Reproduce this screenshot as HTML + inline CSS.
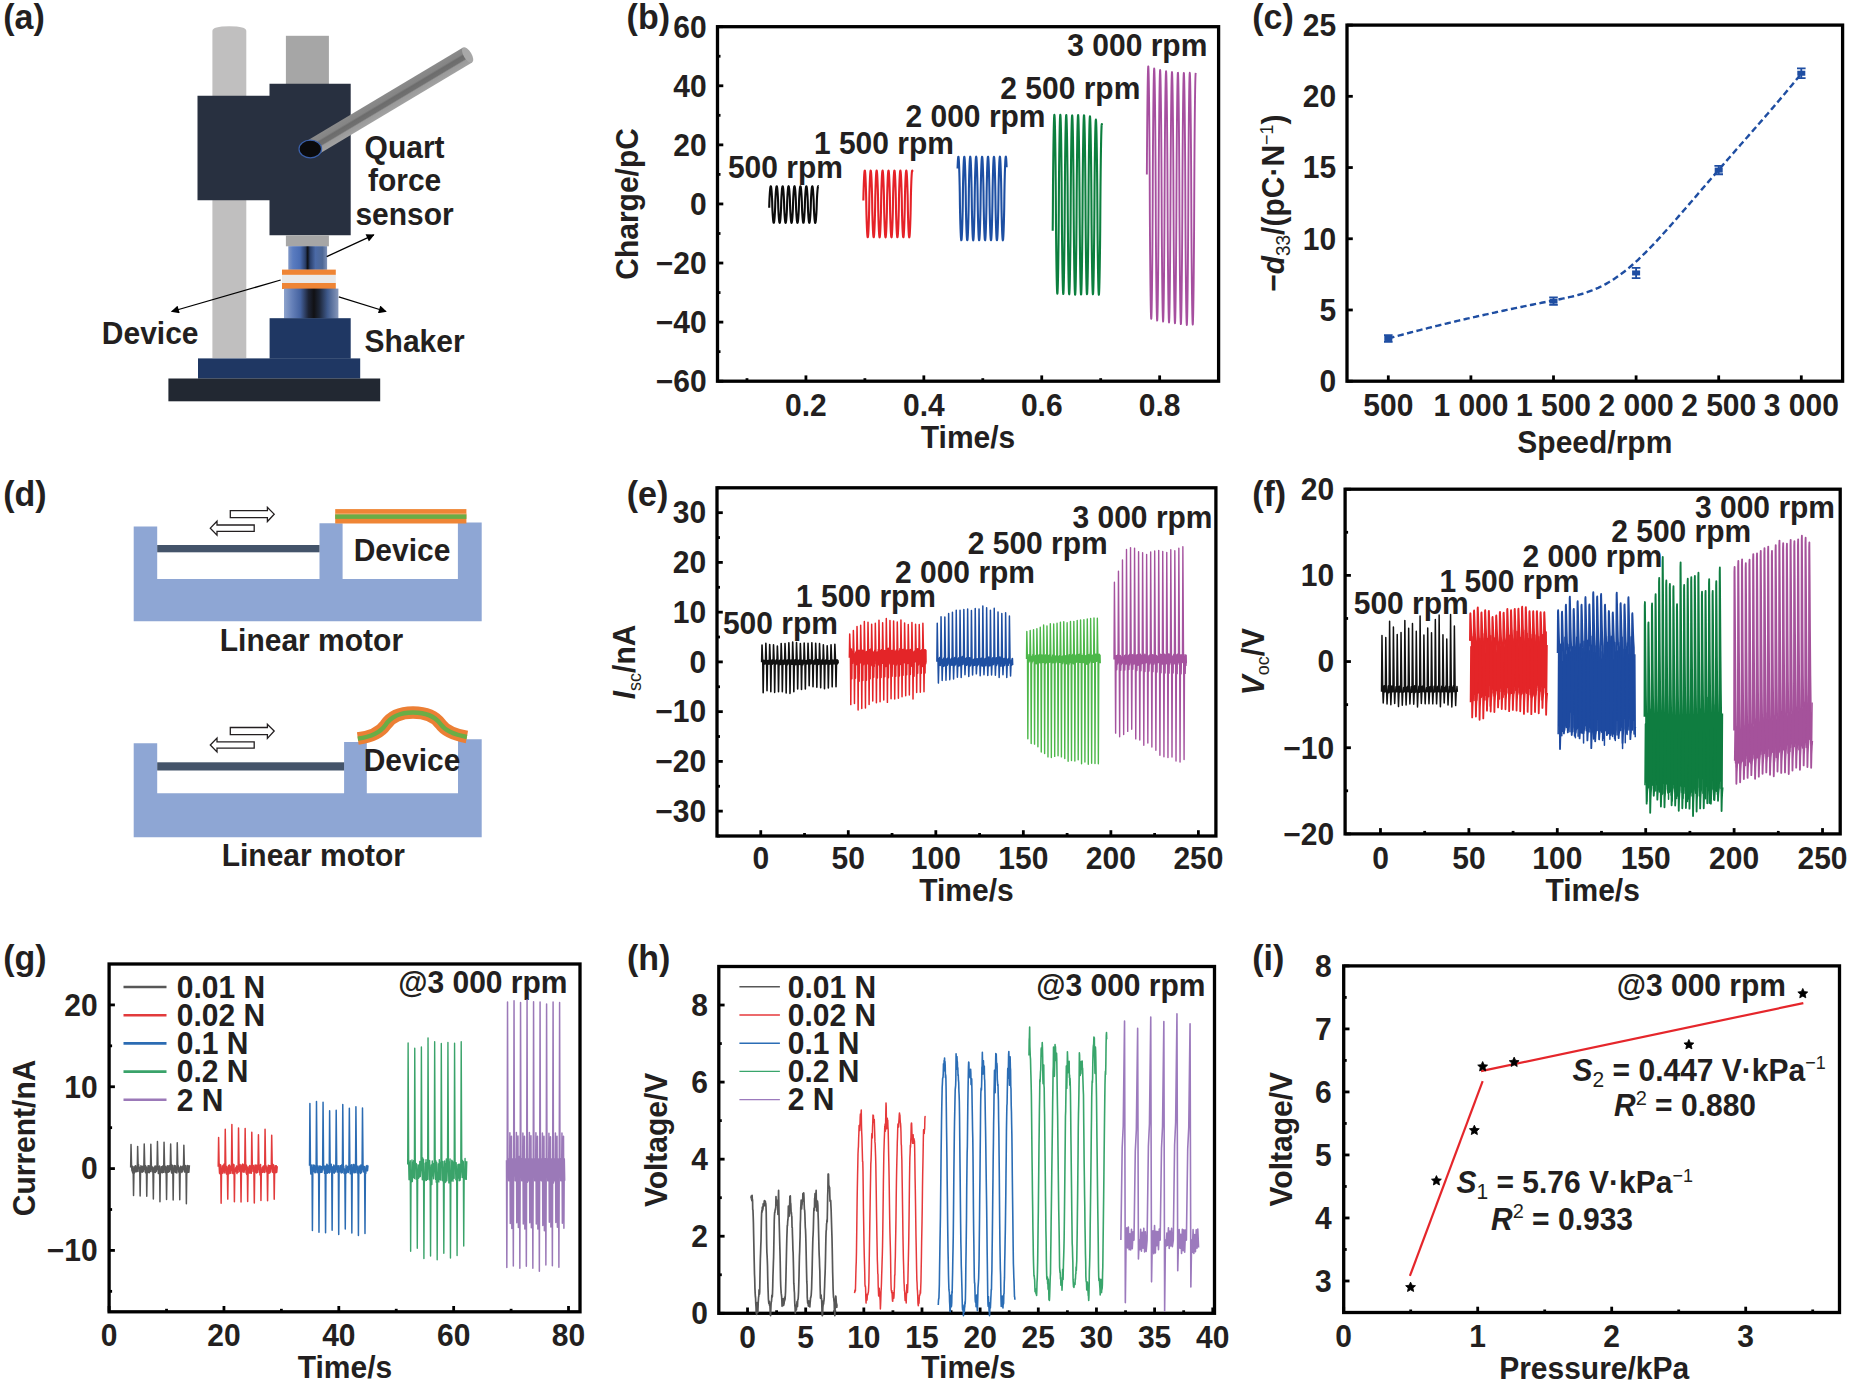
<!DOCTYPE html>
<html><head><meta charset="utf-8"><title>Figure</title>
<style>
html,body{margin:0;padding:0;background:#fff;}
body{width:1850px;height:1390px;overflow:hidden;}
svg{display:block;}
svg text{font-family:"Liberation Sans",Arial,Helvetica,sans-serif;font-weight:bold;fill:#231f20;}
</style></head><body>
<svg width="1850" height="1390" viewBox="0 0 1850 1390">
<rect x="0" y="0" width="1850" height="1390" fill="#fff"/>
<text transform="translate(3.2,28.9) scale(1,1.04)" font-size="34" text-anchor="start">(a)</text>
<text transform="translate(626.6,29) scale(1,1.04)" font-size="34" text-anchor="start">(b)</text>
<text transform="translate(1252.3,29) scale(1,1.04)" font-size="34" text-anchor="start">(c)</text>
<text transform="translate(3.2,505.5) scale(1,1.04)" font-size="34" text-anchor="start">(d)</text>
<text transform="translate(626.8,505.5) scale(1,1.04)" font-size="34" text-anchor="start">(e)</text>
<text transform="translate(1252.2,505.5) scale(1,1.04)" font-size="34" text-anchor="start">(f)</text>
<text transform="translate(3.2,970.2) scale(1,1.04)" font-size="34" text-anchor="start">(g)</text>
<text transform="translate(626.9,970.2) scale(1,1.04)" font-size="34" text-anchor="start">(h)</text>
<text transform="translate(1252.3,970.2) scale(1,1.04)" font-size="34" text-anchor="start">(i)</text>
<line x1="805.93" y1="381.2" x2="805.93" y2="375.4" stroke="#000" stroke-width="2.8"/>
<line x1="923.84" y1="381.2" x2="923.84" y2="375.4" stroke="#000" stroke-width="2.8"/>
<line x1="1041.74" y1="381.2" x2="1041.74" y2="375.4" stroke="#000" stroke-width="2.8"/>
<line x1="1159.65" y1="381.2" x2="1159.65" y2="375.4" stroke="#000" stroke-width="2.8"/>
<line x1="746.98" y1="381.2" x2="746.98" y2="378.2" stroke="#000" stroke-width="2.8"/>
<line x1="864.88" y1="381.2" x2="864.88" y2="378.2" stroke="#000" stroke-width="2.8"/>
<line x1="982.79" y1="381.2" x2="982.79" y2="378.2" stroke="#000" stroke-width="2.8"/>
<line x1="1100.69" y1="381.2" x2="1100.69" y2="378.2" stroke="#000" stroke-width="2.8"/>
<line x1="717.5" y1="381.2" x2="723.3" y2="381.2" stroke="#000" stroke-width="2.8"/>
<line x1="717.5" y1="322.12" x2="723.3" y2="322.12" stroke="#000" stroke-width="2.8"/>
<line x1="717.5" y1="263.03" x2="723.3" y2="263.03" stroke="#000" stroke-width="2.8"/>
<line x1="717.5" y1="203.95" x2="723.3" y2="203.95" stroke="#000" stroke-width="2.8"/>
<line x1="717.5" y1="144.87" x2="723.3" y2="144.87" stroke="#000" stroke-width="2.8"/>
<line x1="717.5" y1="85.78" x2="723.3" y2="85.78" stroke="#000" stroke-width="2.8"/>
<line x1="717.5" y1="26.7" x2="723.3" y2="26.7" stroke="#000" stroke-width="2.8"/>
<line x1="717.5" y1="351.66" x2="720.5" y2="351.66" stroke="#000" stroke-width="2.8"/>
<line x1="717.5" y1="292.57" x2="720.5" y2="292.57" stroke="#000" stroke-width="2.8"/>
<line x1="717.5" y1="233.49" x2="720.5" y2="233.49" stroke="#000" stroke-width="2.8"/>
<line x1="717.5" y1="174.41" x2="720.5" y2="174.41" stroke="#000" stroke-width="2.8"/>
<line x1="717.5" y1="115.32" x2="720.5" y2="115.32" stroke="#000" stroke-width="2.8"/>
<line x1="717.5" y1="56.24" x2="720.5" y2="56.24" stroke="#000" stroke-width="2.8"/>
<rect x="717.5" y="26.7" width="501.1" height="354.5" fill="none" stroke="#000" stroke-width="3.3"/>
<text transform="translate(805.93,415.5) scale(1,1.04)" font-size="30" text-anchor="middle">0.2</text>
<text transform="translate(923.84,415.5) scale(1,1.04)" font-size="30" text-anchor="middle">0.4</text>
<text transform="translate(1041.74,415.5) scale(1,1.04)" font-size="30" text-anchor="middle">0.6</text>
<text transform="translate(1159.65,415.5) scale(1,1.04)" font-size="30" text-anchor="middle">0.8</text>
<text transform="translate(706.6,392) scale(1,1.04)" font-size="30" text-anchor="end">−60</text>
<text transform="translate(706.6,332.92) scale(1,1.04)" font-size="30" text-anchor="end">−40</text>
<text transform="translate(706.6,273.83) scale(1,1.04)" font-size="30" text-anchor="end">−20</text>
<text transform="translate(706.6,214.75) scale(1,1.04)" font-size="30" text-anchor="end">0</text>
<text transform="translate(706.6,155.67) scale(1,1.04)" font-size="30" text-anchor="end">20</text>
<text transform="translate(706.6,96.58) scale(1,1.04)" font-size="30" text-anchor="end">40</text>
<text transform="translate(706.6,37.5) scale(1,1.04)" font-size="30" text-anchor="end">60</text>
<text transform="translate(968.05,447.8) scale(1,1.04)" font-size="30" text-anchor="middle">Time/s</text>
<text transform="translate(638.3,203.95) rotate(-90) scale(1,1.04)" font-size="30" text-anchor="middle">Charge/pC</text>
<polyline points="769.2,207.79 769.35,202.38 769.5,198.78 769.65,195.94 769.8,193.54 769.95,191.5 770.1,189.79 770.24,188.41 770.39,187.36 770.54,186.65 770.69,186.28 770.84,186.25 770.99,186.57 771.14,187.22 771.29,188.21 771.44,189.53 771.59,191.18 771.73,193.17 771.88,195.51 772.03,198.26 772.18,201.67 772.33,207.12 772.48,210.6 772.63,213.39 772.78,215.75 772.93,217.76 773.08,219.44 773.22,220.79 773.37,221.8 773.52,222.48 773.67,222.82 773.82,222.81 773.97,222.47 774.12,221.78 774.27,220.76 774.42,219.4 774.57,217.72 774.71,215.7 774.86,213.33 775.01,210.53 775.16,207.01 775.31,201.57 775.46,198.18 775.61,195.44 775.76,193.12 775.91,191.14 776.06,189.5 776.2,188.18 776.35,187.2 776.5,186.56 776.65,186.25 776.8,186.29 776.95,186.67 777.1,187.39 777.25,188.44 777.4,189.83 777.55,191.54 777.69,193.59 777.84,196 777.99,198.85 778.14,202.49 778.29,207.89 778.44,211.18 778.59,213.88 778.74,216.17 778.89,218.12 779.04,219.73 779.18,221.01 779.33,221.96 779.48,222.57 779.63,222.84 779.78,222.77 779.93,222.36 780.08,221.61 780.23,220.52 780.38,219.1 780.52,217.35 780.67,215.27 780.82,212.82 780.97,209.92 781.12,206.14 781.27,200.83 781.42,197.61 781.57,194.96 781.72,192.71 781.87,190.79 782.01,189.21 782.16,187.96 782.31,187.05 782.46,186.47 782.61,186.23 782.76,186.34 782.91,186.78 783.06,187.56 783.21,188.68 783.36,190.13 783.5,191.91 783.65,194.03 783.8,196.52 783.95,199.48 784.1,203.45 784.25,208.6 784.4,211.75 784.55,214.35 784.7,216.58 784.85,218.46 784.99,220 785.14,221.22 785.29,222.1 785.44,222.65 785.59,222.85 785.74,222.72 785.89,222.24 786.04,221.42 786.19,220.27 786.34,218.79 786.48,216.98 786.63,214.82 786.78,212.3 786.93,209.28 787.08,205.03 787.23,200.14 787.38,197.06 787.53,194.5 787.68,192.31 787.83,190.46 787.97,188.95 788.12,187.76 788.27,186.91 788.42,186.4 788.57,186.23 788.72,186.4 788.87,186.91 789.02,187.76 789.17,188.94 789.32,190.45 789.46,192.3 789.61,194.49 789.76,197.05 789.91,200.13 790.06,205 790.21,209.27 790.36,212.29 790.51,214.81 790.66,216.97 790.81,218.78 790.95,220.27 791.1,221.42 791.25,222.24 791.4,222.72 791.55,222.86 791.7,222.65 791.85,222.11 792,221.23 792.15,220.01 792.3,218.46 792.44,216.59 792.59,214.36 792.74,211.76 792.89,208.62 793.04,203.47 793.19,199.49 793.34,196.53 793.49,194.04 793.64,191.92 793.79,190.14 793.93,188.69 794.08,187.57 794.23,186.78 794.38,186.34 794.53,186.23 794.68,186.47 794.83,187.05 794.98,187.96 795.13,189.21 795.28,190.79 795.42,192.7 795.57,194.95 795.72,197.6 795.87,200.82 796.02,206.12 796.17,209.91 796.32,212.81 796.47,215.26 796.62,217.35 796.76,219.1 796.91,220.52 797.06,221.6 797.21,222.36 797.36,222.77 797.51,222.84 797.66,222.57 797.81,221.96 797.96,221.01 798.11,219.73 798.25,218.12 798.4,216.18 798.55,213.89 798.7,211.2 798.85,207.9 799,202.51 799.15,198.87 799.3,196.02 799.45,193.6 799.6,191.55 799.74,189.83 799.89,188.45 800.04,187.39 800.19,186.67 800.34,186.29 800.49,186.25 800.64,186.55 800.79,187.2 800.94,188.18 801.09,189.49 801.23,191.13 801.38,193.11 801.53,195.43 801.68,198.17 801.83,201.55 801.98,207 802.13,210.52 802.28,213.32 802.43,215.69 802.58,217.71 802.72,219.4 802.87,220.75 803.02,221.78 803.17,222.46 803.32,222.81 803.47,222.82 803.62,222.48 803.77,221.8 803.92,220.79 804.07,219.45 804.21,217.77 804.36,215.76 804.51,213.4 804.66,210.62 804.81,207.13 804.96,201.69 805.11,198.27 805.26,195.52 805.41,193.18 805.56,191.19 805.7,189.54 805.85,188.21 806,187.22 806.15,186.57 806.3,186.26 806.45,186.28 806.6,186.65 806.75,187.36 806.9,188.41 807.05,189.78 807.19,191.49 807.34,193.53 807.49,195.93 807.64,198.76 807.79,202.36 807.94,207.78 808.09,211.1 808.24,213.81 808.39,216.11 808.54,218.06 808.68,219.69 808.83,220.98 808.98,221.94 809.13,222.56 809.28,222.84 809.43,222.78 809.58,222.38 809.73,221.63 809.88,220.56 810.03,219.15 810.17,217.41 810.32,215.33 810.47,212.9 810.62,210.01 810.77,206.28 810.92,200.94 811.07,197.7 811.22,195.03 811.37,192.77 811.51,190.84 811.66,189.26 811.81,188 811.96,187.07 812.11,186.48 812.26,186.23 812.41,186.33 812.56,186.76 812.71,187.54 812.86,188.65 813,190.09 813.15,191.86 813.3,193.97 813.45,196.44 813.6,199.38 813.75,203.29 813.9,208.5 814.05,211.66 814.2,214.28 814.35,216.52 814.49,218.41 814.64,219.96 814.79,221.19 814.94,222.08 815.09,222.64 815.24,222.85 815.39,222.73 815.54,222.26 815.69,221.45 815.84,220.31 815.98,218.84 816.13,217.03 816.28,214.89 816.43,212.38 816.58,209.38 816.73,205.23 816.88,200.24 817.03,197.14 817.18,194.56 817.33,192.37 817.47,190.51 817.62,188.98 817.77,187.79 817.92,186.93 818.07,186.41 818.22,186.23 818.37,186.39" fill="none" stroke="#0b0b0b" stroke-width="2.1" stroke-linejoin="round"/>
<polyline points="863.35,200.42 863.5,193.73 863.65,188.51 863.8,184.1 863.95,180.35 864.09,177.2 864.24,174.66 864.39,172.73 864.54,171.4 864.69,170.69 864.84,170.61 864.99,171.15 865.14,172.31 865.29,174.08 865.44,176.46 865.58,179.44 865.73,183.03 865.88,187.26 866.03,192.23 866.18,198.36 866.33,208.26 866.48,214.72 866.63,219.85 866.78,224.19 866.93,227.88 867.07,230.97 867.22,233.45 867.37,235.33 867.52,236.6 867.67,237.24 867.82,237.27 867.97,236.67 868.12,235.45 868.27,233.61 868.42,231.18 868.56,228.14 868.71,224.49 868.86,220.2 869.01,215.14 869.16,208.83 869.31,198.9 869.46,192.64 869.61,187.6 869.76,183.32 869.91,179.69 870.05,176.66 870.2,174.24 870.35,172.42 870.5,171.21 870.65,170.63 870.8,170.67 870.95,171.33 871.1,172.6 871.25,174.5 871.4,176.99 871.54,180.09 871.69,183.8 871.84,188.16 871.99,193.3 872.14,199.81 872.29,209.7 872.44,215.79 872.59,220.75 872.74,224.96 872.88,228.53 873.03,231.5 873.18,233.86 873.33,235.62 873.48,236.77 873.63,237.3 873.78,237.2 873.93,236.48 874.08,235.14 874.23,233.19 874.37,230.63 874.52,227.48 874.67,223.71 874.82,219.28 874.97,214.04 875.12,207.29 875.27,197.53 875.42,191.59 875.57,186.72 875.72,182.57 875.86,179.06 876.01,176.15 876.16,173.84 876.31,172.14 876.46,171.05 876.61,170.59 876.76,170.75 876.91,171.53 877.06,172.92 877.21,174.93 877.35,177.55 877.5,180.76 877.65,184.59 877.8,189.09 877.95,194.42 878.1,201.47 878.25,211.02 878.4,216.82 878.55,221.62 878.7,225.7 878.84,229.15 878.99,232 879.14,234.25 879.29,235.89 879.44,236.92 879.59,237.33 879.74,237.11 879.89,236.27 880.04,234.81 880.19,232.74 880.33,230.07 880.48,226.79 880.63,222.9 880.78,218.34 880.93,212.9 881.08,205.44 881.23,196.25 881.38,190.58 881.53,185.86 881.68,181.84 881.82,178.44 881.97,175.65 882.12,173.46 882.27,171.88 882.42,170.91 882.57,170.57 882.72,170.85 882.87,171.75 883.02,173.27 883.17,175.39 883.31,178.12 883.46,181.46 883.61,185.41 883.76,190.05 883.91,195.6 884.06,203.83 884.21,212.26 884.36,217.82 884.51,222.46 884.66,226.42 884.8,229.75 884.95,232.49 885.1,234.62 885.25,236.14 885.4,237.05 885.55,237.33 885.7,236.99 885.85,236.03 886,234.45 886.15,232.27 886.29,229.48 886.44,226.09 886.59,222.07 886.74,217.36 886.89,211.69 887.04,202.53 887.19,195.04 887.34,189.6 887.49,185.03 887.63,181.13 887.78,177.85 887.93,175.18 888.08,173.1 888.23,171.64 888.38,170.8 888.53,170.57 888.68,170.97 888.83,172 888.98,173.63 889.12,175.88 889.27,178.72 889.42,182.18 889.57,186.25 889.72,191.04 889.87,196.83 890.02,206.36 890.17,213.44 890.32,218.78 890.47,223.28 890.61,227.11 890.76,230.33 890.91,232.95 891.06,234.96 891.21,236.37 891.36,237.15 891.51,237.31 891.66,236.85 891.81,235.77 891.96,234.08 892.1,231.77 892.25,228.87 892.4,225.36 892.55,221.21 892.7,216.35 892.85,210.42 893,200.66 893.15,193.9 893.3,188.65 893.45,184.22 893.59,180.45 893.74,177.29 893.89,174.73 894.04,172.77 894.19,171.43 894.34,170.71 894.49,170.6 894.64,171.12 894.79,172.27 894.94,174.02 895.08,176.38 895.23,179.35 895.38,182.92 895.53,187.12 895.68,192.07 895.83,198.15 895.98,208.03 896.13,214.56 896.28,219.71 896.43,224.07 896.57,227.79 896.72,230.89 896.87,233.39 897.02,235.28 897.17,236.57 897.32,237.23 897.47,237.27 897.62,236.69 897.77,235.49 897.92,233.68 898.06,231.25 898.21,228.23 898.36,224.6 898.51,220.33 898.66,215.3 898.81,209.05 898.96,199.12 899.11,192.8 899.26,187.73 899.41,183.44 899.55,179.79 899.7,176.74 899.85,174.3 900,172.46 900.15,171.24 900.3,170.64 900.45,170.66 900.6,171.3 900.75,172.56 900.9,174.43 901.04,176.91 901.19,179.99 901.34,183.68 901.49,188.02 901.64,193.14 901.79,199.59 901.94,209.5 902.09,215.64 902.24,220.61 902.38,224.84 902.53,228.44 902.68,231.42 902.83,233.8 902.98,235.58 903.13,236.75 903.28,237.29 903.43,237.21 903.58,236.51 903.73,235.19 903.87,233.25 904.02,230.71 904.17,227.58 904.32,223.83 904.47,219.42 904.62,214.21 904.77,207.53 904.92,197.72 905.07,191.74 905.22,186.85 905.36,182.68 905.51,179.15 905.66,176.22 905.81,173.9 905.96,172.18 906.11,171.07 906.26,170.59 906.41,170.73 906.56,171.49 906.71,172.88 906.85,174.87 907,177.46 907.15,180.66 907.3,184.47 907.45,188.95 907.6,194.25 907.75,201.21 907.9,210.83 908.05,216.67 908.2,221.49 908.34,225.59 908.49,229.06 908.64,231.93 908.79,234.2 908.94,235.86 909.09,236.9 909.24,237.32 909.39,237.12 909.54,236.3 909.69,234.86 909.83,232.81 909.98,230.15 910.13,226.9 910.28,223.02 910.43,218.48 910.58,213.07 910.73,205.75 910.88,196.43 911.03,190.72 911.18,185.98 911.32,181.95 911.47,178.53 911.62,175.72 911.77,173.51 911.92,171.92 912.07,170.93 912.22,170.57 912.37,170.83 912.52,171.71" fill="none" stroke="#e52228" stroke-width="2.1" stroke-linejoin="round"/>
<polyline points="957.56,168.43 957.71,164.58 957.85,161.48 958,159.15 958.15,157.58 958.3,156.79 958.45,156.78 958.6,157.55 958.75,159.09 958.9,161.41 959.05,164.49 959.2,168.31 959.35,172.91 959.49,178.31 959.64,184.68 959.79,192.65 959.94,205.09 960.09,212.87 960.24,219.14 960.39,224.47 960.54,229 960.69,232.77 960.84,235.78 960.99,238.03 961.13,239.52 961.28,240.22 961.43,240.15 961.58,239.29 961.73,237.66 961.88,235.26 962.03,232.1 962.18,228.19 962.33,223.51 962.48,218.01 962.63,211.52 962.77,203.23 962.92,190.9 963.07,183.36 963.22,177.2 963.37,171.96 963.52,167.52 963.67,163.83 963.82,160.9 963.97,158.74 964.12,157.34 964.27,156.72 964.41,156.88 964.56,157.82 964.71,159.54 964.86,162.02 965.01,165.26 965.16,169.26 965.31,174.02 965.46,179.61 965.61,186.25 965.76,194.91 965.91,207 966.05,214.34 966.2,220.39 966.35,225.54 966.5,229.89 966.65,233.49 966.8,236.34 966.95,238.43 967.1,239.74 967.25,240.27 967.4,240.03 967.55,239 967.69,237.2 967.84,234.63 967.99,231.31 968.14,227.23 968.29,222.38 968.44,216.68 968.59,209.91 968.74,200.74 968.89,189.07 969.04,181.91 969.18,175.98 969.33,170.92 969.48,166.64 969.63,163.13 969.78,160.36 969.93,158.36 970.08,157.13 970.23,156.69 970.38,157.02 970.53,158.13 970.68,160.02 970.82,162.67 970.97,166.07 971.12,170.23 971.27,175.17 971.42,180.97 971.57,187.89 971.72,197.94 971.87,208.77 972.02,215.76 972.17,221.59 972.32,226.56 972.46,230.75 972.61,234.18 972.76,236.86 972.91,238.78 973.06,239.92 973.21,240.29 973.36,239.87 973.51,238.67 973.66,236.7 973.81,233.97 973.96,230.48 974.1,226.23 974.25,221.2 974.4,215.31 974.55,208.22 974.7,196.76 974.85,187.35 975,180.53 975.15,174.8 975.3,169.91 975.45,165.81 975.6,162.45 975.74,159.86 975.89,158.03 976.04,156.97 976.19,156.69 976.34,157.2 976.49,158.48 976.64,160.53 976.79,163.35 976.94,166.92 977.09,171.25 977.24,176.37 977.38,182.37 977.53,189.64 977.68,201.62 977.83,210.44 977.98,217.12 978.13,222.75 978.28,227.54 978.43,231.57 978.58,234.84 978.73,237.35 978.88,239.1 979.02,240.07 979.17,240.26 979.32,239.67 979.47,238.3 979.62,236.16 979.77,233.26 979.92,229.61 980.07,225.2 980.22,219.99 980.37,213.87 980.52,206.4 980.66,194.14 980.81,185.73 980.96,179.19 981.11,173.66 981.26,168.95 981.41,165.01 981.56,161.82 981.71,159.39 981.86,157.73 982.01,156.84 982.16,156.74 982.3,157.41 982.45,158.86 982.6,161.09 982.75,164.07 982.9,167.81 983.05,172.3 983.2,177.6 983.35,183.84 983.5,191.53 983.65,203.94 983.8,212.02 983.94,218.43 984.09,223.87 984.24,228.49 984.39,232.35 984.54,235.45 984.69,237.8 984.84,239.38 984.99,240.18 985.14,240.2 985.29,239.44 985.44,237.9 985.58,235.59 985.73,232.53 985.88,228.71 986.03,224.12 986.18,218.73 986.33,212.38 986.48,204.43 986.63,191.99 986.78,184.19 986.93,177.9 987.08,172.56 987.22,168.02 987.37,164.24 987.52,161.22 987.67,158.96 987.82,157.47 987.97,156.75 988.12,156.82 988.27,157.66 988.42,159.29 988.57,161.68 988.72,164.83 988.86,168.73 989.01,173.4 989.16,178.88 989.31,185.36 989.46,193.61 989.61,205.96 989.76,213.53 989.91,219.7 990.06,224.95 990.21,229.4 990.35,233.1 990.5,236.03 990.65,238.21 990.8,239.62 990.95,240.25 991.1,240.1 991.25,239.17 991.4,237.46 991.55,234.98 991.7,231.75 991.85,227.77 991.99,223.01 992.14,217.43 992.29,210.81 992.44,202.2 992.59,190.07 992.74,182.71 992.89,176.65 993.04,171.49 993.19,167.13 993.34,163.51 993.49,160.66 993.63,158.57 993.78,157.24 993.93,156.7 994.08,156.94 994.23,157.95 994.38,159.75 994.53,162.3 994.68,165.62 994.83,169.69 994.98,174.53 995.13,180.21 995.27,186.97 995.42,196.07 995.57,207.8 995.72,214.98 995.87,220.93 996.02,225.99 996.17,230.28 996.32,233.81 996.47,236.58 996.62,238.59 996.77,239.82 996.91,240.28 997.06,239.96 997.21,238.86 997.36,236.98 997.51,234.34 997.66,230.94 997.81,226.79 997.96,221.86 998.11,216.08 998.26,209.17 998.41,199.27 998.55,188.29 998.7,181.29 998.85,175.45 999,170.47 999.15,166.27 999.3,162.82 999.45,160.13 999.6,158.21 999.75,157.06 999.9,156.68 1000.05,157.09 1000.19,158.28 1000.34,160.24 1000.49,162.97 1000.64,166.45 1000.79,170.68 1000.94,175.7 1001.09,181.58 1001.24,188.66 1001.39,200.03 1001.54,209.52 1001.69,216.37 1001.83,222.11 1001.98,227 1002.13,231.12 1002.28,234.48 1002.43,237.08 1002.58,238.93 1002.73,239.99 1002.88,240.28 1003.03,239.78 1003.18,238.51 1003.33,236.47 1003.47,233.66 1003.62,230.1 1003.77,225.78 1003.92,220.67 1004.07,214.68 1004.22,207.43 1004.37,195.5 1004.52,186.62 1004.67,179.93 1004.82,174.29 1004.97,169.48 1005.11,165.45 1005.26,162.17 1005.41,159.65 1005.56,157.89 1005.71,156.91 1005.86,156.71 1006.01,157.29 1006.16,158.64 1006.31,160.77 1006.46,163.66 1006.61,167.31" fill="none" stroke="#1d4fa3" stroke-width="2.1" stroke-linejoin="round"/>
<polyline points="1052.71,230.69 1052.86,212.43 1053,186.43 1053.15,170.65 1053.3,157.67 1053.45,146.62 1053.6,137.25 1053.75,129.51 1053.9,123.37 1054.05,118.86 1054.2,115.99 1054.34,114.78 1054.49,115.23 1054.64,117.36 1054.79,121.13 1054.94,126.54 1055.09,133.57 1055.24,142.2 1055.39,152.49 1055.54,164.55 1055.68,178.88 1055.83,197.9 1055.98,223.37 1056.13,238.86 1056.28,251.67 1056.43,262.59 1056.58,271.83 1056.73,279.45 1056.88,285.46 1057.02,289.85 1057.17,292.59 1057.32,293.67 1057.47,293.07 1057.62,290.82 1057.77,286.91 1057.92,281.36 1058.07,274.2 1058.22,265.43 1058.36,255 1058.51,242.77 1058.66,228.19 1058.81,208.19 1058.96,183.57 1059.11,168.38 1059.26,155.74 1059.41,144.97 1059.56,135.87 1059.7,128.38 1059.85,122.5 1060,118.26 1060.15,115.67 1060.3,114.74 1060.45,115.48 1060.6,117.88 1060.75,121.94 1060.9,127.64 1061.04,134.95 1061.19,143.87 1061.34,154.46 1061.49,166.88 1061.64,181.73 1061.79,203.4 1061.94,226.44 1062.09,241.38 1062.24,253.86 1062.38,264.5 1062.53,273.48 1062.68,280.85 1062.83,286.59 1062.98,290.71 1063.13,293.17 1063.28,293.97 1063.43,293.09 1063.58,290.55 1063.72,286.36 1063.87,280.53 1064.02,273.09 1064.17,264.04 1064.32,253.31 1064.47,240.73 1064.62,225.62 1064.77,201.39 1064.92,180.95 1065.06,166.28 1065.21,153.98 1065.36,143.5 1065.51,134.68 1065.66,127.46 1065.81,121.87 1065.96,117.91 1066.11,115.6 1066.26,114.97 1066.4,116 1066.55,118.7 1066.7,123.04 1066.85,129.02 1067,136.62 1067.15,145.83 1067.3,156.72 1067.45,169.5 1067.6,184.91 1067.74,210.19 1067.89,229.54 1068.04,243.98 1068.19,256.14 1068.34,266.5 1068.49,275.21 1068.64,282.3 1068.79,287.78 1068.94,291.62 1069.09,293.81 1069.23,294.32 1069.38,293.17 1069.53,290.35 1069.68,285.88 1069.83,279.78 1069.98,272.07 1070.13,262.74 1070.28,251.72 1070.43,238.78 1070.57,223.07 1070.72,197.16 1070.87,178.63 1071.02,164.43 1071.17,152.46 1071.32,142.26 1071.47,133.71 1071.62,126.76 1071.77,121.44 1071.91,117.76 1072.06,115.73 1072.21,115.38 1072.36,116.69 1072.51,119.66 1072.66,124.27 1072.81,130.51 1072.96,138.37 1073.11,147.85 1073.25,159.03 1073.4,172.18 1073.55,188.25 1073.7,214.61 1073.85,232.53 1074,246.53 1074.15,258.38 1074.3,268.47 1074.45,276.91 1074.59,283.75 1074.74,288.96 1074.89,292.53 1075.04,294.44 1075.19,294.67 1075.34,293.23 1075.49,290.12 1075.64,285.37 1075.79,278.98 1075.93,270.97 1076.08,261.33 1076.23,249.97 1076.38,236.61 1076.53,220.14 1076.68,193.48 1076.83,176.06 1076.98,162.24 1077.13,150.53 1077.27,140.57 1077.42,132.24 1077.57,125.53 1077.72,120.44 1077.87,117.01 1078.02,115.24 1078.17,115.15 1078.32,116.74 1078.47,119.99 1078.61,124.89 1078.76,131.43 1078.91,139.58 1079.06,149.37 1079.21,160.88 1079.36,174.45 1079.51,191.33 1079.66,218.07 1079.81,235.02 1079.95,248.62 1080.1,260.16 1080.25,269.97 1080.4,278.14 1080.55,284.69 1080.7,289.62 1080.85,292.89 1081,294.49 1081.15,294.42 1081.29,292.68 1081.44,289.27 1081.59,284.21 1081.74,277.52 1081.89,269.21 1082.04,259.26 1082.19,247.57 1082.34,233.79 1082.49,216.45 1082.63,189.79 1082.78,173.28 1082.93,159.9 1083.08,148.54 1083.23,138.9 1083.38,130.9 1083.53,124.51 1083.68,119.76 1083.83,116.65 1083.97,115.21 1084.12,115.44 1084.27,117.35 1084.42,120.91 1084.57,126.11 1084.72,132.92 1084.87,141.35 1085.02,151.41 1085.17,163.22 1085.31,177.16 1085.46,194.96 1085.61,221.31 1085.76,237.39 1085.91,250.53 1086.06,261.71 1086.21,271.18 1086.36,279.04 1086.51,285.28 1086.65,289.89 1086.8,292.86 1086.95,294.17 1087.1,293.82 1087.25,291.81 1087.4,288.15 1087.55,282.86 1087.7,275.96 1087.85,267.45 1087.99,257.32 1088.14,245.43 1088.29,231.35 1088.44,213.03 1088.59,187.22 1088.74,171.57 1088.89,158.69 1089.04,147.74 1089.19,138.47 1089.33,130.81 1089.48,124.76 1089.63,120.32 1089.78,117.52 1089.93,116.38 1090.08,116.89 1090.23,119.05 1090.38,122.86 1090.53,128.29 1090.67,135.32 1090.82,143.95 1090.97,154.21 1091.12,166.24 1091.27,180.53 1091.42,199.57 1091.57,224.74 1091.72,240.06 1091.87,252.76 1092.02,263.57 1092.16,272.72 1092.31,280.27 1092.46,286.21 1092.61,290.54 1092.76,293.23 1092.91,294.27 1093.06,293.67 1093.21,291.42 1093.36,287.54 1093.5,282.06 1093.65,274.99 1093.8,266.34 1093.95,256.07 1094.1,244.03 1094.25,229.7 1094.4,209.88 1094.55,185.96 1094.7,171.16 1094.84,158.88 1094.99,148.43 1095.14,139.63 1095.29,132.43 1095.44,126.81 1095.59,122.79 1095.74,120.39 1095.89,119.61 1096.04,120.47 1096.18,122.96 1096.33,127.05 1096.48,132.72 1096.63,139.97 1096.78,148.77 1096.93,159.18 1097.08,171.37 1097.23,185.91 1097.38,207.76 1097.52,229.42 1097.67,243.9 1097.82,256 1097.97,266.31 1098.12,274.99 1098.27,282.1 1098.42,287.65 1098.57,291.61 1098.72,293.96 1098.86,294.71 1099.01,293.85 1099.16,291.38 1099.31,287.32 1099.46,281.7 1099.61,274.53 1099.76,265.82 1099.91,255.51 1100.06,243.42 1100.2,228.91 1100.35,205.5 1100.5,186.18 1100.65,172.24 1100.8,160.56 1100.95,150.64 1101.1,142.31 1101.25,135.53 1101.4,130.3 1101.54,126.65 1101.69,124.57 1101.84,124.09 1101.99,125.2" fill="none" stroke="#0c7f3e" stroke-width="2.1" stroke-linejoin="round"/>
<polyline points="1146.85,174.55 1147,150.46 1147.15,131.27 1147.3,115.01 1147.45,101.19 1147.6,89.67 1147.75,80.41 1147.9,73.45 1148.05,68.8 1148.2,66.48 1148.34,66.52 1148.49,68.91 1148.64,73.63 1148.79,80.67 1148.94,89.99 1149.09,101.58 1149.24,115.46 1149.39,131.79 1149.54,151.02 1149.69,175.08 1149.83,212.58 1149.98,236.04 1150.13,254.98 1150.28,271.08 1150.43,284.76 1150.58,296.14 1150.73,305.26 1150.88,312.1 1151.03,316.61 1151.18,318.79 1151.32,318.63 1151.47,316.11 1151.62,311.26 1151.77,304.1 1151.92,294.66 1152.07,282.95 1152.22,268.95 1152.37,252.48 1152.52,233.02 1152.67,208.25 1152.81,171.15 1152.96,148.44 1153.11,129.92 1153.26,114.18 1153.41,100.84 1153.56,89.78 1153.71,80.99 1153.86,74.49 1154.01,70.31 1154.16,68.46 1154.3,68.96 1154.45,71.8 1154.6,76.98 1154.75,84.45 1154.9,94.21 1155.05,106.23 1155.2,120.55 1155.35,137.37 1155.5,157.27 1155.65,183.11 1155.79,219.71 1155.94,241.94 1156.09,260.23 1156.24,275.81 1156.39,289.01 1156.54,299.94 1156.69,308.59 1156.84,314.94 1156.99,318.97 1157.14,320.66 1157.28,320.01 1157.43,317.01 1157.58,311.69 1157.73,304.07 1157.88,294.18 1158.03,282.02 1158.18,267.54 1158.33,250.55 1158.48,230.36 1158.63,203.37 1158.77,167.85 1158.92,146.23 1159.07,128.32 1159.22,113.07 1159.37,100.18 1159.52,89.56 1159.67,81.21 1159.82,75.15 1159.97,71.4 1160.12,69.99 1160.26,70.93 1160.41,74.21 1160.56,79.81 1160.71,87.7 1160.86,97.87 1161.01,110.29 1161.16,125.05 1161.31,142.35 1161.46,162.98 1161.61,191.82 1161.75,225.7 1161.9,246.89 1162.05,264.55 1162.2,279.6 1162.35,292.31 1162.5,302.76 1162.65,310.93 1162.8,316.82 1162.95,320.39 1163.1,321.62 1163.24,320.5 1163.39,317.05 1163.54,311.28 1163.69,303.22 1163.84,292.9 1163.99,280.31 1164.14,265.39 1164.29,247.87 1164.44,226.88 1164.59,193.89 1164.73,164.3 1164.88,143.61 1165.03,126.3 1165.18,111.55 1165.33,99.13 1165.48,88.97 1165.63,81.07 1165.78,75.47 1165.93,72.19 1166.08,71.25 1166.22,72.64 1166.37,76.38 1166.52,82.41 1166.67,90.73 1166.82,101.31 1166.97,114.16 1167.12,129.36 1167.27,147.2 1167.42,168.68 1167.57,203.77 1167.71,231.24 1167.86,251.56 1168.01,268.65 1168.16,283.21 1168.31,295.46 1168.46,305.45 1168.61,313.18 1168.76,318.6 1168.91,321.71 1169.06,322.48 1169.2,320.9 1169.35,317 1169.5,310.78 1169.65,302.27 1169.8,291.5 1169.95,278.46 1170.1,263.06 1170.25,244.96 1170.4,223.01 1170.55,186.81 1170.69,160.75 1170.84,140.84 1170.99,124.05 1171.14,109.76 1171.29,97.77 1171.44,88.04 1171.59,80.58 1171.74,75.42 1171.89,72.58 1172.04,72.08 1172.18,73.93 1172.33,78.11 1172.48,84.59 1172.63,93.37 1172.78,104.4 1172.93,117.71 1173.08,133.41 1173.23,151.85 1173.38,174.4 1173.53,211.34 1173.67,236.4 1173.82,255.99 1173.97,272.57 1174.12,286.68 1174.27,298.49 1174.42,308.04 1174.57,315.32 1174.72,320.29 1174.87,322.94 1175.02,323.25 1175.16,321.21 1175.31,316.85 1175.46,310.17 1175.61,301.21 1175.76,289.99 1175.91,276.49 1176.06,260.58 1176.21,241.85 1176.36,218.73 1176.51,181.45 1176.65,157.27 1176.8,138.04 1176.95,121.75 1177.1,107.89 1177.25,96.32 1177.4,87.01 1177.55,79.98 1177.7,75.26 1177.85,72.86 1178,72.81 1178.14,75.11 1178.29,79.74 1178.44,86.68 1178.59,95.9 1178.74,107.38 1178.89,121.16 1179.04,137.37 1179.19,156.48 1179.34,180.36 1179.49,217.78 1179.63,241.29 1179.78,260.23 1179.93,276.33 1180.08,290 1180.23,301.39 1180.38,310.52 1180.53,317.36 1180.68,321.89 1180.83,324.08 1180.98,323.93 1181.12,321.43 1181.27,316.59 1181.42,309.44 1181.57,300.01 1181.72,288.31 1181.87,274.31 1182.02,257.85 1182.17,238.4 1182.32,213.72 1182.47,176.48 1182.61,153.61 1182.76,134.99 1182.91,119.15 1183.06,105.7 1183.21,94.55 1183.36,85.66 1183.51,79.06 1183.66,74.78 1183.81,72.85 1183.96,73.26 1184.1,76.02 1184.25,81.12 1184.4,88.54 1184.55,98.23 1184.7,110.2 1184.85,124.48 1185,141.25 1185.15,161.11 1185.3,186.81 1185.45,223.61 1185.59,245.96 1185.74,264.33 1185.89,279.97 1186.04,293.21 1186.19,304.16 1186.34,312.83 1186.49,319.2 1186.64,323.25 1186.79,324.96 1186.94,324.31 1187.08,321.31 1187.23,315.97 1187.38,308.33 1187.53,298.4 1187.68,286.21 1187.83,271.69 1187.98,254.65 1188.13,234.42 1188.28,207.53 1188.43,171.67 1188.57,149.86 1188.72,131.81 1188.87,116.44 1189.02,103.44 1189.17,92.71 1189.32,84.26 1189.47,78.11 1189.62,74.29 1189.77,72.8 1189.92,73.68 1190.06,76.9 1190.21,82.45 1190.36,90.3 1190.51,100.44 1190.66,112.84 1190.81,127.57 1190.96,144.86 1191.11,165.47 1191.26,194.02 1191.41,228.32 1191.55,249.63 1191.7,267.36 1191.85,282.47 1192,295.23 1192.15,305.72 1192.3,313.92 1192.45,319.83 1192.6,323.42 1192.75,324.66 1192.9,323.55 1193.04,320.09 1193.19,314.3 1193.34,306.22 1193.49,295.87 1193.64,283.24 1193.79,268.27 1193.94,250.71 1194.09,229.68 1194.24,197.11 1194.39,166.82 1194.53,145.96 1194.68,128.51 1194.83,113.64 1194.98,101.1 1195.13,90.84 1195.28,82.86 1195.43,77.17 1195.58,73.81 1195.73,72.79" fill="none" stroke="#a64f9f" stroke-width="1.9" stroke-linejoin="round"/>
<text transform="translate(727.9,177.8) scale(1,1.04)" font-size="30" text-anchor="start">500 rpm</text>
<text transform="translate(813.9,154.3) scale(1,1.04)" font-size="30" text-anchor="start">1 500 rpm</text>
<text transform="translate(905.5,127.3) scale(1,1.04)" font-size="30" text-anchor="start">2 000 rpm</text>
<text transform="translate(1000.3,99.3) scale(1,1.04)" font-size="30" text-anchor="start">2 500 rpm</text>
<text transform="translate(1067.3,55.8) scale(1,1.04)" font-size="30" text-anchor="start">3 000 rpm</text>
<line x1="1388.3" y1="381.2" x2="1388.3" y2="375.4" stroke="#000" stroke-width="2.8"/>
<line x1="1470.9" y1="381.2" x2="1470.9" y2="375.4" stroke="#000" stroke-width="2.8"/>
<line x1="1553.5" y1="381.2" x2="1553.5" y2="375.4" stroke="#000" stroke-width="2.8"/>
<line x1="1636.1" y1="381.2" x2="1636.1" y2="375.4" stroke="#000" stroke-width="2.8"/>
<line x1="1718.7" y1="381.2" x2="1718.7" y2="375.4" stroke="#000" stroke-width="2.8"/>
<line x1="1801.3" y1="381.2" x2="1801.3" y2="375.4" stroke="#000" stroke-width="2.8"/>
<line x1="1347" y1="381.2" x2="1352.8" y2="381.2" stroke="#000" stroke-width="2.8"/>
<line x1="1347" y1="309.98" x2="1352.8" y2="309.98" stroke="#000" stroke-width="2.8"/>
<line x1="1347" y1="238.76" x2="1352.8" y2="238.76" stroke="#000" stroke-width="2.8"/>
<line x1="1347" y1="167.54" x2="1352.8" y2="167.54" stroke="#000" stroke-width="2.8"/>
<line x1="1347" y1="96.32" x2="1352.8" y2="96.32" stroke="#000" stroke-width="2.8"/>
<line x1="1347" y1="25.1" x2="1352.8" y2="25.1" stroke="#000" stroke-width="2.8"/>
<rect x="1347" y="25.1" width="495.6" height="356.1" fill="none" stroke="#000" stroke-width="3.3"/>
<text transform="translate(1388.3,415.5) scale(1,1.04)" font-size="30" text-anchor="middle">500</text>
<text transform="translate(1470.9,415.5) scale(1,1.04)" font-size="30" text-anchor="middle">1 000</text>
<text transform="translate(1553.5,415.5) scale(1,1.04)" font-size="30" text-anchor="middle">1 500</text>
<text transform="translate(1636.1,415.5) scale(1,1.04)" font-size="30" text-anchor="middle">2 000</text>
<text transform="translate(1718.7,415.5) scale(1,1.04)" font-size="30" text-anchor="middle">2 500</text>
<text transform="translate(1801.3,415.5) scale(1,1.04)" font-size="30" text-anchor="middle">3 000</text>
<text transform="translate(1336.1,392) scale(1,1.04)" font-size="30" text-anchor="end">0</text>
<text transform="translate(1336.1,320.78) scale(1,1.04)" font-size="30" text-anchor="end">5</text>
<text transform="translate(1336.1,249.56) scale(1,1.04)" font-size="30" text-anchor="end">10</text>
<text transform="translate(1336.1,178.34) scale(1,1.04)" font-size="30" text-anchor="end">15</text>
<text transform="translate(1336.1,107.12) scale(1,1.04)" font-size="30" text-anchor="end">20</text>
<text transform="translate(1336.1,35.9) scale(1,1.04)" font-size="30" text-anchor="end">25</text>
<text transform="translate(1594.8,453.3) scale(1,1.04)" font-size="30" text-anchor="middle">Speed/rpm</text>
<text transform="translate(1283.5,203.15) rotate(-90) scale(1,1.04)" font-size="30" text-anchor="middle">−<tspan font-style="italic">d</tspan><tspan font-size="19" dy="6" font-weight="normal">33</tspan><tspan dy="-6">/(pC·N</tspan><tspan font-size="18" dy="-10" font-weight="normal">−1</tspan><tspan dy="10">)</tspan></text>
<polyline points="1388.3,338.47 1389.68,338.09 1391.06,337.71 1392.44,337.33 1393.83,336.95 1395.21,336.58 1396.59,336.2 1397.97,335.83 1399.35,335.46 1400.73,335.09 1402.11,334.72 1403.49,334.35 1404.88,333.99 1406.26,333.62 1407.64,333.26 1409.02,332.89 1410.4,332.53 1411.78,332.17 1413.16,331.81 1414.54,331.46 1415.93,331.1 1417.31,330.74 1418.69,330.39 1420.07,330.04 1421.45,329.69 1422.83,329.34 1424.21,328.99 1425.59,328.64 1426.98,328.29 1428.36,327.94 1429.74,327.6 1431.12,327.26 1432.5,326.91 1433.88,326.57 1435.26,326.23 1436.64,325.89 1438.03,325.56 1439.41,325.22 1440.79,324.88 1442.17,324.55 1443.55,324.21 1444.93,323.88 1446.31,323.55 1447.69,323.22 1449.08,322.89 1450.46,322.56 1451.84,322.23 1453.22,321.91 1454.6,321.58 1455.98,321.26 1457.36,320.93 1458.74,320.61 1460.13,320.29 1461.51,319.97 1462.89,319.65 1464.27,319.33 1465.65,319.01 1467.03,318.7 1468.41,318.38 1469.79,318.07 1471.18,317.75 1472.56,317.44 1473.94,317.13 1475.32,316.82 1476.7,316.5 1478.08,316.2 1479.46,315.89 1480.85,315.58 1482.23,315.27 1483.61,314.97 1484.99,314.66 1486.37,314.36 1487.75,314.05 1489.13,313.75 1490.51,313.45 1491.9,313.15 1493.28,312.85 1494.66,312.55 1496.04,312.25 1497.42,311.95 1498.8,311.66 1500.18,311.36 1501.56,311.06 1502.95,310.77 1504.33,310.47 1505.71,310.18 1507.09,309.89 1508.47,309.6 1509.85,309.31 1511.23,309.02 1512.61,308.73 1514,308.44 1515.38,308.15 1516.76,307.86 1518.14,307.57 1519.52,307.29 1520.9,307 1522.28,306.72 1523.66,306.43 1525.05,306.15 1526.43,305.87 1527.81,305.58 1529.19,305.3 1530.57,305.02 1531.95,304.74 1533.33,304.46 1534.71,304.18 1536.1,303.9 1537.48,303.62 1538.86,303.35 1540.24,303.07 1541.62,302.79 1543,302.52 1544.38,302.24 1545.76,301.97 1547.15,301.69 1548.53,301.42 1549.91,301.15 1551.29,300.87 1552.67,300.6 1554.05,300.33 1555.43,300.06 1556.82,299.78 1558.2,299.51 1559.58,299.23 1560.96,298.96 1562.34,298.68 1563.72,298.39 1565.1,298.1 1566.48,297.8 1567.87,297.5 1569.25,297.19 1570.63,296.88 1572.01,296.55 1573.39,296.22 1574.77,295.87 1576.15,295.52 1577.53,295.15 1578.92,294.77 1580.3,294.38 1581.68,293.98 1583.06,293.56 1584.44,293.13 1585.82,292.68 1587.2,292.22 1588.58,291.74 1589.97,291.24 1591.35,290.72 1592.73,290.19 1594.11,289.63 1595.49,289.05 1596.87,288.45 1598.25,287.84 1599.63,287.19 1601.02,286.53 1602.4,285.84 1603.78,285.12 1605.16,284.38 1606.54,283.62 1607.92,282.83 1609.3,282.01 1610.68,281.17 1612.07,280.3 1613.45,279.41 1614.83,278.49 1616.21,277.56 1617.59,276.59 1618.97,275.61 1620.35,274.6 1621.73,273.57 1623.12,272.51 1624.5,271.43 1625.88,270.34 1627.26,269.21 1628.64,268.07 1630.02,266.91 1631.4,265.73 1632.78,264.52 1634.17,263.3 1635.55,262.05 1636.93,260.79 1638.31,259.51 1639.69,258.2 1641.07,256.88 1642.45,255.55 1643.84,254.19 1645.22,252.82 1646.6,251.44 1647.98,250.04 1649.36,248.62 1650.74,247.19 1652.12,245.75 1653.5,244.3 1654.89,242.83 1656.27,241.35 1657.65,239.86 1659.03,238.36 1660.41,236.85 1661.79,235.34 1663.17,233.81 1664.55,232.28 1665.94,230.74 1667.32,229.19 1668.7,227.64 1670.08,226.08 1671.46,224.52 1672.84,222.95 1674.22,221.38 1675.6,219.8 1676.99,218.22 1678.37,216.64 1679.75,215.05 1681.13,213.47 1682.51,211.87 1683.89,210.28 1685.27,208.68 1686.65,207.09 1688.04,205.48 1689.42,203.88 1690.8,202.28 1692.18,200.67 1693.56,199.06 1694.94,197.45 1696.32,195.85 1697.7,194.24 1699.09,192.63 1700.47,191.01 1701.85,189.4 1703.23,187.79 1704.61,186.18 1705.99,184.57 1707.37,182.96 1708.75,181.35 1710.14,179.75 1711.52,178.14 1712.9,176.54 1714.28,174.93 1715.66,173.33 1717.04,171.73 1718.42,170.14 1719.81,168.54 1721.19,166.95 1722.57,165.36 1723.95,163.78 1725.33,162.19 1726.71,160.61 1728.09,159.02 1729.47,157.44 1730.86,155.86 1732.24,154.29 1733.62,152.71 1735,151.13 1736.38,149.56 1737.76,147.98 1739.14,146.41 1740.52,144.83 1741.91,143.26 1743.29,141.69 1744.67,140.11 1746.05,138.54 1747.43,136.96 1748.81,135.39 1750.19,133.81 1751.57,132.23 1752.96,130.65 1754.34,129.07 1755.72,127.49 1757.1,125.91 1758.48,124.33 1759.86,122.74 1761.24,121.15 1762.62,119.56 1764.01,117.97 1765.39,116.37 1766.77,114.78 1768.15,113.17 1769.53,111.57 1770.91,109.96 1772.29,108.35 1773.67,106.74 1775.06,105.12 1776.44,103.5 1777.82,101.88 1779.2,100.25 1780.58,98.62 1781.96,96.98 1783.34,95.34 1784.72,93.69 1786.11,92.04 1787.49,90.39 1788.87,88.73 1790.25,87.06 1791.63,85.39 1793.01,83.71 1794.39,82.03 1795.77,80.34 1797.16,78.65 1798.54,76.95 1799.92,75.24 1801.3,73.53" fill="none" stroke="#1f4ea2" stroke-width="2.4" stroke-linejoin="round" stroke-dasharray="6.3 3.4" stroke-linejoin="round"/>
<rect x="1384.3" y="335.97" width="8" height="5" fill="#1f4ea2"/>
<path d="M1384 335.04H1392.6M1384 341.89H1392.6M1388.3 335.04V341.89" stroke="#1f4ea2" stroke-width="1.8" fill="none"/>
<rect x="1549.5" y="298.65" width="8" height="5" fill="#1f4ea2"/>
<path d="M1549.2 297.44H1557.8M1549.2 304.86H1557.8M1553.5 297.44V304.86" stroke="#1f4ea2" stroke-width="1.8" fill="none"/>
<rect x="1632.1" y="270.45" width="8" height="5" fill="#1f4ea2"/>
<path d="M1631.8 267.81H1640.4M1631.8 278.08H1640.4M1636.1 267.81V278.08" stroke="#1f4ea2" stroke-width="1.8" fill="none"/>
<rect x="1714.7" y="167.6" width="8" height="5" fill="#1f4ea2"/>
<path d="M1714.4 165.97H1723M1714.4 174.24H1723M1718.7 165.97V174.24" stroke="#1f4ea2" stroke-width="1.8" fill="none"/>
<rect x="1797.3" y="70.74" width="8" height="5" fill="#1f4ea2"/>
<path d="M1797 68.4H1805.6M1797 78.09H1805.6M1801.3 68.4V78.09" stroke="#1f4ea2" stroke-width="1.8" fill="none"/>
<line x1="760.76" y1="836" x2="760.76" y2="830.2" stroke="#000" stroke-width="2.8"/>
<line x1="848.29" y1="836" x2="848.29" y2="830.2" stroke="#000" stroke-width="2.8"/>
<line x1="935.82" y1="836" x2="935.82" y2="830.2" stroke="#000" stroke-width="2.8"/>
<line x1="1023.34" y1="836" x2="1023.34" y2="830.2" stroke="#000" stroke-width="2.8"/>
<line x1="1110.87" y1="836" x2="1110.87" y2="830.2" stroke="#000" stroke-width="2.8"/>
<line x1="1198.39" y1="836" x2="1198.39" y2="830.2" stroke="#000" stroke-width="2.8"/>
<line x1="804.53" y1="836" x2="804.53" y2="833" stroke="#000" stroke-width="2.8"/>
<line x1="892.05" y1="836" x2="892.05" y2="833" stroke="#000" stroke-width="2.8"/>
<line x1="979.58" y1="836" x2="979.58" y2="833" stroke="#000" stroke-width="2.8"/>
<line x1="1067.11" y1="836" x2="1067.11" y2="833" stroke="#000" stroke-width="2.8"/>
<line x1="1154.63" y1="836" x2="1154.63" y2="833" stroke="#000" stroke-width="2.8"/>
<line x1="717" y1="811.13" x2="722.8" y2="811.13" stroke="#000" stroke-width="2.8"/>
<line x1="717" y1="761.39" x2="722.8" y2="761.39" stroke="#000" stroke-width="2.8"/>
<line x1="717" y1="711.64" x2="722.8" y2="711.64" stroke="#000" stroke-width="2.8"/>
<line x1="717" y1="661.9" x2="722.8" y2="661.9" stroke="#000" stroke-width="2.8"/>
<line x1="717" y1="612.16" x2="722.8" y2="612.16" stroke="#000" stroke-width="2.8"/>
<line x1="717" y1="562.41" x2="722.8" y2="562.41" stroke="#000" stroke-width="2.8"/>
<line x1="717" y1="512.67" x2="722.8" y2="512.67" stroke="#000" stroke-width="2.8"/>
<line x1="717" y1="836" x2="720" y2="836" stroke="#000" stroke-width="2.8"/>
<line x1="717" y1="786.26" x2="720" y2="786.26" stroke="#000" stroke-width="2.8"/>
<line x1="717" y1="736.51" x2="720" y2="736.51" stroke="#000" stroke-width="2.8"/>
<line x1="717" y1="686.77" x2="720" y2="686.77" stroke="#000" stroke-width="2.8"/>
<line x1="717" y1="637.03" x2="720" y2="637.03" stroke="#000" stroke-width="2.8"/>
<line x1="717" y1="587.29" x2="720" y2="587.29" stroke="#000" stroke-width="2.8"/>
<line x1="717" y1="537.54" x2="720" y2="537.54" stroke="#000" stroke-width="2.8"/>
<line x1="717" y1="487.8" x2="720" y2="487.8" stroke="#000" stroke-width="2.8"/>
<rect x="717" y="487.8" width="498.9" height="348.2" fill="none" stroke="#000" stroke-width="3.3"/>
<text transform="translate(760.76,869.4) scale(1,1.04)" font-size="30" text-anchor="middle">0</text>
<text transform="translate(848.29,869.4) scale(1,1.04)" font-size="30" text-anchor="middle">50</text>
<text transform="translate(935.82,869.4) scale(1,1.04)" font-size="30" text-anchor="middle">100</text>
<text transform="translate(1023.34,869.4) scale(1,1.04)" font-size="30" text-anchor="middle">150</text>
<text transform="translate(1110.87,869.4) scale(1,1.04)" font-size="30" text-anchor="middle">200</text>
<text transform="translate(1198.39,869.4) scale(1,1.04)" font-size="30" text-anchor="middle">250</text>
<text transform="translate(706.1,821.93) scale(1,1.04)" font-size="30" text-anchor="end">−30</text>
<text transform="translate(706.1,772.19) scale(1,1.04)" font-size="30" text-anchor="end">−20</text>
<text transform="translate(706.1,722.44) scale(1,1.04)" font-size="30" text-anchor="end">−10</text>
<text transform="translate(706.1,672.7) scale(1,1.04)" font-size="30" text-anchor="end">0</text>
<text transform="translate(706.1,622.96) scale(1,1.04)" font-size="30" text-anchor="end">10</text>
<text transform="translate(706.1,573.21) scale(1,1.04)" font-size="30" text-anchor="end">20</text>
<text transform="translate(706.1,523.47) scale(1,1.04)" font-size="30" text-anchor="end">30</text>
<text transform="translate(966.45,900.5) scale(1,1.04)" font-size="30" text-anchor="middle">Time/s</text>
<text transform="translate(635.3,661.9) rotate(-90) scale(1,1.04)" font-size="30" text-anchor="middle"><tspan font-style="italic">I</tspan><tspan font-size="18" dy="5" font-weight="normal">sc</tspan><tspan dy="-5">/nA</tspan></text>
<polyline points="761.64,662.15 762.02,644.96 762.64,660.41 762.79,662.15 763.17,692.8 763.63,663.89 763.94,660.23 764.17,664.13 764.4,660.6 764.63,663.98 764.86,661.25 765.09,663.99 765.32,660.77 765.47,662.15 765.86,643.37 766.47,660.41 766.62,662.15 767.01,690.66 767.47,663.89 767.77,664.04 768,660.53 768.23,664.17 768.46,660.85 768.69,664.05 768.92,660.21 769.15,663.99 769.31,662.15 769.69,644.51 770.3,660.41 770.46,662.15 770.84,691.71 771.3,663.89 771.61,660.4 771.84,663.24 772.07,660.18 772.3,664.1 772.53,660.48 772.76,663.66 772.99,659.6 773.14,662.15 773.52,644.8 774.14,660.41 774.29,662.15 774.67,692.38 775.13,663.89 775.44,663.47 775.67,660.78 775.9,664.01 776.13,660.04 776.36,663.65 776.59,660.37 776.82,663.61 776.97,662.15 777.36,646.08 777.97,660.41 778.12,662.15 778.51,691.75 778.97,663.89 779.27,660.81 779.5,664.59 779.73,660.29 779.96,663.6 780.19,660.59 780.42,664.34 780.65,660.4 780.81,662.15 781.19,643.51 781.8,660.41 781.96,662.15 782.34,691.63 782.8,663.89 783.11,663.58 783.34,660.33 783.57,663.43 783.8,660.49 784.03,664.28 784.26,660.16 784.49,663.65 784.64,662.15 785.02,643.52 785.64,660.41 785.79,662.15 786.17,692.97 786.63,663.89 786.94,660.31 787.17,664.93 787.4,660.12 787.63,663.68 787.86,661.09 788.09,663.86 788.32,660.81 788.47,662.15 788.86,642.69 789.47,660.41 789.62,662.15 790.01,693.38 790.47,663.89 790.77,664.27 791,660.11 791.23,663.41 791.46,661.31 791.69,664.1 791.92,660.27 792.15,664.14 792.31,662.15 792.69,641.97 793.3,660.41 793.46,662.15 793.84,691.7 794.3,663.89 794.61,660.26 794.84,664.33 795.07,659.82 795.3,663.9 795.53,660.56 795.76,664.61 795.99,659.7 796.14,662.15 796.52,642.49 797.14,660.41 797.29,662.15 797.67,688.93 798.13,663.89 798.44,663.41 798.67,660.26 798.9,664.16 799.13,660.74 799.36,664.22 799.59,659.84 799.82,664.5 799.97,662.15 800.36,643.55 800.97,660.41 801.13,662.15 801.51,689.37 801.97,663.89 802.28,660.31 802.51,663.65 802.74,660.93 802.97,664.61 803.2,660.41 803.43,663.38 803.66,660.09 803.81,662.15 804.19,643.15 804.81,660.41 804.96,662.15 805.34,688.95 805.8,663.89 806.11,663.77 806.34,660.51 806.57,663.55 806.8,660.74 807.03,663.83 807.26,660.45 807.49,663.66 807.64,662.15 808.03,643.35 808.64,660.41 808.79,662.15 809.18,685.67 809.64,663.89 809.94,659.78 810.17,663.26 810.4,661.26 810.63,664.03 810.86,660.66 811.09,663.67 811.32,661.36 811.48,662.15 811.86,642.85 812.47,660.41 812.63,662.15 813.01,686.73 813.47,663.89 813.78,664.43 814.01,660.82 814.24,664.22 814.47,660.39 814.7,663.62 814.93,659.55 815.16,663.97 815.31,662.15 815.69,643.37 816.31,660.41 816.46,662.15 816.84,687.22 817.3,663.89 817.61,659.67 817.84,663.58 818.07,659.84 818.3,664.34 818.53,660.49 818.76,664.23 818.99,659.78 819.14,662.15 819.53,643.66 820.14,660.41 820.29,662.15 820.68,687.65 821.14,663.89 821.44,664.08 821.67,660.21 821.9,664.18 822.13,660.8 822.36,663.69 822.59,659.38 822.82,663.99 822.98,662.15 823.36,644.77 823.97,660.41 824.13,662.15 824.51,688.62 824.97,663.89 825.28,660.97 825.51,663.67 825.74,660.05 825.97,663.89 826.2,660.27 826.43,663.84 826.66,660.35 826.81,662.15 827.19,645.71 827.81,660.41 827.96,662.15 828.34,688.01 828.8,663.89 829.11,663.84 829.34,660.73 829.57,664.09 829.8,660.75 830.03,664.03 830.26,660.05 830.49,664.06 830.64,662.15 831.03,644.89 831.64,660.41 831.79,662.15 832.18,686.85 832.64,663.89 832.94,660.14 833.17,663.18 833.4,661.28 833.63,663.53 833.86,660.61 834.09,663.83 834.32,660.06 834.48,662.15 834.86,644.18 835.47,660.41 835.63,662.15 836.01,686.73 836.47,663.89 836.78,663.82 837.01,659.74 837.24,664.01 837.47,660.47 837.7,663.56 837.93,660.64 838.16,662.99" fill="none" stroke="#111111" stroke-width="1.6" stroke-linejoin="round"/>
<polyline points="849.34,657.67 849.71,634.02 850.29,651.45 850.44,657.67 850.8,704.62 851.17,663.89 851.39,648.97 851.54,662.91 851.68,653.9 851.83,678.8 851.97,663.9 852.12,652.38 852.27,663.67 852.41,653.85 852.56,663.53 852.71,651.1 852.85,661.54 853,657.67 853.37,630.46 853.95,651.45 854.1,657.67 854.46,703.53 854.83,663.89 855.05,653.68 855.19,660.53 855.34,654.31 855.49,678.31 855.63,662.25 855.78,651.95 855.93,665.2 856.07,652.43 856.22,664.89 856.37,650.89 856.51,664.05 856.66,657.67 857.02,626.61 857.61,651.45 857.76,657.67 858.12,709.98 858.49,663.89 858.71,651.46 858.85,665.22 859,650.3 859.15,681.21 859.29,667.05 859.44,651.97 859.59,663.58 859.73,653.67 859.88,662.42 860.03,651.19 860.17,662.39 860.32,657.67 860.68,625.28 861.27,651.45 861.42,657.67 861.78,708.48 862.15,663.89 862.37,652.64 862.51,664.19 862.66,650.34 862.81,680.54 862.95,662.62 863.1,652.51 863.25,664.8 863.39,652.64 863.54,664.76 863.68,651.81 863.83,664.09 863.98,657.67 864.34,621.52 864.93,651.45 865.08,657.67 865.44,707.93 865.81,663.89 866.03,651.88 866.17,663.21 866.32,652.88 866.47,680.29 866.61,664.44 866.76,651.43 866.91,662.73 867.05,653.42 867.2,661.84 867.34,651.98 867.49,663.64 867.64,657.67 868,622.33 868.59,651.45 868.73,657.67 869.1,704.53 869.47,663.89 869.69,649.87 869.83,663.63 869.98,651.48 870.13,678.76 870.27,663.42 870.42,652.94 870.56,662.08 870.71,652.61 870.86,665.77 871,648.39 871.15,664.09 871.3,657.67 871.66,624.36 872.25,651.45 872.39,657.67 872.76,701.07 873.13,663.89 873.35,651.95 873.49,662.3 873.64,652.69 873.78,677.2 873.93,664.26 874.08,653.97 874.22,666.74 874.37,652.91 874.52,664.01 874.66,650.26 874.81,660.27 874.96,657.67 875.32,623.15 875.91,651.45 876.05,657.67 876.42,702.67 876.79,663.89 877.01,652.36 877.15,664.12 877.3,653.66 877.44,677.92 877.59,666.1 877.74,652.62 877.88,665.67 878.03,651.46 878.18,664.94 878.32,649.59 878.47,663.66 878.62,657.67 878.98,620.37 879.57,651.45 879.71,657.67 880.08,701.85 880.44,663.89 880.66,650.68 880.81,663.95 880.96,651.59 881.1,677.55 881.25,664.07 881.4,649.85 881.54,662.72 881.69,650.91 881.84,662.7 881.98,652.27 882.13,663.13 882.27,657.67 882.64,622.85 883.23,651.45 883.37,657.67 883.74,699.96 884.1,663.89 884.32,651.32 884.47,663.62 884.62,650.56 884.76,676.7 884.91,663.9 885.06,651.83 885.2,662.11 885.35,651.28 885.49,665.26 885.64,650.8 885.79,666.43 885.93,657.67 886.3,618.39 886.89,651.45 887.03,657.67 887.4,702.37 887.76,663.89 887.98,651.39 888.13,660.52 888.28,648.24 888.42,677.79 888.57,663.72 888.72,650.52 888.86,662.26 889.01,648.94 889.15,664.09 889.3,651.25 889.45,662.06 889.59,657.67 889.96,620.58 890.55,651.45 890.69,657.67 891.06,698.7 891.42,663.89 891.64,650.54 891.79,665.58 891.94,652.74 892.08,676.13 892.23,667.83 892.37,651.84 892.52,661.89 892.67,653.11 892.81,662.05 892.96,649.96 893.11,663.97 893.25,657.67 893.62,621.12 894.2,651.45 894.35,657.67 894.72,699 895.08,663.89 895.3,652.74 895.45,664.31 895.6,651.52 895.74,676.27 895.89,662.98 896.03,650.27 896.18,665 896.33,650.22 896.47,665.05 896.62,651.71 896.77,663.34 896.91,657.67 897.28,621.89 897.86,651.45 898.01,657.67 898.38,698.28 898.74,663.89 898.96,651.05 899.11,664.71 899.25,652.43 899.4,675.95 899.55,664.19 899.69,650.02 899.84,664.04 899.99,648.61 900.13,663.57 900.28,655.89 900.43,664.55 900.57,657.67 900.94,620.12 901.52,651.45 901.67,657.67 902.04,696.7 902.4,663.89 902.62,652.11 902.77,665.19 902.91,649.48 903.06,675.24 903.21,662.39 903.35,650.45 903.5,663.25 903.65,649.3 903.79,662.66 903.94,653.29 904.08,662.74 904.23,657.67 904.6,623.1 905.18,651.45 905.33,657.67 905.7,695.75 906.06,663.89 906.28,650.31 906.43,663.85 906.57,655.83 906.72,674.81 906.87,661.57 907.01,649.91 907.16,664.07 907.31,652.01 907.45,663.55 907.6,653.37 907.74,663.43 907.89,657.67 908.26,624.44 908.84,651.45 908.99,657.67 909.35,695.11 909.72,663.89 909.94,652.83 910.09,664.9 910.23,649.8 910.38,674.52 910.53,661.9 910.67,650.7 910.82,663.96 910.96,652.76 911.11,662.82 911.26,649.05 911.4,666.3 911.55,657.67 911.92,622.47 912.5,651.45 912.65,657.67 913.01,699 913.38,663.89 913.6,651.96 913.75,663.32 913.89,653.49 914.04,676.27 914.18,666.15 914.33,651.18 914.48,662.58 914.62,652.16 914.77,661.88 914.92,652.62 915.06,661.27 915.21,657.67 915.58,624.16 916.16,651.45 916.31,657.67 916.67,692.4 917.04,663.89 917.26,650.54 917.41,663.41 917.55,648.7 917.7,673.3 917.84,660.6 917.99,650.64 918.14,664.14 918.28,653.21 918.43,665.02 918.58,651.44 918.72,664.04 918.87,657.67 919.23,624.53 919.82,651.45 919.97,657.67 920.33,692.35 920.7,663.89 920.92,650.71 921.06,665.91 921.21,652.98 921.36,673.28 921.5,662.22 921.65,650.2 921.8,664.69 921.94,649.52 922.09,664.9 922.24,651.83 922.38,666.61 922.53,657.67 922.89,623.33 923.48,651.45 923.63,657.67 923.99,691.77 924.36,663.89 924.58,649.86 924.72,662.83 924.87,651.31 925.02,673.01 925.16,663.64 925.31,649.66 925.46,664.12 925.6,651.67 925.75,663.77 925.9,650.23 926.04,662.49" fill="none" stroke="#e42528" stroke-width="1.5" stroke-linejoin="round"/>
<polyline points="936.87,661.65 937.25,623.3 937.85,658.42 938.01,661.65 938.39,683.11 938.84,664.88 939.15,658.61 939.37,664.56 939.6,657.54 939.83,664.8 940.06,658.85 940.28,665.49 940.51,657.84 940.66,661.65 941.04,616.66 941.65,658.42 941.8,661.65 942.18,680.48 942.64,664.88 942.94,665.84 943.17,659.16 943.4,663.64 943.63,658.26 943.86,666.23 944.08,658.48 944.31,665.79 944.46,661.65 944.84,617.02 945.45,658.42 945.6,661.65 945.98,680.19 946.44,664.88 946.74,658.97 946.97,664.46 947.2,658.47 947.43,665.34 947.65,658.1 947.88,664.24 948.11,659.69 948.26,661.65 948.64,613.46 949.25,658.42 949.4,661.65 949.78,679.63 950.24,664.88 950.54,665.02 950.77,659.42 951,664.87 951.22,658.45 951.45,665.12 951.68,659.23 951.91,665.19 952.06,661.65 952.44,612.21 953.05,658.42 953.2,661.65 953.58,679.06 954.04,664.88 954.34,658.24 954.57,665.75 954.8,657.51 955.02,664.33 955.25,659.97 955.48,664.67 955.71,659.27 955.86,661.65 956.24,610.14 956.85,658.42 957,661.65 957.38,677.15 957.83,664.88 958.14,666.43 958.37,658.6 958.59,665.08 958.82,657.67 959.05,665.8 959.28,657.85 959.51,665.74 959.66,661.65 960.04,610.3 960.65,658.42 960.8,661.65 961.18,677.5 961.63,664.88 961.94,657.29 962.17,664.44 962.39,656.53 962.62,664.39 962.85,657.76 963.08,664.23 963.3,658.89 963.46,661.65 963.84,609.51 964.44,658.42 964.6,661.65 964.98,674.8 965.43,664.88 965.74,665.19 965.96,658.27 966.19,664.9 966.42,657.95 966.65,665.17 966.88,658.54 967.1,664.7 967.26,661.65 967.64,608.91 968.24,658.42 968.39,661.65 968.77,676.58 969.23,664.88 969.53,657.72 969.76,665.89 969.99,659.35 970.22,665.88 970.45,657.67 970.67,665.16 970.9,659.17 971.05,661.65 971.43,610.5 972.04,658.42 972.19,661.65 972.57,675.04 973.03,664.88 973.33,665.7 973.56,659.41 973.79,664.41 974.02,659.35 974.24,665.13 974.47,658.42 974.7,665.23 974.85,661.65 975.23,608.62 975.84,658.42 975.99,661.65 976.37,673.87 976.83,664.88 977.13,658.82 977.36,665.86 977.59,659.84 977.82,665.04 978.04,658.69 978.27,664.68 978.5,658.78 978.65,661.65 979.03,609 979.64,658.42 979.79,661.65 980.17,675.66 980.63,664.88 980.93,665.29 981.16,658.29 981.39,665.18 981.61,658.34 981.84,663.41 982.07,658.05 982.3,666.11 982.45,661.65 982.83,606.06 983.44,658.42 983.59,661.65 983.97,674.64 984.43,664.88 984.73,659.15 984.96,664.18 985.18,658.4 985.41,665.36 985.64,658.91 985.87,665.66 986.1,658.38 986.25,661.65 986.63,607.84 987.24,658.42 987.39,661.65 987.77,675.58 988.22,664.88 988.53,664.56 988.76,656.96 988.98,665.83 989.21,658.22 989.44,665.12 989.67,659.24 989.9,665.68 990.05,661.65 990.43,610.24 991.03,658.42 991.19,661.65 991.57,675.08 992.02,664.88 992.33,658.83 992.55,664.84 992.78,657.86 993.01,664.65 993.24,657.74 993.47,664.53 993.69,658.04 993.85,661.65 994.23,608.28 994.83,658.42 994.99,661.65 995.37,675.16 995.82,664.88 996.12,664.78 996.35,657.87 996.58,665.6 996.81,658.68 997.04,664.27 997.26,657.93 997.49,663.68 997.64,661.65 998.02,611.88 998.63,658.42 998.78,661.65 999.16,677.49 999.62,664.88 999.92,656.91 1000.15,664.04 1000.38,659.24 1000.61,663.82 1000.84,658.39 1001.06,666.29 1001.29,658.74 1001.44,661.65 1001.82,613.57 1002.43,658.42 1002.58,661.65 1002.96,674.72 1003.42,664.88 1003.72,665.5 1003.95,658.61 1004.18,665.1 1004.41,658.71 1004.63,665.59 1004.86,658.25 1005.09,664.05 1005.24,661.65 1005.62,612.8 1006.23,658.42 1006.38,661.65 1006.76,677.48 1007.22,664.88 1007.52,659.31 1007.75,664.79 1007.98,658.97 1008.2,665.37 1008.43,659.72 1008.66,663.37 1008.89,657.71 1009.04,661.65 1009.42,616.1 1010.03,658.42 1010.18,661.65 1010.56,675.92 1011.02,664.88 1011.32,663.84 1011.55,660.27 1011.78,665.31 1012,658.72 1012.23,664.38 1012.46,658.51 1012.69,665.06" fill="none" stroke="#1e4fa2" stroke-width="1.5" stroke-linejoin="round"/>
<polyline points="1026.49,658.92 1026.83,631.53 1027.37,655.43 1027.5,658.92 1027.84,738.84 1028.24,662.4 1028.51,657.57 1028.71,662.51 1028.91,654.59 1029.11,661.27 1029.31,654.89 1029.52,661.15 1029.72,655.19 1029.85,658.92 1030.19,630.55 1030.72,655.43 1030.86,658.92 1031.19,743.59 1031.6,662.4 1031.87,663.29 1032.07,656.14 1032.27,662.08 1032.47,655.92 1032.67,661.33 1032.87,654.35 1033.07,660.89 1033.21,658.92 1033.54,629.6 1034.08,655.43 1034.22,658.92 1034.55,744.16 1034.95,662.4 1035.22,656.19 1035.42,663.08 1035.63,655.37 1035.83,662.16 1036.03,656.77 1036.23,663.84 1036.43,655.14 1036.57,658.92 1036.9,628.79 1037.44,655.43 1037.57,658.92 1037.91,746.79 1038.31,662.4 1038.58,662.07 1038.78,655.18 1038.98,662.22 1039.19,654.69 1039.39,662.53 1039.59,654.53 1039.79,662.84 1039.92,658.92 1040.26,627.24 1040.8,655.43 1040.93,658.92 1041.27,751.98 1041.67,662.4 1041.94,654.93 1042.14,662.37 1042.34,656.15 1042.54,660.72 1042.74,655.74 1042.95,662.49 1043.15,655.1 1043.28,658.92 1043.62,625.03 1044.16,655.43 1044.29,658.92 1044.63,753.55 1045.03,662.4 1045.3,661.81 1045.5,655.35 1045.7,663.62 1045.9,654.77 1046.1,661.54 1046.3,655.63 1046.51,662.41 1046.64,658.92 1046.98,625.84 1047.51,655.43 1047.65,658.92 1047.98,756.91 1048.39,662.4 1048.65,655.76 1048.86,661.87 1049.06,655.83 1049.26,662.15 1049.46,654.62 1049.66,662.32 1049.86,654.95 1050,658.92 1050.33,623.71 1050.87,655.43 1051.01,658.92 1051.34,757.44 1051.74,662.4 1052.01,661.78 1052.21,657.01 1052.42,662.04 1052.62,655.26 1052.82,662.85 1053.02,656.33 1053.22,662.45 1053.36,658.92 1053.69,623.97 1054.23,655.43 1054.36,658.92 1054.7,756.38 1055.1,662.4 1055.37,656.19 1055.57,661.94 1055.77,656.3 1055.97,662.65 1056.18,655.76 1056.38,661.34 1056.58,656.68 1056.71,658.92 1057.05,623.31 1057.59,655.43 1057.72,658.92 1058.06,755.71 1058.46,662.4 1058.73,662.95 1058.93,656.47 1059.13,662.16 1059.33,655.68 1059.53,661.7 1059.74,656.2 1059.94,662.24 1060.07,658.92 1060.41,622.11 1060.94,655.43 1061.08,658.92 1061.41,756.88 1061.82,662.4 1062.09,656.36 1062.29,661.21 1062.49,656.19 1062.69,663.66 1062.89,656.23 1063.09,662.27 1063.29,655.7 1063.43,658.92 1063.76,621.65 1064.3,655.43 1064.44,658.92 1064.77,758.54 1065.18,662.4 1065.44,662.13 1065.65,655.65 1065.85,660.88 1066.05,657.29 1066.25,663.85 1066.45,655.86 1066.65,663.45 1066.79,658.92 1067.12,622.67 1067.66,655.43 1067.79,658.92 1068.13,761.22 1068.53,662.4 1068.8,656.06 1069,664.44 1069.2,654.72 1069.41,661.31 1069.61,654.4 1069.81,662.82 1070.01,655.31 1070.14,658.92 1070.48,621.48 1071.02,655.43 1071.15,658.92 1071.49,760.49 1071.89,662.4 1072.16,662.96 1072.36,655.09 1072.56,662.68 1072.76,654.57 1072.97,661.71 1073.17,654.4 1073.37,663.74 1073.5,658.92 1073.84,621.35 1074.38,655.43 1074.51,658.92 1074.85,760.95 1075.25,662.4 1075.52,655.92 1075.72,662.06 1075.92,655.18 1076.12,662.25 1076.32,654.67 1076.52,661.93 1076.73,655.04 1076.86,658.92 1077.2,620.42 1077.73,655.43 1077.87,658.92 1078.2,759.74 1078.61,662.4 1078.88,662.29 1079.08,654.51 1079.28,662.12 1079.48,654.37 1079.68,662.27 1079.88,655.25 1080.08,662.28 1080.22,658.92 1080.55,619.9 1081.09,655.43 1081.23,658.92 1081.56,763.78 1081.96,662.4 1082.23,655.56 1082.43,662.5 1082.64,656.25 1082.84,660.43 1083.04,656.25 1083.24,662.65 1083.44,653.39 1083.58,658.92 1083.91,619.59 1084.45,655.43 1084.58,658.92 1084.92,761.97 1085.32,662.4 1085.59,661.85 1085.79,655.61 1085.99,663.59 1086.2,656.73 1086.4,662.4 1086.6,655.08 1086.8,664.2 1086.93,658.92 1087.27,618.9 1087.81,655.43 1087.94,658.92 1088.28,764.28 1088.68,662.4 1088.95,654.69 1089.15,662.25 1089.35,656.1 1089.55,662.75 1089.75,655.39 1089.96,661.27 1090.16,652.88 1090.29,658.92 1090.63,618.51 1091.16,655.43 1091.3,658.92 1091.63,763.3 1092.04,662.4 1092.31,661.8 1092.51,655.4 1092.71,661.8 1092.91,655.04 1093.11,662.32 1093.31,656.02 1093.52,662.19 1093.65,658.92 1093.99,617.92 1094.52,655.43 1094.66,658.92 1094.99,763.43 1095.4,662.4 1095.66,654.09 1095.87,661.53 1096.07,655.46 1096.27,660.86 1096.47,656.29 1096.67,661.34 1096.87,653.8 1097.01,658.92 1097.34,618.2 1097.88,655.43 1098.01,658.92 1098.35,763.87 1098.75,662.4 1099.02,661.52 1099.22,654.15 1099.43,661.94 1099.63,655.14 1099.83,661.53 1100.03,655.12 1100.23,663.31" fill="none" stroke="#4cb749" stroke-width="1.4" stroke-linejoin="round"/>
<polyline points="1114.02,659.41 1114.42,582.31 1115.07,655.43 1115.23,659.41 1115.63,733.14 1116.03,663.39 1116.27,655.7 1116.44,664.24 1116.6,655.87 1116.76,669.73 1116.92,664.34 1117.08,655.38 1117.24,662.11 1117.4,655.9 1117.56,663.98 1117.72,654.97 1117.88,663.05 1118.05,659.41 1118.45,571.13 1119.09,655.43 1119.25,659.41 1119.66,736.8 1120.06,663.39 1120.3,655.46 1120.46,662.73 1120.62,656.72 1120.78,670.25 1120.94,663.83 1121.11,657.25 1121.27,664.62 1121.43,657.19 1121.59,663.62 1121.75,656.64 1121.91,663.13 1122.07,659.41 1122.47,560.05 1123.12,655.43 1123.28,659.41 1123.68,734.59 1124.08,663.39 1124.33,657.84 1124.49,663.91 1124.65,655.48 1124.81,669.94 1124.97,663.28 1125.13,656.89 1125.29,663.85 1125.45,656.37 1125.61,664.16 1125.78,654.42 1125.94,664.16 1126.1,659.41 1126.5,549.46 1127.14,655.43 1127.31,659.41 1127.71,731.39 1128.11,663.39 1128.35,655.99 1128.51,663.5 1128.67,655.33 1128.84,669.49 1129,663.33 1129.16,656.6 1129.32,663.32 1129.48,654.14 1129.64,664.87 1129.8,654.61 1129.96,663.28 1130.12,659.41 1130.53,547.6 1131.17,655.43 1131.33,659.41 1131.73,729.37 1132.14,663.39 1132.38,654.71 1132.54,664.54 1132.7,655.36 1132.86,669.21 1133.02,662.84 1133.18,655.61 1133.35,662.74 1133.51,655.5 1133.67,662.76 1133.83,654.06 1133.99,664.04 1134.15,659.41 1134.55,548.11 1135.2,655.43 1135.36,659.41 1135.76,738.92 1136.16,663.39 1136.41,655.31 1136.57,664.53 1136.73,655.99 1136.89,670.54 1137.05,663.58 1137.21,654.58 1137.37,662.3 1137.53,656.7 1137.69,664.15 1137.85,654.82 1138.02,665.3 1138.18,659.41 1138.58,551.63 1139.22,655.43 1139.38,659.41 1139.79,740.02 1140.19,663.39 1140.43,654.23 1140.59,662.73 1140.75,655.75 1140.91,670.7 1141.08,663.74 1141.24,655.67 1141.4,661.94 1141.56,655.84 1141.72,663.68 1141.88,655.1 1142.04,663.51 1142.2,659.41 1142.61,552.77 1143.25,655.43 1143.41,659.41 1143.81,745.25 1144.22,663.39 1144.46,655.44 1144.62,663.82 1144.78,654.32 1144.94,671.43 1145.1,662.77 1145.26,655.46 1145.42,662.75 1145.58,655.76 1145.75,662.39 1145.91,655.44 1146.07,662.84 1146.23,659.41 1146.63,554.51 1147.28,655.43 1147.44,659.41 1147.84,743.09 1148.24,663.39 1148.48,657.05 1148.64,665.34 1148.81,655.72 1148.97,671.13 1149.13,664.25 1149.29,655.28 1149.45,661.25 1149.61,656.23 1149.77,663.99 1149.93,655.24 1150.09,662.92 1150.26,659.41 1150.66,551.85 1151.3,655.43 1151.46,659.41 1151.87,746.93 1152.27,663.39 1152.51,654.76 1152.67,662.9 1152.83,656.42 1152.99,671.67 1153.15,663.47 1153.32,655.4 1153.48,664.4 1153.64,655.19 1153.8,664.21 1153.96,654.51 1154.12,663.21 1154.28,659.41 1154.68,550.88 1155.33,655.43 1155.49,659.41 1155.89,750.28 1156.29,663.39 1156.54,655.55 1156.7,665.3 1156.86,656.51 1157.02,672.13 1157.18,663.05 1157.34,657.47 1157.5,662.58 1157.66,657.1 1157.82,662.67 1157.99,656.24 1158.15,662.65 1158.31,659.41 1158.71,550.36 1159.35,655.43 1159.52,659.41 1159.92,755.29 1160.32,663.39 1160.56,654.24 1160.72,662.02 1160.88,655.5 1161.05,672.84 1161.21,663.65 1161.37,655.59 1161.53,664.32 1161.69,654.38 1161.85,663.91 1162.01,655.48 1162.17,664.15 1162.33,659.41 1162.74,551.43 1163.38,655.43 1163.54,659.41 1163.94,756.71 1164.35,663.39 1164.59,654.23 1164.75,663.54 1164.91,654.51 1165.07,673.03 1165.23,663.38 1165.39,656.1 1165.55,663.7 1165.72,655.97 1165.88,663.38 1166.04,655.79 1166.2,663.68 1166.36,659.41 1166.76,552.49 1167.41,655.43 1167.57,659.41 1167.97,757.5 1168.37,663.39 1168.61,653.85 1168.78,664.03 1168.94,656.44 1169.1,673.15 1169.26,663.07 1169.42,654.09 1169.58,664.78 1169.74,655.63 1169.9,664 1170.06,657.12 1170.23,662.69 1170.39,659.41 1170.79,549.64 1171.43,655.43 1171.59,659.41 1172,757.08 1172.4,663.39 1172.64,656.15 1172.8,662.96 1172.96,655.95 1173.12,673.09 1173.29,663.53 1173.45,656.49 1173.61,664.55 1173.77,654.16 1173.93,663.88 1174.09,655.15 1174.25,663.42 1174.41,659.41 1174.82,550.77 1175.46,655.43 1175.62,659.41 1176.02,761 1176.43,663.39 1176.67,654.83 1176.83,663.68 1176.99,655.58 1177.15,673.64 1177.31,663.37 1177.47,654.31 1177.63,662.74 1177.79,655.07 1177.96,663.93 1178.12,656.75 1178.28,662.49 1178.44,659.41 1178.84,548.26 1179.49,655.43 1179.65,659.41 1180.05,762.1 1180.45,663.39 1180.69,654.92 1180.85,662.65 1181.02,654.64 1181.18,673.79 1181.34,662.51 1181.5,655.87 1181.66,661.95 1181.82,656.62 1181.98,662.57 1182.14,654.96 1182.3,662.56 1182.46,659.41 1182.87,546.74 1183.51,655.43 1183.67,659.41 1184.08,759.44 1184.48,663.39 1184.72,656.53 1184.88,665.01 1185.04,654.65 1185.2,673.42 1185.36,664.36 1185.52,655.45 1185.69,662.59 1185.85,657 1186.01,665.41 1186.17,655.19 1186.33,663.35" fill="none" stroke="#a5539f" stroke-width="1.4" stroke-linejoin="round"/>
<text transform="translate(722.9,633.6) scale(1,1.04)" font-size="30" text-anchor="start">500 rpm</text>
<text transform="translate(796,607.4) scale(1,1.04)" font-size="30" text-anchor="start">1 500 rpm</text>
<text transform="translate(895,582.8) scale(1,1.04)" font-size="30" text-anchor="start">2 000 rpm</text>
<text transform="translate(967.7,553.6) scale(1,1.04)" font-size="30" text-anchor="start">2 500 rpm</text>
<text transform="translate(1072.5,528.1) scale(1,1.04)" font-size="30" text-anchor="start">3 000 rpm</text>
<line x1="1380.46" y1="833.9" x2="1380.46" y2="828.1" stroke="#000" stroke-width="2.8"/>
<line x1="1468.88" y1="833.9" x2="1468.88" y2="828.1" stroke="#000" stroke-width="2.8"/>
<line x1="1557.29" y1="833.9" x2="1557.29" y2="828.1" stroke="#000" stroke-width="2.8"/>
<line x1="1645.7" y1="833.9" x2="1645.7" y2="828.1" stroke="#000" stroke-width="2.8"/>
<line x1="1734.11" y1="833.9" x2="1734.11" y2="828.1" stroke="#000" stroke-width="2.8"/>
<line x1="1822.52" y1="833.9" x2="1822.52" y2="828.1" stroke="#000" stroke-width="2.8"/>
<line x1="1424.67" y1="833.9" x2="1424.67" y2="830.9" stroke="#000" stroke-width="2.8"/>
<line x1="1513.08" y1="833.9" x2="1513.08" y2="830.9" stroke="#000" stroke-width="2.8"/>
<line x1="1601.49" y1="833.9" x2="1601.49" y2="830.9" stroke="#000" stroke-width="2.8"/>
<line x1="1689.9" y1="833.9" x2="1689.9" y2="830.9" stroke="#000" stroke-width="2.8"/>
<line x1="1778.31" y1="833.9" x2="1778.31" y2="830.9" stroke="#000" stroke-width="2.8"/>
<line x1="1345.1" y1="833.9" x2="1350.9" y2="833.9" stroke="#000" stroke-width="2.8"/>
<line x1="1345.1" y1="747.73" x2="1350.9" y2="747.73" stroke="#000" stroke-width="2.8"/>
<line x1="1345.1" y1="661.55" x2="1350.9" y2="661.55" stroke="#000" stroke-width="2.8"/>
<line x1="1345.1" y1="575.38" x2="1350.9" y2="575.38" stroke="#000" stroke-width="2.8"/>
<line x1="1345.1" y1="489.2" x2="1350.9" y2="489.2" stroke="#000" stroke-width="2.8"/>
<line x1="1345.1" y1="790.81" x2="1348.1" y2="790.81" stroke="#000" stroke-width="2.8"/>
<line x1="1345.1" y1="704.64" x2="1348.1" y2="704.64" stroke="#000" stroke-width="2.8"/>
<line x1="1345.1" y1="618.46" x2="1348.1" y2="618.46" stroke="#000" stroke-width="2.8"/>
<line x1="1345.1" y1="532.29" x2="1348.1" y2="532.29" stroke="#000" stroke-width="2.8"/>
<rect x="1345.1" y="489.2" width="495.1" height="344.7" fill="none" stroke="#000" stroke-width="3.3"/>
<text transform="translate(1380.46,868.5) scale(1,1.04)" font-size="30" text-anchor="middle">0</text>
<text transform="translate(1468.88,868.5) scale(1,1.04)" font-size="30" text-anchor="middle">50</text>
<text transform="translate(1557.29,868.5) scale(1,1.04)" font-size="30" text-anchor="middle">100</text>
<text transform="translate(1645.7,868.5) scale(1,1.04)" font-size="30" text-anchor="middle">150</text>
<text transform="translate(1734.11,868.5) scale(1,1.04)" font-size="30" text-anchor="middle">200</text>
<text transform="translate(1822.52,868.5) scale(1,1.04)" font-size="30" text-anchor="middle">250</text>
<text transform="translate(1334.2,844.7) scale(1,1.04)" font-size="30" text-anchor="end">−20</text>
<text transform="translate(1334.2,758.52) scale(1,1.04)" font-size="30" text-anchor="end">−10</text>
<text transform="translate(1334.2,672.35) scale(1,1.04)" font-size="30" text-anchor="end">0</text>
<text transform="translate(1334.2,586.17) scale(1,1.04)" font-size="30" text-anchor="end">10</text>
<text transform="translate(1334.2,500) scale(1,1.04)" font-size="30" text-anchor="end">20</text>
<text transform="translate(1592.65,900.5) scale(1,1.04)" font-size="30" text-anchor="middle">Time/s</text>
<text transform="translate(1263.8,661.55) rotate(-90) scale(1,1.04)" font-size="30" text-anchor="middle"><tspan font-style="italic">V</tspan><tspan font-size="18" dy="5" font-weight="normal">oc</tspan><tspan dy="-5">/V</tspan></text>
<polyline points="1381.53,691.71 1381.98,635.46 1382.67,686.54 1383.24,702.88 1383.81,691.71 1384.19,685.78 1384.57,692.03 1384.95,686.73 1385.34,691.71 1385.79,637.52 1386.48,686.54 1387.05,703.9 1387.62,691.71 1388,691.75 1388.38,686.08 1388.77,692.86 1389.15,691.71 1389.6,621.27 1390.29,686.54 1390.86,704.76 1391.43,691.71 1391.81,686.12 1392.19,691.8 1392.58,686.78 1392.96,691.71 1393.41,627.06 1394.1,686.54 1394.67,703.57 1395.24,691.71 1395.62,691.84 1396.01,686.64 1396.39,691.29 1396.77,691.71 1397.22,634.44 1397.91,686.54 1398.48,706.6 1399.05,691.71 1399.43,686.3 1399.82,692.13 1400.2,687.73 1400.58,691.71 1401.03,632.6 1401.72,686.54 1402.29,705.24 1402.86,691.71 1403.25,692.45 1403.63,687.47 1404.01,691.69 1404.39,691.71 1404.85,620.44 1405.53,686.54 1406.1,704.94 1406.67,691.71 1407.06,687 1407.44,691.47 1407.82,686.1 1408.2,691.71 1408.66,628.33 1409.34,686.54 1409.91,703.93 1410.49,691.71 1410.87,691.06 1411.25,686.67 1411.63,692.22 1412.01,691.71 1412.47,623.5 1413.15,686.54 1413.72,704.32 1414.3,691.71 1414.68,685.86 1415.06,692.51 1415.44,686.95 1415.82,691.71 1416.28,631.32 1416.96,686.54 1417.53,706.88 1418.11,691.71 1418.49,691.63 1418.87,686.21 1419.25,692.17 1419.63,691.71 1420.09,615.99 1420.77,686.54 1421.34,703.58 1421.92,691.71 1422.3,686.15 1422.68,691.46 1423.06,685.95 1423.44,691.71 1423.9,635.08 1424.58,686.54 1425.16,703.84 1425.73,691.71 1426.11,691.34 1426.49,687.64 1426.87,691.5 1427.25,691.71 1427.71,627.99 1428.39,686.54 1428.97,703.63 1429.54,691.71 1429.92,686.81 1430.3,691.72 1430.68,686.33 1431.06,691.71 1431.52,632.67 1432.2,686.54 1432.78,703.86 1433.35,691.71 1433.73,691.78 1434.11,686.24 1434.49,692.04 1434.87,691.71 1435.33,619.5 1436.02,686.54 1436.59,703.86 1437.16,691.71 1437.54,686.65 1437.92,691.32 1438.3,685.76 1438.68,691.71 1439.14,615 1439.83,686.54 1440.4,706.67 1440.97,691.71 1441.35,691.16 1441.73,686.25 1442.11,691.77 1442.49,691.71 1442.95,634.65 1443.64,686.54 1444.21,703.01 1444.78,691.71 1445.16,687.32 1445.54,691.36 1445.92,685.73 1446.3,691.71 1446.76,639.11 1447.45,686.54 1448.02,705.03 1448.59,691.71 1448.97,692.52 1449.35,686.39 1449.73,690.77 1450.11,691.71 1450.57,614.49 1451.26,686.54 1451.83,706.94 1452.4,691.71 1452.78,686.9 1453.16,691.27 1453.54,685.56 1453.92,691.71 1454.38,625.9 1455.07,686.54 1455.64,705.6 1456.21,691.71 1456.59,691.53 1456.97,686.55 1457.35,691.84" fill="none" stroke="#111111" stroke-width="1.5" stroke-linejoin="round"/>
<polyline points="1470.47,702.32 1470.92,646.79 1471.37,700.06 1471.83,636.74 1472.28,701.46 1472.73,646.63 1473.18,697.8 1473.64,633.52 1474.09,700.52 1474.54,644.93 1475,694.36 1475.45,640.42 1475.9,693.2 1476.36,644.34 1476.81,700.2 1477.26,648.51 1477.72,693.27 1478.17,642.5 1478.62,692.64 1479.07,641.21 1479.53,687.38 1479.98,638.41 1480.43,693.8 1480.89,641.34 1481.34,697.25 1481.79,643.68 1482.25,696.12 1482.7,633.68 1483.15,695.3 1483.6,644.89 1484.06,692.92 1484.51,638.04 1484.96,699.95 1485.42,654.03 1485.87,695.35 1486.32,636.62 1486.78,697.41 1487.23,638.74 1487.68,692 1488.13,638.5 1488.59,696.86 1489.04,643.93 1489.49,685.2 1489.95,638.65 1490.4,706.12 1490.85,635.82 1491.31,682.96 1491.76,643.67 1492.21,688.93 1492.67,646.68 1493.12,692.7 1493.57,642 1494.02,695.99 1494.48,637.92 1494.93,689.98 1495.38,639.34 1495.84,688.07 1496.29,653.45 1496.74,690.78 1497.2,650.5 1497.65,694.56 1498.1,642.65 1498.55,697.85 1499.01,641.8 1499.46,699.09 1499.91,644.64 1500.37,687.95 1500.82,647.23 1501.27,691.39 1501.73,649.92 1502.18,690.74 1502.63,650.91 1503.09,697.15 1503.54,650.63 1503.99,690.9 1504.44,647.14 1504.9,694.79 1505.35,640.78 1505.8,687.42 1506.26,639.09 1506.71,693.05 1507.16,634.59 1507.62,687.47 1508.07,642.6 1508.52,682.33 1508.97,646.51 1509.43,692.35 1509.88,635.17 1510.33,687.99 1510.79,639.14 1511.24,693.16 1511.69,646.35 1512.15,693.28 1512.6,638.8 1513.05,693.77 1513.51,648.25 1513.96,693.01 1514.41,630.34 1514.86,686.17 1515.32,630.28 1515.77,690.5 1516.22,641.41 1516.68,693.15 1517.13,631.49 1517.58,694.53 1518.04,640.79 1518.49,686.91 1518.94,647.24 1519.39,693.05 1519.85,644.48 1520.3,691.14 1520.75,637.59 1521.21,694.47 1521.66,638.26 1522.11,693.77 1522.57,640.92 1523.02,691.67 1523.47,644.53 1523.93,698.18 1524.38,642.15 1524.83,692.12 1525.28,630.24 1525.74,684.16 1526.19,634.33 1526.64,693.16 1527.1,633.58 1527.55,685.24 1528,639.26 1528.46,682.98 1528.91,638.56 1529.36,688.19 1529.81,640.77 1530.27,694.75 1530.72,634.55 1531.17,697.21 1531.63,639.24 1532.08,697.15 1532.53,640.57 1532.99,696.01 1533.44,636.72 1533.89,693.89 1534.34,643.3 1534.8,695.32 1535.25,644.91 1535.7,695.09 1536.16,634.95 1536.61,690.51 1537.06,646.38 1537.52,685.02 1537.97,640.2 1538.42,687.55 1538.88,636.64 1539.33,697.21 1539.78,644.94 1540.23,691.12 1540.69,633.17 1541.14,686.57 1541.59,650.09 1542.05,700.01 1542.5,634.67 1542.95,691.22 1543.41,636.79 1543.86,686 1544.31,651.46 1544.76,687.66 1545.22,642.58 1545.67,692.53 1546.12,631.88 1546.58,692.05 1547.03,645.11" fill="none" stroke="#e42528" stroke-width="1.5" stroke-linejoin="round"/>
<polyline points="1469.94,640.87 1470.23,614.14 1470.42,613.31 1470.68,618.82 1471.04,628.47 1471.41,635.91 1471.78,640.87 1471.97,696.02 1472.19,717.44 1472.49,706.73 1472.86,700.3 1473.26,696.02 1473.63,641.13 1473.93,611.43 1474.11,610.51 1474.37,616.64 1474.74,627.35 1475.11,635.62 1475.48,641.13 1475.67,695.5 1475.89,716.55 1476.18,706.03 1476.55,699.71 1476.96,695.5 1477.33,641.39 1477.62,608.4 1477.81,607.38 1478.07,614.18 1478.44,626.08 1478.81,635.26 1479.18,641.39 1479.36,694.99 1479.58,719.82 1479.88,707.4 1480.25,699.95 1480.66,694.99 1481.03,641.64 1481.32,613.21 1481.51,612.33 1481.76,618.19 1482.13,628.45 1482.5,636.37 1482.87,641.64 1483.06,694.47 1483.28,718.39 1483.58,706.43 1483.95,699.25 1484.35,694.47 1484.72,641.9 1485.02,611.08 1485.2,610.12 1485.46,616.48 1485.83,627.6 1486.2,636.18 1486.57,641.9 1486.75,693.95 1486.98,710.67 1487.27,702.31 1487.64,697.3 1488.05,693.95 1488.42,642.16 1488.71,611.91 1488.9,610.98 1489.16,617.22 1489.53,628.13 1489.9,636.55 1490.27,642.16 1490.45,693.43 1490.67,711.54 1490.97,702.49 1491.34,697.06 1491.74,693.43 1492.11,642.42 1492.41,617.7 1492.59,616.94 1492.85,622.04 1493.22,630.95 1493.59,637.83 1493.96,642.42 1494.15,692.92 1494.37,712.01 1494.66,702.47 1495.03,696.74 1495.44,692.92 1495.81,642.51 1496.11,616.23 1496.29,615.42 1496.55,620.84 1496.92,630.32 1497.29,637.63 1497.66,642.51 1497.84,692.49 1498.07,707.37 1498.36,699.93 1498.73,695.46 1499.14,692.49 1499.51,642.25 1499.8,612.77 1499.99,611.86 1500.25,617.94 1500.62,628.57 1500.99,636.78 1501.36,642.25 1501.54,692.23 1501.76,709.08 1502.06,700.65 1502.43,695.6 1502.83,692.23 1503.2,641.99 1503.5,613.46 1503.68,612.58 1503.94,618.46 1504.31,628.75 1504.68,636.69 1505.05,641.99 1505.24,691.97 1505.46,709.3 1505.75,700.64 1506.12,695.44 1506.53,691.97 1506.9,641.73 1507.2,609.99 1507.38,609.01 1507.64,615.55 1508.01,627 1508.38,635.84 1508.75,641.73 1508.93,691.71 1509.15,711.13 1509.45,701.42 1509.82,695.59 1510.23,691.71 1510.6,641.47 1510.89,611.21 1511.08,610.27 1511.34,616.51 1511.71,627.43 1512.08,635.85 1512.44,641.47 1512.63,691.45 1512.85,709.89 1513.15,700.67 1513.52,695.14 1513.92,691.45 1514.29,641.21 1514.59,609.8 1514.77,608.82 1515.03,615.3 1515.4,626.64 1515.77,635.38 1516.14,641.21 1516.33,691.19 1516.55,710.48 1516.84,700.84 1517.21,695.05 1517.62,691.19 1517.99,640.95 1518.28,609.61 1518.47,608.64 1518.73,615.1 1519.1,626.41 1519.47,635.14 1519.84,640.95 1520.02,690.94 1520.24,711.26 1520.54,701.1 1520.91,695 1521.32,690.94 1521.69,641.04 1521.98,607.61 1522.17,606.57 1522.42,613.47 1522.79,625.53 1523.16,634.84 1523.53,641.04 1523.72,691.02 1523.94,713.93 1524.24,702.48 1524.61,695.6 1525.01,691.02 1525.38,641.3 1525.68,608.1 1525.86,607.07 1526.12,613.92 1526.49,625.9 1526.86,635.14 1527.23,641.3 1527.42,691.28 1527.64,711.86 1527.93,701.57 1528.3,695.4 1528.71,691.28 1529.08,641.56 1529.37,612.17 1529.56,611.26 1529.82,617.32 1530.19,627.92 1530.56,636.1 1530.93,641.56 1531.11,691.54 1531.33,714.16 1531.63,702.85 1532,696.06 1532.41,691.54 1532.77,641.82 1533.07,612 1533.26,611.08 1533.51,617.23 1533.88,627.98 1534.25,636.28 1534.62,641.82 1534.81,691.8 1535.03,711.96 1535.33,701.88 1535.7,695.83 1536.1,691.8 1536.47,642.07 1536.77,612 1536.95,611.07 1537.21,617.27 1537.58,628.12 1537.95,636.49 1538.32,642.07 1538.5,692.06 1538.73,713.34 1539.02,702.7 1539.39,696.31 1539.8,692.06 1540.17,642.33 1540.46,613.09 1540.65,612.19 1540.91,618.22 1541.28,628.77 1541.65,636.91 1542.02,642.33 1542.2,692.31 1542.42,707.9 1542.72,700.11 1543.09,695.43 1543.49,692.31 1543.86,642.59 1544.16,613.15 1544.34,612.23 1544.6,618.31 1544.97,628.93 1545.34,637.13 1545.71,642.59 1545.9,692.57 1546.12,714.74 1546.41,703.66 1546.78,697.01 1547.19,692.57" fill="none" stroke="#e42528" stroke-width="1.85" stroke-linejoin="round"/>
<polyline points="1558.17,734.24 1558.62,650.9 1559.08,725.49 1559.53,649.01 1559.98,735.25 1560.44,644.37 1560.89,725 1561.34,660.89 1561.8,735.8 1562.25,661.75 1562.7,731.23 1563.16,643.15 1563.61,719.41 1564.07,655.79 1564.52,730.24 1564.97,637.16 1565.43,719.54 1565.88,657.4 1566.33,727.54 1566.79,654.44 1567.24,725.39 1567.69,644.37 1568.15,728.74 1568.6,648.03 1569.05,722.46 1569.51,644.68 1569.96,731.71 1570.41,652.17 1570.87,711.91 1571.32,651.71 1571.77,726.91 1572.23,646.7 1572.68,731.73 1573.14,652.94 1573.59,714.37 1574.04,639.66 1574.5,736.1 1574.95,649.05 1575.4,737.71 1575.86,661.37 1576.31,727.73 1576.76,637.21 1577.22,728.52 1577.67,637.41 1578.12,736.35 1578.58,647.75 1579.03,727.48 1579.48,647.96 1579.94,720.32 1580.39,643.88 1580.84,732.75 1581.3,659.11 1581.75,732.93 1582.21,648.26 1582.66,733.04 1583.11,660.23 1583.57,742.99 1584.02,641.18 1584.47,726.73 1584.93,652.44 1585.38,725.29 1585.83,643.61 1586.29,730.67 1586.74,651.05 1587.19,719.63 1587.65,640.55 1588.1,717.36 1588.55,639.18 1589.01,727 1589.46,651.06 1589.91,731.98 1590.37,652.19 1590.82,728.7 1591.27,645.55 1591.73,719.72 1592.18,636.14 1592.64,729.5 1593.09,643.94 1593.54,739.09 1594,652.66 1594.45,738.43 1594.9,645.98 1595.36,733.98 1595.81,653.36 1596.26,729.84 1596.72,662.41 1597.17,730.47 1597.62,643.08 1598.08,719.5 1598.53,656.55 1598.98,733.4 1599.44,663.83 1599.89,718.88 1600.34,648.42 1600.8,728.12 1601.25,659.43 1601.71,732.25 1602.16,651.84 1602.61,740.4 1603.07,656.58 1603.52,738.34 1603.97,654.02 1604.43,745.21 1604.88,635.68 1605.33,730.87 1605.79,645.79 1606.24,729.89 1606.69,649 1607.15,731.9 1607.6,642.58 1608.05,733.71 1608.51,636.51 1608.96,733.35 1609.41,637.43 1609.87,739.19 1610.32,644.78 1610.78,725.65 1611.23,636.22 1611.68,720.06 1612.14,655.36 1612.59,736.52 1613.04,634.36 1613.5,734.09 1613.95,659.88 1614.4,721.67 1614.86,642.46 1615.31,740.62 1615.76,652.3 1616.22,720.1 1616.67,651.18 1617.12,735.02 1617.58,650.94 1618.03,719.72 1618.48,661.17 1618.94,727.63 1619.39,647.33 1619.85,726.98 1620.3,642.53 1620.75,730.4 1621.21,643.8 1621.66,726.98 1622.11,637.14 1622.57,748.42 1623.02,649.5 1623.47,729.21 1623.93,658.91 1624.38,718.59 1624.83,643.86 1625.29,742.68 1625.74,650.04 1626.19,723.43 1626.65,646.98 1627.1,734.56 1627.55,643 1628.01,726 1628.46,654.92 1628.92,730.04 1629.37,637.49 1629.82,718.78 1630.28,655.16 1630.73,732.82 1631.18,636.73 1631.64,723.11 1632.09,647.31 1632.54,729.97 1633,646.19 1633.45,720.22 1633.9,665.87 1634.36,720.57 1634.81,654.87 1635.26,737.23" fill="none" stroke="#1e4aa0" stroke-width="1.5" stroke-linejoin="round"/>
<polyline points="1557.64,652.93 1557.95,611.46 1558.15,610.18 1558.42,618.73 1558.81,633.69 1559.2,645.24 1559.59,652.93 1559.79,725.32 1560.02,748.99 1560.34,737.16 1560.73,730.05 1561.16,725.32 1561.55,652.12 1561.86,612.85 1562.06,611.63 1562.33,619.73 1562.72,633.9 1563.11,644.83 1563.5,652.12 1563.7,725.86 1563.93,733.4 1564.24,729.63 1564.63,727.37 1565.06,725.86 1565.45,651.3 1565.77,606.01 1565.96,604.61 1566.24,613.95 1566.63,630.29 1567.02,642.9 1567.41,651.3 1567.6,726.41 1567.84,732.44 1568.15,729.43 1568.54,727.61 1568.97,726.41 1569.36,650.48 1569.68,598.19 1569.87,596.57 1570.14,607.35 1570.53,626.22 1570.93,640.78 1571.32,650.48 1571.51,726.95 1571.75,734.95 1572.06,730.95 1572.45,728.55 1572.88,726.95 1573.27,649.67 1573.58,610.09 1573.78,608.87 1574.05,617.03 1574.44,631.31 1574.83,642.32 1575.22,649.67 1575.42,727.5 1575.65,732.8 1575.97,730.15 1576.36,728.56 1576.79,727.5 1577.18,648.85 1577.49,602.63 1577.69,601.2 1577.96,610.73 1578.35,627.41 1578.74,640.27 1579.13,648.85 1579.33,728.04 1579.56,738.32 1579.87,733.18 1580.27,730.1 1580.7,728.04 1581.09,648.03 1581.4,606.05 1581.59,604.75 1581.87,613.4 1582.26,628.55 1582.65,640.24 1583.04,648.03 1583.24,728.59 1583.47,733.44 1583.78,731.01 1584.17,729.56 1584.6,728.59 1584.99,647.58 1585.31,598.57 1585.5,597.05 1585.78,607.16 1586.17,624.84 1586.56,638.49 1586.95,647.58 1587.14,728.95 1587.38,740.39 1587.69,734.67 1588.08,731.24 1588.51,728.95 1588.9,647.31 1589.21,605.77 1589.41,604.49 1589.68,613.05 1590.07,628.04 1590.46,639.6 1590.86,647.31 1591.05,729.22 1591.29,748.13 1591.6,738.68 1591.99,733 1592.42,729.22 1592.81,647.04 1593.12,593.84 1593.32,592.19 1593.59,603.16 1593.98,622.36 1594.37,637.16 1594.76,647.04 1594.96,729.49 1595.19,741.31 1595.51,735.4 1595.9,731.86 1596.33,729.49 1596.72,646.76 1597.03,597.87 1597.22,596.36 1597.5,606.44 1597.89,624.08 1598.28,637.69 1598.67,646.76 1598.87,729.76 1599.1,739.35 1599.41,734.56 1599.8,731.68 1600.23,729.76 1600.62,646.49 1600.94,595.57 1601.13,593.99 1601.41,604.49 1601.8,622.87 1602.19,637.04 1602.58,646.49 1602.77,730.04 1603.01,734.92 1603.32,732.48 1603.71,731.01 1604.14,730.04 1604.53,646.22 1604.85,605.82 1605.04,604.57 1605.31,612.9 1605.7,627.48 1606.1,638.72 1606.49,646.22 1606.68,730.31 1606.92,735.08 1607.23,732.69 1607.62,731.26 1608.05,730.31 1608.44,646.13 1608.75,612.1 1608.95,611.04 1609.22,618.06 1609.61,630.34 1610,639.81 1610.39,646.13 1610.59,730.31 1610.82,735.09 1611.14,732.7 1611.53,731.27 1611.96,730.31 1612.35,646.4 1612.66,613.45 1612.86,612.43 1613.13,619.23 1613.52,631.11 1613.91,640.29 1614.3,646.4 1614.5,729.76 1614.73,738.69 1615.04,734.23 1615.44,731.55 1615.86,729.76 1616.26,646.67 1616.57,594.24 1616.76,592.62 1617.04,603.43 1617.43,622.35 1617.82,636.94 1618.21,646.67 1618.4,729.22 1618.64,738.18 1618.95,733.7 1619.34,731.01 1619.77,729.22 1620.16,646.95 1620.48,604.44 1620.67,603.12 1620.94,611.89 1621.34,627.23 1621.73,639.06 1622.12,646.95 1622.31,728.68 1622.55,742.91 1622.86,735.79 1623.25,731.52 1623.68,728.68 1624.07,647.22 1624.38,605.6 1624.58,604.32 1624.85,612.9 1625.24,627.91 1625.63,639.5 1626.03,647.22 1626.22,728.13 1626.45,732.86 1626.77,730.49 1627.16,729.08 1627.59,728.13 1627.98,647.49 1628.29,598.68 1628.49,597.17 1628.76,607.24 1629.15,624.85 1629.54,638.43 1629.93,647.49 1630.13,727.59 1630.36,739.19 1630.68,733.39 1631.07,729.91 1631.5,727.59 1631.89,647.76 1632.2,614.3 1632.39,613.26 1632.67,620.16 1633.06,632.24 1633.45,641.55 1633.84,647.76 1634.04,727.04 1634.27,733.9 1634.58,730.47 1634.97,728.41 1635.4,727.04" fill="none" stroke="#1e4aa0" stroke-width="1.85" stroke-linejoin="round"/>
<polyline points="1644.99,785.21 1645.44,724.09 1645.89,782.12 1646.35,710.18 1646.8,801.27 1647.25,726.1 1647.71,786.64 1648.16,719.22 1648.61,787.73 1649.07,723.09 1649.52,781.46 1649.97,711.66 1650.42,787.26 1650.88,709.28 1651.33,784.49 1651.78,723.37 1652.24,785.25 1652.69,724.15 1653.14,781.72 1653.59,717.82 1654.05,789.27 1654.5,722.35 1654.95,779.42 1655.41,718.72 1655.86,791.11 1656.31,720.19 1656.76,784.4 1657.22,715.22 1657.67,785.31 1658.12,714.84 1658.58,773.2 1659.03,720.81 1659.48,791.94 1659.94,723.76 1660.39,784.06 1660.84,710.18 1661.29,789.26 1661.75,724.1 1662.2,794.31 1662.65,713.7 1663.11,783.35 1663.56,714.54 1664.01,793.31 1664.46,716.81 1664.92,787.88 1665.37,716.98 1665.82,782.64 1666.28,717.03 1666.73,784.05 1667.18,718.2 1667.63,786.85 1668.09,714.33 1668.54,799.16 1668.99,721.08 1669.45,792.3 1669.9,723.4 1670.35,790.99 1670.81,708.52 1671.26,795.19 1671.71,712.3 1672.16,800.97 1672.62,721.51 1673.07,788.1 1673.52,715.14 1673.98,784.32 1674.43,713.77 1674.88,791.8 1675.33,722.64 1675.79,783.42 1676.24,720.82 1676.69,798.41 1677.15,727.49 1677.6,795.97 1678.05,716.17 1678.5,788.61 1678.96,714.9 1679.41,792.65 1679.86,718.7 1680.32,785.35 1680.77,722.05 1681.22,786.59 1681.67,724.59 1682.13,792.38 1682.58,722.71 1683.03,798.25 1683.49,716.73 1683.94,793.21 1684.39,720 1684.85,786.52 1685.3,716.89 1685.75,785.17 1686.2,720.62 1686.66,792.71 1687.11,720.4 1687.56,801.49 1688.02,729.88 1688.47,798.88 1688.92,726.66 1689.37,786.78 1689.83,725.94 1690.28,792.16 1690.73,710.43 1691.19,791.94 1691.64,714.28 1692.09,795.93 1692.54,720.8 1693,795.98 1693.45,721.66 1693.9,783.39 1694.36,731.3 1694.81,786.17 1695.26,717.46 1695.72,793.31 1696.17,729.17 1696.62,788.58 1697.07,722.67 1697.53,787.4 1697.98,718.73 1698.43,777.73 1698.89,720.48 1699.34,796.09 1699.79,717.46 1700.24,787.3 1700.7,709.1 1701.15,782.93 1701.6,716.05 1702.06,778.45 1702.51,726.82 1702.96,793.16 1703.41,724.9 1703.87,791.34 1704.32,727.99 1704.77,784.08 1705.23,719.8 1705.68,798.82 1706.13,725.29 1706.59,786.22 1707.04,712.18 1707.49,774.32 1707.94,697.5 1708.4,785.39 1708.85,724.87 1709.3,803.25 1709.76,715.95 1710.21,793.9 1710.66,720.67 1711.11,792.43 1711.57,718.66 1712.02,780.55 1712.47,716.48 1712.93,789.12 1713.38,724.81 1713.83,799.74 1714.28,720.86 1714.74,788.26 1715.19,704.88 1715.64,786.9 1716.1,710.34 1716.55,791.28 1717,725.54 1717.45,794.51 1717.91,722.22 1718.36,772.62 1718.81,722.82 1719.27,781.66 1719.72,723.32 1720.17,780.94 1720.63,714.14 1721.08,788.56 1721.53,717.07 1721.98,792.02 1722.44,713.55" fill="none" stroke="#0f7d40" stroke-width="1.5" stroke-linejoin="round"/>
<polyline points="1644.46,716.7 1644.74,605.49 1644.92,602.05 1645.17,624.98 1645.53,665.11 1645.89,696.07 1646.24,716.7 1646.42,787.37 1646.64,803.65 1646.92,795.51 1647.28,790.62 1647.67,787.37 1648.03,717.03 1648.31,625.18 1648.49,622.34 1648.74,641.28 1649.1,674.42 1649.45,699.99 1649.81,717.03 1649.99,787.61 1650.2,812.85 1650.49,800.23 1650.85,792.66 1651.24,787.61 1651.6,717.36 1651.88,606.96 1652.06,603.54 1652.31,626.31 1652.67,666.14 1653.02,696.87 1653.38,717.36 1653.56,787.86 1653.77,795.7 1654.06,791.78 1654.42,789.43 1654.81,787.86 1655.16,717.69 1655.45,597.79 1655.63,594.09 1655.88,618.81 1656.23,662.07 1656.59,695.44 1656.95,717.69 1657.13,788.1 1657.34,799.69 1657.63,793.9 1657.98,790.42 1658.38,788.1 1658.73,718.02 1659.02,582.07 1659.2,577.86 1659.45,605.89 1659.8,654.95 1660.16,692.79 1660.52,718.02 1660.7,788.35 1660.91,806.51 1661.2,797.43 1661.55,791.98 1661.94,788.35 1662.3,718.34 1662.59,561.79 1662.77,556.95 1663.02,589.23 1663.37,645.71 1663.73,689.29 1664.09,718.34 1664.26,788.6 1664.48,807.31 1664.76,797.95 1665.12,792.34 1665.51,788.6 1665.87,718.67 1666.16,584.57 1666.33,580.42 1666.58,608.07 1666.94,656.46 1667.3,693.79 1667.65,718.67 1667.83,788.84 1668.05,792.8 1668.33,790.82 1668.69,789.63 1669.08,788.84 1669.44,719 1669.72,587.89 1669.9,583.84 1670.15,610.87 1670.51,658.18 1670.87,694.67 1671.22,719 1671.4,789.09 1671.62,805.26 1671.9,797.17 1672.26,792.32 1672.65,789.09 1673.01,719.33 1673.29,590.23 1673.47,586.24 1673.72,612.86 1674.08,659.44 1674.43,695.37 1674.79,719.33 1674.97,789.34 1675.18,805.46 1675.47,797.4 1675.83,792.56 1676.22,789.34 1676.58,719.66 1676.86,607.59 1677.04,604.12 1677.29,627.23 1677.65,667.67 1678,698.86 1678.36,719.66 1678.54,789.58 1678.75,810.83 1679.04,800.21 1679.4,793.83 1679.79,789.58 1680.14,719.98 1680.43,567.08 1680.61,562.35 1680.86,593.87 1681.22,649.05 1681.57,691.61 1681.93,719.98 1682.11,789.83 1682.32,808.29 1682.61,799.06 1682.96,793.52 1683.36,789.83 1683.71,719.98 1684,589.09 1684.18,585.04 1684.43,612.03 1684.78,659.26 1685.14,695.7 1685.5,719.98 1685.68,789.83 1685.89,808 1686.18,798.91 1686.53,793.46 1686.92,789.83 1687.28,719.66 1687.57,582.96 1687.75,578.73 1688,606.92 1688.35,656.24 1688.71,694.29 1689.07,719.66 1689.24,789.58 1689.46,808.62 1689.74,799.1 1690.1,793.39 1690.49,789.58 1690.85,719.33 1691.14,581.37 1691.31,577.1 1691.56,605.55 1691.92,655.33 1692.28,693.73 1692.63,719.33 1692.81,789.34 1693.03,816.1 1693.31,802.72 1693.67,794.69 1694.06,789.34 1694.42,719 1694.7,580.22 1694.88,575.93 1695.13,604.55 1695.49,654.62 1695.85,693.25 1696.2,719 1696.38,789.09 1696.6,811.52 1696.88,800.31 1697.24,793.58 1697.63,789.09 1697.99,718.67 1698.27,577.11 1698.45,572.73 1698.7,601.92 1699.06,653 1699.41,692.4 1699.77,718.67 1699.95,788.84 1700.16,808.39 1700.45,798.61 1700.81,792.75 1701.2,788.84 1701.56,718.34 1701.84,595.49 1702.02,591.69 1702.27,617.02 1702.63,661.35 1702.98,695.55 1703.34,718.34 1703.52,788.6 1703.73,808.28 1704.02,798.44 1704.38,792.53 1704.77,788.6 1705.12,718.02 1705.41,594.66 1705.59,590.84 1705.84,616.28 1706.2,660.79 1706.55,695.12 1706.91,718.02 1707.09,788.35 1707.3,803.27 1707.59,795.81 1707.94,791.33 1708.34,788.35 1708.69,717.69 1708.98,583.42 1709.16,579.27 1709.41,606.95 1709.76,655.4 1710.12,692.77 1710.48,717.69 1710.66,788.1 1710.87,803.63 1711.16,795.87 1711.51,791.21 1711.9,788.1 1712.26,717.36 1712.55,594.62 1712.73,590.82 1712.98,616.13 1713.33,660.42 1713.69,694.58 1714.05,717.36 1714.22,787.86 1714.44,800 1714.72,793.93 1715.08,790.29 1715.47,787.86 1715.83,717.03 1716.12,585.17 1716.29,581.09 1716.54,608.28 1716.9,655.86 1717.26,692.56 1717.61,717.03 1717.79,787.61 1718.01,800.77 1718.29,794.19 1718.65,790.24 1719.04,787.61 1719.4,716.7 1719.68,572.01 1719.86,567.53 1720.11,597.37 1720.47,649.57 1720.83,689.85 1721.18,716.7 1721.36,787.37 1721.58,811.07 1721.86,799.22 1722.22,792.11 1722.61,787.37" fill="none" stroke="#0f7d40" stroke-width="1.85" stroke-linejoin="round"/>
<polyline points="1734.64,760.76 1735.09,728.23 1735.54,763.11 1736,732.87 1736.45,767.28 1736.9,726.7 1737.36,760.8 1737.81,728.79 1738.26,763.08 1738.71,725.28 1739.17,757.44 1739.62,729.21 1740.07,761.93 1740.53,729.65 1740.98,762.48 1741.43,728.14 1741.88,761.69 1742.34,726.06 1742.79,760.66 1743.24,728.74 1743.7,754.4 1744.15,729.63 1744.6,764.08 1745.05,725.84 1745.51,765.5 1745.96,725.86 1746.41,755.48 1746.87,726.18 1747.32,758.38 1747.77,732.71 1748.22,756.4 1748.68,724.52 1749.13,761.75 1749.58,719.31 1750.04,761.71 1750.49,730.65 1750.94,763.4 1751.4,724.81 1751.85,756.2 1752.3,723.16 1752.75,758.18 1753.21,726.95 1753.66,754.1 1754.11,726.93 1754.57,760.6 1755.02,719.09 1755.47,755.83 1755.92,721.83 1756.38,754.13 1756.83,724.97 1757.28,757.73 1757.74,720.66 1758.19,757.79 1758.64,721.36 1759.09,755.82 1759.55,726.14 1760,752.09 1760.45,726.17 1760.91,754.31 1761.36,721.35 1761.81,750.63 1762.27,725.02 1762.72,756.46 1763.17,721.3 1763.62,753.81 1764.08,717.74 1764.53,753.15 1764.98,720.28 1765.44,750.5 1765.89,712.97 1766.34,758.34 1766.79,719.78 1767.25,750.95 1767.7,719.16 1768.15,748.43 1768.61,720.29 1769.06,756.54 1769.51,715.88 1769.96,762.34 1770.42,720.17 1770.87,744.54 1771.32,718.15 1771.78,751.19 1772.23,721.21 1772.68,752.28 1773.14,718.13 1773.59,745.56 1774.04,720.82 1774.49,761.24 1774.95,715.63 1775.4,746.09 1775.85,719.11 1776.31,757.49 1776.76,720.14 1777.21,749.42 1777.66,718.08 1778.12,750.51 1778.57,724.01 1779.02,752.2 1779.48,712.78 1779.93,751.05 1780.38,718.78 1780.83,746.21 1781.29,711.48 1781.74,751.23 1782.19,717.2 1782.65,744.89 1783.1,716.23 1783.55,749.66 1784,707.72 1784.46,748.17 1784.91,715.44 1785.36,755.48 1785.82,713.28 1786.27,748.6 1786.72,715.29 1787.18,744.79 1787.63,717.33 1788.08,753.34 1788.53,715.27 1788.99,747.7 1789.44,717.58 1789.89,751.51 1790.35,714.99 1790.8,747.31 1791.25,714.31 1791.7,743.53 1792.16,719.37 1792.61,745.33 1793.06,713.4 1793.52,744.88 1793.97,704.02 1794.42,746.52 1794.87,710.02 1795.33,743.05 1795.78,715.12 1796.23,743.4 1796.69,707.21 1797.14,745.97 1797.59,707.48 1798.05,744.76 1798.5,712.21 1798.95,749.64 1799.4,705.7 1799.86,738.35 1800.31,711.7 1800.76,743.11 1801.22,712.92 1801.67,745.84 1802.12,710.05 1802.57,747.97 1803.03,708.24 1803.48,740.08 1803.93,705.65 1804.39,745.21 1804.84,702.25 1805.29,742.3 1805.74,700.57 1806.2,747.51 1806.65,695.88 1807.1,743.18 1807.56,710.68 1808.01,746.12 1808.46,702.76 1808.92,738.75 1809.37,702.88 1809.82,739.55 1810.27,709.58 1810.73,742.01 1811.18,713.56 1811.63,744.38 1812.09,702.47" fill="none" stroke="#a5529b" stroke-width="1.5" stroke-linejoin="round"/>
<polyline points="1734.11,730.49 1734.41,571.91 1734.59,567.01 1734.85,599.71 1735.23,656.92 1735.6,701.06 1735.98,730.49 1736.16,761.51 1736.39,783.81 1736.69,772.66 1737.06,765.97 1737.47,761.51 1737.85,729.2 1738.14,566.05 1738.33,561 1738.59,594.64 1738.97,653.51 1739.34,698.92 1739.71,729.2 1739.9,760.57 1740.13,782.24 1740.43,771.4 1740.8,764.9 1741.21,760.57 1741.58,727.9 1741.88,564.42 1742.07,559.37 1742.33,593.07 1742.71,652.06 1743.08,697.57 1743.45,727.9 1743.64,759.62 1743.86,779.08 1744.16,769.35 1744.54,763.51 1744.95,759.62 1745.32,726.61 1745.62,568.07 1745.81,563.16 1746.07,595.85 1746.44,653.06 1746.82,697.19 1747.19,726.61 1747.38,758.67 1747.6,777.86 1747.9,768.26 1748.28,762.51 1748.69,758.67 1749.06,725.32 1749.36,564.65 1749.55,559.68 1749.81,592.81 1750.18,650.78 1750.56,695.5 1750.93,725.32 1751.12,757.72 1751.34,775.14 1751.64,766.43 1752.01,761.2 1752.43,757.72 1752.8,724.03 1753.1,559.2 1753.29,554.1 1753.55,588.09 1753.92,647.56 1754.3,693.44 1754.67,724.03 1754.86,756.77 1755.08,778.82 1755.38,767.79 1755.75,761.18 1756.16,756.77 1756.54,722.73 1756.84,558.39 1757.02,553.31 1757.29,587.2 1757.66,646.49 1758.03,692.24 1758.41,722.73 1758.59,755.83 1758.82,776.65 1759.12,766.24 1759.49,759.99 1759.9,755.83 1760.28,721.44 1760.58,555.94 1760.76,550.82 1761.02,584.95 1761.4,644.66 1761.77,690.73 1762.15,721.44 1762.33,754.88 1762.56,773.76 1762.86,764.32 1763.23,758.65 1763.64,754.88 1764.02,720.15 1764.31,553.31 1764.5,548.14 1764.76,582.55 1765.14,642.75 1765.51,689.19 1765.88,720.15 1766.07,753.93 1766.3,772.44 1766.59,763.18 1766.97,757.63 1767.38,753.93 1767.75,718.86 1768.05,551.76 1768.24,546.59 1768.5,581.04 1768.88,641.34 1769.25,687.85 1769.62,718.86 1769.81,752.98 1770.03,774.75 1770.33,763.86 1770.71,757.33 1771.12,752.98 1771.49,717.56 1771.79,555.88 1771.98,550.88 1772.24,584.22 1772.61,642.56 1772.99,687.56 1773.36,717.56 1773.55,752.03 1773.77,776.27 1774.07,764.15 1774.45,756.88 1774.86,752.03 1775.23,716.27 1775.53,550.25 1775.72,545.12 1775.98,579.35 1776.35,639.25 1776.73,685.46 1777.1,716.27 1777.29,750.91 1777.51,771.52 1777.81,761.22 1778.18,755.04 1778.6,750.91 1778.97,714.98 1779.27,545.85 1779.46,540.62 1779.72,575.49 1780.09,636.52 1780.46,683.59 1780.84,714.98 1781.03,749.79 1781.25,772.91 1781.55,761.35 1781.92,754.42 1782.33,749.79 1782.71,713.69 1783.01,548.4 1783.19,543.29 1783.46,577.37 1783.83,637.01 1784.2,683.01 1784.58,713.69 1784.76,748.67 1784.99,772.39 1785.29,760.53 1785.66,753.42 1786.07,748.67 1786.45,712.39 1786.75,548.78 1786.93,543.72 1787.19,577.45 1787.57,636.49 1787.94,682.03 1788.32,712.39 1788.5,747.55 1788.73,774.06 1789.03,760.81 1789.4,752.85 1789.81,747.55 1790.18,711.1 1790.48,544.99 1790.67,539.86 1790.93,574.11 1791.31,634.04 1791.68,680.28 1792.05,711.1 1792.24,746.43 1792.47,770.51 1792.76,758.47 1793.14,751.25 1793.55,746.43 1793.92,709.81 1794.22,546.15 1794.41,541.09 1794.67,574.84 1795.04,633.89 1795.42,679.44 1795.79,709.81 1795.98,745.31 1796.2,767.64 1796.5,756.48 1796.88,749.78 1797.29,745.31 1797.66,708.52 1797.96,544.46 1798.15,539.38 1798.41,573.21 1798.78,632.41 1799.16,678.07 1799.53,708.52 1799.72,744.19 1799.94,769.81 1800.24,757 1800.62,749.32 1801.03,744.19 1801.4,707.22 1801.7,540.83 1801.89,535.69 1802.15,569.99 1802.52,630.03 1802.9,676.35 1803.27,707.22 1803.46,743.07 1803.68,765.38 1803.98,754.22 1804.35,747.53 1804.76,743.07 1805.14,705.93 1805.44,542.72 1805.62,537.67 1805.89,571.32 1806.26,630.21 1806.63,675.64 1807.01,705.93 1807.2,741.95 1807.42,766.96 1807.72,754.45 1808.09,746.95 1808.5,741.95 1808.88,704.64 1809.18,547.33 1809.36,542.47 1809.63,574.9 1810,631.66 1810.37,675.45 1810.75,704.64 1810.93,740.83 1811.16,767.77 1811.46,754.3 1811.83,746.22 1812.24,740.83" fill="none" stroke="#a5529b" stroke-width="1.85" stroke-linejoin="round"/>
<text transform="translate(1353.7,613.6) scale(1,1.04)" font-size="30" text-anchor="start">500 rpm</text>
<text transform="translate(1439.4,591.5) scale(1,1.04)" font-size="30" text-anchor="start">1 500 rpm</text>
<text transform="translate(1522.4,567.3) scale(1,1.04)" font-size="30" text-anchor="start">2 000 rpm</text>
<text transform="translate(1611.2,542.2) scale(1,1.04)" font-size="30" text-anchor="start">2 500 rpm</text>
<text transform="translate(1695,517.8) scale(1,1.04)" font-size="30" text-anchor="start">3 000 rpm</text>
<line x1="109.1" y1="1311.8" x2="109.1" y2="1306" stroke="#000" stroke-width="2.8"/>
<line x1="223.95" y1="1311.8" x2="223.95" y2="1306" stroke="#000" stroke-width="2.8"/>
<line x1="338.81" y1="1311.8" x2="338.81" y2="1306" stroke="#000" stroke-width="2.8"/>
<line x1="453.66" y1="1311.8" x2="453.66" y2="1306" stroke="#000" stroke-width="2.8"/>
<line x1="568.51" y1="1311.8" x2="568.51" y2="1306" stroke="#000" stroke-width="2.8"/>
<line x1="166.53" y1="1311.8" x2="166.53" y2="1308.8" stroke="#000" stroke-width="2.8"/>
<line x1="281.38" y1="1311.8" x2="281.38" y2="1308.8" stroke="#000" stroke-width="2.8"/>
<line x1="396.23" y1="1311.8" x2="396.23" y2="1308.8" stroke="#000" stroke-width="2.8"/>
<line x1="511.09" y1="1311.8" x2="511.09" y2="1308.8" stroke="#000" stroke-width="2.8"/>
<line x1="109.1" y1="1250.42" x2="114.9" y2="1250.42" stroke="#000" stroke-width="2.8"/>
<line x1="109.1" y1="1168.59" x2="114.9" y2="1168.59" stroke="#000" stroke-width="2.8"/>
<line x1="109.1" y1="1086.75" x2="114.9" y2="1086.75" stroke="#000" stroke-width="2.8"/>
<line x1="109.1" y1="1004.92" x2="114.9" y2="1004.92" stroke="#000" stroke-width="2.8"/>
<line x1="109.1" y1="1291.34" x2="112.1" y2="1291.34" stroke="#000" stroke-width="2.8"/>
<line x1="109.1" y1="1209.51" x2="112.1" y2="1209.51" stroke="#000" stroke-width="2.8"/>
<line x1="109.1" y1="1127.67" x2="112.1" y2="1127.67" stroke="#000" stroke-width="2.8"/>
<line x1="109.1" y1="1045.84" x2="112.1" y2="1045.84" stroke="#000" stroke-width="2.8"/>
<rect x="109.1" y="964" width="470.9" height="347.8" fill="none" stroke="#000" stroke-width="3.3"/>
<text transform="translate(109.1,1346.3) scale(1,1.04)" font-size="30" text-anchor="middle">0</text>
<text transform="translate(223.95,1346.3) scale(1,1.04)" font-size="30" text-anchor="middle">20</text>
<text transform="translate(338.81,1346.3) scale(1,1.04)" font-size="30" text-anchor="middle">40</text>
<text transform="translate(453.66,1346.3) scale(1,1.04)" font-size="30" text-anchor="middle">60</text>
<text transform="translate(568.51,1346.3) scale(1,1.04)" font-size="30" text-anchor="middle">80</text>
<text transform="translate(97.6,1261.22) scale(1,1.04)" font-size="30" text-anchor="end">−10</text>
<text transform="translate(97.6,1179.39) scale(1,1.04)" font-size="30" text-anchor="end">0</text>
<text transform="translate(97.6,1097.55) scale(1,1.04)" font-size="30" text-anchor="end">10</text>
<text transform="translate(97.6,1015.72) scale(1,1.04)" font-size="30" text-anchor="end">20</text>
<text transform="translate(345,1377.5) scale(1,1.04)" font-size="30" text-anchor="middle">Time/s</text>
<text transform="translate(35.3,1137.9) rotate(-90) scale(1,1.04)" font-size="30" text-anchor="middle">Current/nA</text>
<text transform="translate(567.5,993) scale(1,1.04)" font-size="30" text-anchor="end">@3 000 rpm</text>
<line x1="123.5" y1="987" x2="166.5" y2="987" stroke="#575757" stroke-width="2.6"/>
<text transform="translate(176.7,997.8) scale(1,1.04)" font-size="30" text-anchor="start">0.01 N</text>
<line x1="123.5" y1="1015.2" x2="166.5" y2="1015.2" stroke="#e23b3c" stroke-width="2.6"/>
<text transform="translate(176.7,1026) scale(1,1.04)" font-size="30" text-anchor="start">0.02 N</text>
<line x1="123.5" y1="1043.4" x2="166.5" y2="1043.4" stroke="#2c6cb3" stroke-width="2.6"/>
<text transform="translate(176.7,1054.2) scale(1,1.04)" font-size="30" text-anchor="start">0.1 N</text>
<line x1="123.5" y1="1071.6" x2="166.5" y2="1071.6" stroke="#3aa36a" stroke-width="2.6"/>
<text transform="translate(176.7,1082.4) scale(1,1.04)" font-size="30" text-anchor="start">0.2 N</text>
<line x1="123.5" y1="1099.8" x2="166.5" y2="1099.8" stroke="#9b79b8" stroke-width="2.6"/>
<text transform="translate(176.7,1110.6) scale(1,1.04)" font-size="30" text-anchor="start">2 N</text>
<polyline points="130.64,1167.45 131.03,1144.42 131.56,1166.13 131.96,1171.03 132.35,1166.17 132.62,1172.86 133.14,1166.72 133.54,1195.58 133.94,1172.27 134.33,1173.07 134.86,1166.3 135.26,1171.66 135.65,1165.7 136.05,1171.8 136.58,1167.38 137.24,1171.56 137.64,1146.38 138.16,1166.13 138.56,1164.53 138.96,1171.38 139.22,1166.89 139.75,1171.32 140.14,1195.91 140.54,1172.27 140.94,1165.67 141.47,1172.11 141.86,1166.74 142.26,1172.27 142.65,1166.24 143.18,1171.61 143.84,1166.7 144.24,1143.88 144.77,1166.13 145.16,1171.92 145.56,1165.77 145.82,1172.91 146.35,1167 146.75,1196.27 147.15,1172.27 147.54,1171.52 148.07,1165.75 148.47,1172.39 148.86,1165.84 149.26,1172.77 149.79,1165.96 150.45,1171.54 150.84,1144.37 151.37,1166.13 151.77,1166.38 152.16,1171.64 152.43,1166.89 152.96,1172.48 153.35,1198.97 153.75,1172.27 154.15,1167.14 154.67,1172.34 155.07,1166.08 155.47,1172.42 155.86,1166.33 156.39,1171.28 157.05,1165.27 157.45,1141.47 157.98,1166.13 158.37,1173.54 158.77,1166.67 159.03,1172.4 159.56,1166.05 159.96,1201.68 160.35,1172.27 160.75,1173.04 161.28,1166.67 161.67,1172.21 162.07,1166.64 162.47,1172.74 163,1165.64 163.66,1172.26 164.05,1142.28 164.58,1166.13 164.98,1166.15 165.37,1172.61 165.64,1166.51 166.17,1173.04 166.56,1199.58 166.96,1172.27 167.35,1165.66 167.88,1172.33 168.28,1166.23 168.67,1172.12 169.07,1165.74 169.6,1171.22 170.26,1165.99 170.66,1143.96 171.18,1166.13 171.58,1172.89 171.98,1165.2 172.24,1171.59 172.77,1165.62 173.17,1199.93 173.56,1172.27 173.96,1172.36 174.49,1165.59 174.88,1171.5 175.28,1165.76 175.67,1172.48 176.2,1167.37 176.86,1172.89 177.26,1142.67 177.79,1166.13 178.18,1165.48 178.58,1172.02 178.84,1167.18 179.37,1172.34 179.77,1199.65 180.17,1172.27 180.56,1166.33 181.09,1171.54 181.49,1167.53 181.88,1172.55 182.28,1166.23 182.81,1171.23 183.47,1167.15 183.86,1145.37 184.39,1166.13 184.79,1172.08 185.18,1165.54 185.45,1170.99 185.98,1165.84 186.37,1203.68 186.77,1172.27 187.17,1172.86 187.69,1165.48 188.09,1172.28 188.49,1166.28 188.88,1172.26 189.41,1165.19" fill="none" stroke="#575757" stroke-width="1.5" stroke-linejoin="round"/>
<polyline points="218.21,1166.81 218.61,1137.4 219.14,1165.72 219.54,1173.2 219.94,1164.52 220.2,1174.02 220.73,1164.94 221.13,1203.29 221.53,1172.68 221.93,1171.63 222.46,1166.02 222.86,1173.27 223.25,1165.33 223.65,1171.67 224.18,1163.92 224.85,1173.06 225.25,1129.31 225.78,1165.72 226.17,1166.45 226.57,1174.12 226.84,1166.69 227.37,1172.98 227.77,1199.12 228.16,1172.68 228.56,1165.56 229.09,1173.78 229.49,1165.04 229.89,1172.77 230.29,1166.26 230.82,1173.32 231.48,1166.47 231.88,1124.54 232.41,1165.72 232.81,1173.48 233.21,1164.19 233.47,1173.16 234,1164.73 234.4,1201.86 234.8,1172.68 235.2,1171.49 235.73,1167.66 236.13,1171.55 236.53,1165.9 236.92,1173.58 237.46,1166.18 238.12,1172.32 238.52,1127.91 239.05,1165.72 239.45,1166.33 239.84,1171.61 240.11,1164.47 240.64,1171.15 241.04,1201.94 241.44,1172.68 241.84,1164.89 242.37,1171.1 242.76,1163.98 243.16,1172.09 243.56,1164.99 244.09,1172.19 244.75,1167.15 245.15,1128.55 245.68,1165.72 246.08,1172.95 246.48,1165.32 246.75,1174.44 247.28,1166.93 247.67,1201.55 248.07,1172.68 248.47,1171.36 249,1166.61 249.4,1173.07 249.8,1165.41 250.2,1173.08 250.73,1166.44 251.39,1173.16 251.79,1132.22 252.32,1165.72 252.72,1165.57 253.12,1171.34 253.38,1165.43 253.91,1171.32 254.31,1203.05 254.71,1172.68 255.11,1165.11 255.64,1171.98 256.04,1165.23 256.43,1172.93 256.83,1165.37 257.36,1172.43 258.03,1165.24 258.43,1134.74 258.96,1165.72 259.35,1172.37 259.75,1166.19 260.02,1174.88 260.55,1164.5 260.95,1200.51 261.34,1172.68 261.74,1172.74 262.27,1167.54 262.67,1172.14 263.07,1166.31 263.47,1172.11 264,1165.81 264.66,1172.45 265.06,1129.23 265.59,1165.72 265.99,1165.6 266.39,1171.65 266.65,1166.81 267.18,1171.7 267.58,1200.74 267.98,1172.68 268.38,1165.15 268.91,1173.14 269.31,1165.73 269.71,1173.05 270.1,1165.67 270.64,1171.9 271.3,1164.94 271.7,1135.34 272.23,1165.72 272.63,1172.15 273.02,1164.42 273.29,1172.74 273.82,1165.15 274.22,1199.29 274.62,1172.68 275.02,1170.61 275.55,1165.7 275.94,1172.8 276.34,1165.72 276.74,1172.19 277.27,1166.24" fill="none" stroke="#e23b3c" stroke-width="1.5" stroke-linejoin="round"/>
<polyline points="309.52,1165.77 309.91,1103.4 310.44,1165.72 310.83,1174.09 311.23,1165.39 311.49,1173.94 312.02,1165.01 312.41,1230.43 312.81,1172.27 313.2,1171.79 313.73,1165.07 314.12,1171.62 314.51,1165.49 314.91,1172.69 315.43,1165.97 316.09,1172.45 316.49,1101.46 317.01,1165.72 317.41,1166.29 317.8,1172.68 318.06,1165.96 318.59,1172.07 318.98,1232.15 319.38,1172.27 319.77,1165.95 320.3,1172.55 320.69,1166.21 321.09,1172.2 321.48,1166.78 322.01,1172.23 322.66,1165.76 323.06,1102.36 323.58,1165.72 323.98,1170.06 324.37,1166.5 324.64,1173.54 325.16,1166.06 325.56,1232.86 325.95,1172.27 326.34,1170.85 326.87,1164.13 327.26,1173.23 327.66,1165.28 328.05,1172.27 328.58,1166.19 329.24,1172.95 329.63,1110.76 330.16,1165.72 330.55,1165.49 330.94,1172.21 331.21,1164.25 331.73,1171.35 332.13,1230.33 332.52,1172.27 332.92,1166.63 333.44,1172.48 333.84,1164.91 334.23,1173.32 334.63,1166.03 335.15,1172.09 335.81,1167.06 336.2,1110.36 336.73,1165.72 337.12,1172.05 337.52,1166.17 337.78,1171.54 338.31,1165.63 338.7,1234.44 339.09,1172.27 339.49,1171.82 340.01,1165.79 340.41,1171.68 340.8,1165.81 341.2,1173.04 341.72,1164.79 342.38,1172.38 342.77,1104.4 343.3,1165.72 343.69,1166.18 344.09,1173.41 344.35,1168.76 344.88,1173.3 345.27,1228.91 345.67,1172.27 346.06,1165.34 346.59,1172.97 346.98,1167.76 347.38,1171.79 347.77,1166.19 348.3,1172.55 348.95,1165.35 349.35,1108.27 349.87,1165.72 350.27,1173.63 350.66,1165.9 350.92,1172.67 351.45,1164.83 351.84,1233.05 352.24,1172.27 352.63,1173.08 353.16,1164.44 353.55,1171.79 353.95,1164.45 354.34,1172.82 354.87,1165.09 355.52,1172.48 355.92,1106.73 356.45,1165.72 356.84,1166.08 357.23,1173.03 357.5,1166.33 358.02,1173.4 358.42,1235.48 358.81,1172.27 359.21,1166.09 359.73,1172.01 360.13,1166.34 360.52,1173.5 360.91,1164.9 361.44,1172.56 362.1,1166.15 362.49,1107.96 363.02,1165.72 363.41,1171.8 363.81,1166.14 364.07,1172.25 364.59,1166.86 364.99,1233.62 365.38,1172.27 365.78,1173.56 366.3,1166.03 366.7,1170.77 367.09,1165.58 367.49,1170.75 368.01,1165.37" fill="none" stroke="#2c6cb3" stroke-width="1.5" stroke-linejoin="round"/>
<polyline points="407.72,1164.44 408.12,1043.05 408.65,1162.04 409.05,1179.61 409.44,1162.74 409.71,1179.7 410.24,1160.81 410.64,1251.22 411.04,1179.23 411.44,1181.86 411.97,1160.05 412.36,1181.55 412.76,1162.43 413.16,1177.4 413.69,1160.67 414.36,1178.47 414.75,1048.3 415.28,1162.04 415.68,1164.01 416.08,1179.14 416.35,1163.76 416.88,1178.33 417.28,1248.33 417.67,1179.23 418.07,1164.81 418.6,1178.24 419,1165.69 419.4,1176.97 419.8,1161.48 420.33,1176.43 420.99,1164.87 421.39,1046.93 421.92,1162.04 422.32,1179.73 422.72,1157.99 422.98,1178.05 423.51,1159.34 423.91,1258.43 424.31,1179.23 424.71,1181.04 425.24,1163.14 425.64,1179.91 426.03,1159.63 426.43,1180.39 426.96,1162.64 427.63,1179.29 428.03,1037.87 428.56,1162.04 428.95,1164.81 429.35,1179.71 429.62,1160.33 430.15,1176.77 430.55,1256.04 430.95,1179.23 431.34,1164.91 431.87,1184.43 432.27,1160.93 432.67,1175.79 433.07,1163.49 433.6,1178.68 434.26,1167.55 434.66,1041.66 435.19,1162.04 435.59,1179.37 435.99,1161.04 436.25,1182.36 436.79,1162.72 437.18,1259.81 437.58,1179.23 437.98,1180.86 438.51,1164.03 438.91,1181.89 439.31,1159.63 439.7,1179.2 440.24,1162.52 440.9,1180.29 441.3,1043.55 441.83,1162.04 442.23,1161.73 442.62,1180.84 442.89,1161.36 443.42,1179.9 443.82,1253.18 444.22,1179.23 444.62,1160.93 445.15,1182.52 445.54,1163.76 445.94,1181.86 446.34,1158.9 446.87,1180.6 447.54,1164.15 447.93,1042.56 448.46,1162.04 448.86,1182.91 449.26,1162.44 449.53,1181.41 450.06,1159.07 450.46,1258.09 450.85,1179.23 451.25,1181.25 451.78,1160.17 452.18,1179.73 452.58,1161.19 452.98,1181.34 453.51,1162.36 454.17,1178.3 454.57,1043.22 455.1,1162.04 455.5,1165.34 455.9,1179.8 456.16,1162.68 456.69,1179.26 457.09,1255.48 457.49,1179.23 457.89,1164.64 458.42,1178.07 458.82,1164.11 459.21,1180.68 459.61,1164.24 460.14,1180.24 460.81,1167.71 461.21,1041.66 461.74,1162.04 462.13,1177.55 462.53,1160.41 462.8,1176.38 463.33,1161.69 463.73,1246 464.13,1179.23 464.52,1178.44 465.05,1158.51 465.45,1179.16 465.85,1161.8 466.25,1179.36 466.78,1161.25" fill="none" stroke="#3aa36a" stroke-width="1.4" stroke-linejoin="round"/>
<polyline points="506.49,1160.18 506.82,1267.62 507.14,1186.9 507.53,1001.88 507.93,1158.72 508.45,1158.77 508.71,1180.86 509.1,1158.77 509.49,1180.86 509.88,1132.87 510.27,1223.61 510.66,1158.77 511.05,1180.86 511.44,1136.23 511.83,1228.5 512.22,1158.77 512.61,1180.86 513,1182.29 513.33,1266.11 513.65,1152.86 514.04,1000.74 514.43,1175.71 514.95,1158.77 515.21,1180.86 515.61,1158.77 516,1180.86 516.39,1132.62 516.78,1222.78 517.17,1158.77 517.56,1180.86 517.95,1136 518.34,1227.59 518.73,1158.77 519.12,1180.86 519.51,1156.23 519.84,1268.27 520.16,1181.54 520.55,1002.43 520.94,1158.17 521.46,1158.77 521.72,1180.86 522.11,1158.77 522.5,1180.86 522.89,1132.99 523.29,1223.97 523.68,1158.77 524.07,1180.86 524.46,1136.34 524.85,1228.89 525.24,1158.77 525.63,1180.86 526.02,1182.27 526.34,1266.28 526.67,1159.98 527.06,999.85 527.45,1182.32 527.97,1158.77 528.23,1180.86 528.62,1158.77 529.01,1180.86 529.4,1132.42 529.79,1222.87 530.18,1158.77 530.57,1180.86 530.97,1135.82 531.36,1227.69 531.75,1158.77 532.14,1180.86 532.53,1159.8 532.85,1268.3 533.18,1178.81 533.57,1001.67 533.96,1158.64 534.48,1158.77 534.74,1180.86 535.13,1158.77 535.52,1180.86 535.91,1132.82 536.3,1223.98 536.69,1158.77 537.08,1180.86 537.47,1136.19 537.86,1228.91 538.25,1158.77 538.65,1180.86 539.04,1184.54 539.36,1271.24 539.69,1160.61 540.08,1002.03 540.47,1179.91 540.99,1158.77 541.25,1180.86 541.64,1158.77 542.03,1180.86 542.42,1132.9 542.81,1225.6 543.2,1158.77 543.59,1180.86 543.98,1136.26 544.37,1230.67 544.76,1158.77 545.15,1180.86 545.54,1158.38 545.87,1265.06 546.19,1180.18 546.59,1003.88 546.98,1158.45 547.5,1158.77 547.76,1180.86 548.15,1158.77 548.54,1180.86 548.93,1133.31 549.32,1222.2 549.71,1158.77 550.1,1180.86 550.49,1136.63 550.88,1226.96 551.27,1158.77 551.66,1180.86 552.05,1182.32 552.38,1265.69 552.7,1154.61 553.09,1002.07 553.48,1182.93 554,1158.77 554.27,1180.86 554.66,1158.77 555.05,1180.86 555.44,1132.91 555.83,1222.55 556.22,1158.77 556.61,1180.86 557,1136.27 557.39,1227.34 557.78,1158.77 558.17,1180.86 558.56,1159.21 558.89,1267.13 559.21,1179.09 559.6,1002.43 559.99,1158.23 560.51,1158.77 560.77,1180.86 561.16,1158.77 561.55,1180.86 561.95,1132.99 562.34,1223.34 562.73,1158.77 563.12,1180.86 563.51,1136.34 563.9,1228.2 564.29,1158.77 564.68,1180.86" fill="none" stroke="#9b79b8" stroke-width="1.5" stroke-linejoin="round"/>
<line x1="747.53" y1="1313.3" x2="747.53" y2="1307.5" stroke="#000" stroke-width="2.8"/>
<line x1="805.68" y1="1313.3" x2="805.68" y2="1307.5" stroke="#000" stroke-width="2.8"/>
<line x1="863.83" y1="1313.3" x2="863.83" y2="1307.5" stroke="#000" stroke-width="2.8"/>
<line x1="921.99" y1="1313.3" x2="921.99" y2="1307.5" stroke="#000" stroke-width="2.8"/>
<line x1="980.14" y1="1313.3" x2="980.14" y2="1307.5" stroke="#000" stroke-width="2.8"/>
<line x1="1038.3" y1="1313.3" x2="1038.3" y2="1307.5" stroke="#000" stroke-width="2.8"/>
<line x1="1096.45" y1="1313.3" x2="1096.45" y2="1307.5" stroke="#000" stroke-width="2.8"/>
<line x1="1154.6" y1="1313.3" x2="1154.6" y2="1307.5" stroke="#000" stroke-width="2.8"/>
<line x1="1212.76" y1="1313.3" x2="1212.76" y2="1307.5" stroke="#000" stroke-width="2.8"/>
<line x1="776.6" y1="1313.3" x2="776.6" y2="1310.3" stroke="#000" stroke-width="2.8"/>
<line x1="834.76" y1="1313.3" x2="834.76" y2="1310.3" stroke="#000" stroke-width="2.8"/>
<line x1="892.91" y1="1313.3" x2="892.91" y2="1310.3" stroke="#000" stroke-width="2.8"/>
<line x1="951.06" y1="1313.3" x2="951.06" y2="1310.3" stroke="#000" stroke-width="2.8"/>
<line x1="1009.22" y1="1313.3" x2="1009.22" y2="1310.3" stroke="#000" stroke-width="2.8"/>
<line x1="1067.37" y1="1313.3" x2="1067.37" y2="1310.3" stroke="#000" stroke-width="2.8"/>
<line x1="1125.53" y1="1313.3" x2="1125.53" y2="1310.3" stroke="#000" stroke-width="2.8"/>
<line x1="1183.68" y1="1313.3" x2="1183.68" y2="1310.3" stroke="#000" stroke-width="2.8"/>
<line x1="718.8" y1="1313.3" x2="724.6" y2="1313.3" stroke="#000" stroke-width="2.8"/>
<line x1="718.8" y1="1236.23" x2="724.6" y2="1236.23" stroke="#000" stroke-width="2.8"/>
<line x1="718.8" y1="1159.17" x2="724.6" y2="1159.17" stroke="#000" stroke-width="2.8"/>
<line x1="718.8" y1="1082.1" x2="724.6" y2="1082.1" stroke="#000" stroke-width="2.8"/>
<line x1="718.8" y1="1005.03" x2="724.6" y2="1005.03" stroke="#000" stroke-width="2.8"/>
<line x1="718.8" y1="1274.77" x2="721.8" y2="1274.77" stroke="#000" stroke-width="2.8"/>
<line x1="718.8" y1="1197.7" x2="721.8" y2="1197.7" stroke="#000" stroke-width="2.8"/>
<line x1="718.8" y1="1120.63" x2="721.8" y2="1120.63" stroke="#000" stroke-width="2.8"/>
<line x1="718.8" y1="1043.57" x2="721.8" y2="1043.57" stroke="#000" stroke-width="2.8"/>
<rect x="718.8" y="966.5" width="495.7" height="346.8" fill="none" stroke="#000" stroke-width="3.3"/>
<text transform="translate(747.53,1347.8) scale(1,1.04)" font-size="30" text-anchor="middle">0</text>
<text transform="translate(805.68,1347.8) scale(1,1.04)" font-size="30" text-anchor="middle">5</text>
<text transform="translate(863.83,1347.8) scale(1,1.04)" font-size="30" text-anchor="middle">10</text>
<text transform="translate(921.99,1347.8) scale(1,1.04)" font-size="30" text-anchor="middle">15</text>
<text transform="translate(980.14,1347.8) scale(1,1.04)" font-size="30" text-anchor="middle">20</text>
<text transform="translate(1038.3,1347.8) scale(1,1.04)" font-size="30" text-anchor="middle">25</text>
<text transform="translate(1096.45,1347.8) scale(1,1.04)" font-size="30" text-anchor="middle">30</text>
<text transform="translate(1154.6,1347.8) scale(1,1.04)" font-size="30" text-anchor="middle">35</text>
<text transform="translate(1212.76,1347.8) scale(1,1.04)" font-size="30" text-anchor="middle">40</text>
<text transform="translate(707.9,1324.1) scale(1,1.04)" font-size="30" text-anchor="end">0</text>
<text transform="translate(707.9,1247.03) scale(1,1.04)" font-size="30" text-anchor="end">2</text>
<text transform="translate(707.9,1169.97) scale(1,1.04)" font-size="30" text-anchor="end">4</text>
<text transform="translate(707.9,1092.9) scale(1,1.04)" font-size="30" text-anchor="end">6</text>
<text transform="translate(707.9,1015.83) scale(1,1.04)" font-size="30" text-anchor="end">8</text>
<text transform="translate(968.51,1377.5) scale(1,1.04)" font-size="30" text-anchor="middle">Time/s</text>
<text transform="translate(666.5,1139.9) rotate(-90) scale(1,1.04)" font-size="30" text-anchor="middle">Voltage/V</text>
<text transform="translate(1205.5,995.7) scale(1,1.04)" font-size="30" text-anchor="end">@3 000 rpm</text>
<line x1="739.4" y1="986.8" x2="779.9" y2="986.8" stroke="#575757" stroke-width="1.4"/>
<text transform="translate(787.8,997.6) scale(1,1.04)" font-size="30" text-anchor="start">0.01 N</text>
<line x1="739.4" y1="1015" x2="779.9" y2="1015" stroke="#e6393b" stroke-width="1.4"/>
<text transform="translate(787.8,1025.8) scale(1,1.04)" font-size="30" text-anchor="start">0.02 N</text>
<line x1="739.4" y1="1043.2" x2="779.9" y2="1043.2" stroke="#2b6db5" stroke-width="1.4"/>
<text transform="translate(787.8,1054) scale(1,1.04)" font-size="30" text-anchor="start">0.1 N</text>
<line x1="739.4" y1="1071.4" x2="779.9" y2="1071.4" stroke="#39a56b" stroke-width="1.4"/>
<text transform="translate(787.8,1082.2) scale(1,1.04)" font-size="30" text-anchor="start">0.2 N</text>
<line x1="739.4" y1="1099.6" x2="779.9" y2="1099.6" stroke="#9c7abd" stroke-width="1.4"/>
<text transform="translate(787.8,1110.4) scale(1,1.04)" font-size="30" text-anchor="start">2 N</text>
<polyline points="751.02,1198.44 751.23,1196.1 751.45,1199.31 751.67,1198.01 751.89,1200.8 752.1,1195.3 752.32,1199.78 752.54,1199.63 752.75,1209.76 752.97,1209.93 753.19,1216.2 753.41,1222.88 753.62,1233.7 753.84,1243.93 754.06,1254.88 754.27,1263.8 754.49,1274 754.71,1278.72 754.92,1287.68 755.14,1292.84 755.36,1296.47 755.58,1298.07 755.79,1303.86 756.01,1306.97 756.23,1312.9 756.44,1313.3 756.66,1314.44 756.88,1308.17 757.1,1302.5 757.31,1303.38 757.53,1308.18 757.75,1312.37 757.96,1309.42 758.18,1303.5 758.4,1299.82 758.62,1296.71 758.83,1296.46 759.05,1289.89 759.27,1293.32 759.48,1294.28 759.7,1291.68 759.92,1279.17 760.14,1268.19 760.35,1258.65 760.57,1252.98 760.79,1246.08 761,1240.91 761.22,1229.53 761.44,1218.05 761.66,1212.58 761.87,1210.48 762.09,1212.24 762.31,1207.05 762.52,1210.59 762.74,1206.82 762.96,1209.21 763.17,1203.85 763.39,1206.15 763.61,1206.34 763.83,1205.6 764.04,1204.33 764.26,1200.89 764.48,1203.86 764.69,1200.56 764.91,1205.38 765.13,1202.09 765.35,1201.59 765.56,1202.74 765.78,1203.6 766,1206.96 766.21,1211.89 766.43,1227.47 766.65,1243.13 766.87,1252.2 767.08,1255.25 767.3,1260.23 767.52,1266.58 767.73,1277.44 767.95,1286.38 768.17,1292.55 768.39,1299.03 768.6,1301.1 768.82,1303.39 769.04,1302.09 769.25,1301.38 769.47,1305.32 769.69,1304.35 769.91,1305.22 770.12,1309.27 770.34,1314.51 770.56,1315.61 770.77,1310.32 770.99,1305.57 771.21,1301.68 771.42,1302.01 771.64,1299.5 771.86,1295.65 772.08,1295.01 772.29,1297.05 772.51,1292.92 772.73,1286.32 772.94,1276.32 773.16,1270.2 773.38,1263.31 773.6,1257.35 773.81,1246.92 774.03,1234.36 774.25,1220.75 774.46,1215.64 774.68,1212.37 774.9,1212.54 775.12,1209.8 775.33,1209.99 775.55,1208.73 775.77,1206.84 775.98,1196.66 776.2,1201.82 776.42,1199.57 776.64,1203.96 776.85,1200.89 777.07,1202.37 777.29,1205.32 777.5,1202.57 777.72,1206.98 777.94,1214.52 778.16,1206.94 778.37,1197.98 778.59,1190.46 778.81,1202.44 779.02,1214.52 779.24,1223.99 779.46,1232.07 779.68,1240.86 779.89,1248.83 780.11,1256.87 780.33,1268.16 780.54,1279.74 780.76,1286.26 780.98,1289.99 781.19,1293.17 781.41,1294.64 781.63,1296.7 781.85,1300.29 782.06,1306.31 782.28,1301.63 782.5,1303.89 782.71,1298.88 782.93,1301.55 783.15,1298.77 783.37,1305.52 783.58,1305.47 783.8,1303.9 784.02,1303.97 784.23,1301.94 784.45,1301.05 784.67,1297.08 784.89,1300.11 785.1,1298.61 785.32,1295.49 785.54,1291.8 785.75,1284.35 785.97,1275.87 786.19,1265.69 786.41,1256.12 786.62,1246.25 786.84,1237.42 787.06,1232.16 787.27,1225.54 787.49,1225.69 787.71,1221.2 787.93,1219.73 788.14,1217.04 788.36,1206.19 788.58,1209.61 788.79,1207.48 789.01,1216.28 789.23,1214.59 789.44,1207.57 789.66,1204.58 789.88,1196.34 790.1,1197.1 790.31,1195.96 790.53,1205.56 790.75,1203.44 790.96,1208.64 791.18,1214.02 791.4,1212.63 791.62,1216.18 791.83,1216.47 792.05,1227.54 792.27,1227.58 792.48,1235 792.7,1241.34 792.92,1249.84 793.14,1252.78 793.35,1261.55 793.57,1270.69 793.79,1283.39 794,1285.15 794.22,1290.7 794.44,1292.76 794.66,1300.77 794.87,1305.55 795.09,1307.46 795.31,1313.22 795.52,1307.1 795.74,1308.28 795.96,1305.35 796.18,1306.6 796.39,1310 796.61,1304.94 796.83,1303.49 797.04,1301.55 797.26,1302.91 797.48,1306.55 797.69,1300.09 797.91,1299.82 798.13,1299.12 798.35,1296.01 798.56,1291.84 798.78,1283.7 799,1276.22 799.21,1265.86 799.43,1256.48 799.65,1251.46 799.87,1243.38 800.08,1236.97 800.3,1223.45 800.52,1218.99 800.73,1207.89 800.95,1204.81 801.17,1200.2 801.39,1201.64 801.6,1208.94 801.82,1205.15 802.04,1204.89 802.25,1201.19 802.47,1201.42 802.69,1200.21 802.91,1193.51 803.12,1196.01 803.34,1194.26 803.56,1192.93 803.77,1193.01 803.99,1198.03 804.21,1204.95 804.43,1209.77 804.64,1209.93 804.86,1213.84 805.08,1220.89 805.29,1227.21 805.51,1229.61 805.73,1235.18 805.94,1243.01 806.16,1253.42 806.38,1263.72 806.6,1273.15 806.81,1281.93 807.03,1284.93 807.25,1297.42 807.46,1299.76 807.68,1303.19 807.9,1300.75 808.12,1301.98 808.33,1306.08 808.55,1303.79 808.77,1305.15 808.98,1300.94 809.2,1301.2 809.42,1301.81 809.64,1304.49 809.85,1306.94 810.07,1303.38 810.29,1301.52 810.5,1297.75 810.72,1297.89 810.94,1296.48 811.16,1295.62 811.37,1292.18 811.59,1288.69 811.81,1280.48 812.02,1273.88 812.24,1264.5 812.46,1253.65 812.68,1245.57 812.89,1238.1 813.11,1234.73 813.33,1229.35 813.54,1220.88 813.76,1211.95 813.98,1208.22 814.19,1209.49 814.41,1210.45 814.63,1198.64 814.85,1198.36 815.06,1193.66 815.28,1206.95 815.5,1203.32 815.71,1198.4 815.93,1196.58 816.15,1190.45 816.37,1205.53 816.58,1200.22 816.8,1210.86 817.02,1203.87 817.23,1206.62 817.45,1201.15 817.67,1203.16 817.89,1205.81 818.1,1215.16 818.32,1220.54 818.54,1229.9 818.75,1237.91 818.97,1248.53 819.19,1255.15 819.41,1259.26 819.62,1266.6 819.84,1271.16 820.06,1283.98 820.27,1290.48 820.49,1298.3 820.71,1297.52 820.93,1296.27 821.14,1295.01 821.36,1298.7 821.58,1298.68 821.79,1303.46 822.01,1312.11 822.23,1315.61 822.44,1315.61 822.66,1312 822.88,1306.85 823.1,1305.45 823.31,1300.91 823.53,1304.18 823.75,1301.76 823.96,1300.6 824.18,1298.04 824.4,1291.06 824.62,1286.39 824.83,1278.7 825.05,1274.39 825.27,1268.23 825.48,1259 825.7,1247.5 825.92,1236.91 826.14,1230.82 826.35,1229.92 826.57,1223.83 826.79,1223.07 827,1219.82 827.22,1221.82 827.44,1209.79 827.66,1195.96 827.87,1190.92 828.09,1174.13 828.31,1178.01 828.52,1174.22 828.74,1185.09 828.96,1186.45 829.18,1186.17 829.39,1188.47 829.61,1187.64 829.83,1195.58 830.04,1201.2 830.26,1200.5 830.48,1200.4 830.69,1200.41 830.91,1205.9 831.13,1210.02 831.35,1217.4 831.56,1224.3 831.78,1231.58 832,1238.33 832.21,1248.14 832.43,1259.78 832.65,1272.01 832.87,1279.58 833.08,1288.38 833.3,1293.77 833.52,1297.4 833.73,1297.81 833.95,1300.83 834.17,1302.3 834.39,1310.73 834.6,1310.21 834.82,1315.61 835.04,1310.13 835.25,1307.34 835.47,1301.26 835.69,1296.04 835.91,1296.62 836.12,1299.7 836.34,1303.04 836.56,1303.62 836.77,1307.48 836.99,1304.39" fill="none" stroke="#575757" stroke-width="1.7" stroke-linejoin="round"/>
<polyline points="854.53,1293.07 854.75,1291.57 854.96,1290.08 855.18,1290.66 855.4,1290.97 855.62,1283.3 855.83,1274.28 856.05,1266.61 856.27,1261.47 856.48,1251.15 856.7,1233.94 856.92,1216.12 857.14,1200.02 857.35,1186.97 857.57,1175.45 857.79,1165.19 858,1154.01 858.22,1149.33 858.44,1146.35 858.66,1138.08 858.87,1133.17 859.09,1125.44 859.31,1130.32 859.52,1129.68 859.74,1130.5 859.96,1124.88 860.17,1117.54 860.39,1113.98 860.61,1119.15 860.83,1113.72 861.04,1113.85 861.26,1110.06 861.48,1125.03 861.69,1131.99 861.91,1137.07 862.13,1145.85 862.35,1153.54 862.56,1161.69 862.78,1161.57 863,1171.51 863.21,1188 863.43,1208.22 863.65,1221.8 863.87,1235.58 864.08,1247.22 864.3,1256.87 864.52,1264.64 864.73,1272.24 864.95,1284.48 865.17,1286.47 865.39,1286.02 865.6,1288.43 865.82,1297.65 866.04,1303.09 866.25,1298.62 866.47,1294.14 866.69,1297.43 866.91,1300.24 867.12,1299 867.34,1295.04 867.56,1294.37 867.77,1294.77 867.99,1293.72 868.21,1292.71 868.42,1291.84 868.64,1287.88 868.86,1283.03 869.08,1270.6 869.29,1257.22 869.51,1242.42 869.73,1229.21 869.94,1215.55 870.16,1202.18 870.38,1188.5 870.6,1176.38 870.81,1163.92 871.03,1160.36 871.25,1153.84 871.46,1146.29 871.68,1135.99 871.9,1133.42 872.12,1138.22 872.33,1137.62 872.55,1127.54 872.77,1122.56 872.98,1115.02 873.2,1122.18 873.42,1115.5 873.64,1122.13 873.85,1119.43 874.07,1122.15 874.29,1119.44 874.5,1126.66 874.72,1133.15 874.94,1141.89 875.16,1144 875.37,1150.14 875.59,1156.36 875.81,1164.46 876.02,1177.66 876.24,1191.74 876.46,1207.75 876.67,1221.03 876.89,1235.28 877.11,1246.73 877.33,1259.79 877.54,1264.68 877.76,1273.36 877.98,1274.41 878.19,1285.76 878.41,1290.42 878.63,1295.98 878.85,1290.63 879.06,1290.91 879.28,1288.17 879.5,1295.5 879.71,1291.91 879.93,1297.8 880.15,1300.33 880.37,1309.01 880.58,1305.33 880.8,1299.39 881.02,1291.3 881.23,1288.96 881.45,1283.29 881.67,1275.09 881.89,1269.06 882.1,1261.52 882.32,1255.28 882.54,1245.86 882.75,1233.18 882.97,1215.93 883.19,1199.82 883.41,1180.93 883.62,1168.94 883.84,1153.82 884.06,1146.63 884.27,1139.66 884.49,1134.24 884.71,1127.69 884.93,1126.22 885.14,1123.91 885.36,1131.24 885.58,1126.6 885.79,1113.04 886.01,1102.89 886.23,1106.67 886.44,1125.84 886.66,1128.67 886.88,1122.91 887.1,1119.58 887.31,1118.36 887.53,1121.82 887.75,1120.36 887.96,1126.72 888.18,1130.21 888.4,1140.84 888.62,1153.32 888.83,1162.83 889.05,1174.18 889.27,1188.59 889.48,1204.52 889.7,1219.59 889.92,1231.43 890.14,1239.85 890.35,1246.78 890.57,1257.02 890.79,1273.46 891,1283.78 891.22,1290.11 891.44,1290.45 891.66,1292.59 891.87,1290.49 892.09,1292.62 892.31,1298.22 892.52,1301.1 892.74,1301.25 892.96,1296.81 893.18,1292.79 893.39,1295.11 893.61,1295.04 893.83,1298.17 894.04,1295.35 894.26,1290.29 894.48,1286.34 894.69,1274.92 894.91,1275.24 895.13,1262.78 895.35,1256.75 895.56,1242.76 895.78,1231.46 896,1216.55 896.21,1198.42 896.43,1182.03 896.65,1170.09 896.87,1160.37 897.08,1152.85 897.3,1142.19 897.52,1136.77 897.73,1128.32 897.95,1123.92 898.17,1124.47 898.39,1126.37 898.6,1127 898.82,1121.93 899.04,1119.06 899.25,1115.18 899.47,1112.92 899.69,1114.97 899.91,1114.89 900.12,1119.64 900.34,1122.61 900.56,1123.53 900.77,1126.67 900.99,1132.76 901.21,1143.95 901.43,1145.53 901.64,1153.93 901.86,1160.27 902.08,1175.61 902.29,1187.96 902.51,1203.79 902.73,1218.75 902.94,1234.9 903.16,1247.13 903.38,1258.54 903.6,1265.41 903.81,1273.85 904.03,1282.47 904.25,1285.76 904.46,1290.86 904.68,1290.83 904.9,1297.18 905.12,1300.43 905.33,1300.06 905.55,1294.01 905.77,1293.26 905.98,1296.99 906.2,1303.04 906.42,1296.32 906.64,1292 906.85,1284.64 907.07,1289.97 907.29,1289.18 907.5,1292.59 907.72,1287.5 907.94,1279.01 908.16,1267.98 908.37,1259.23 908.59,1248.75 908.81,1236.57 909.02,1220.13 909.24,1201.86 909.46,1183.55 909.68,1168.23 909.89,1157.23 910.11,1152.97 910.33,1145.36 910.54,1147.11 910.76,1140.25 910.98,1137.03 911.19,1124.95 911.41,1123.09 911.63,1123.2 911.85,1129.48 912.06,1137.44 912.28,1139.44 912.5,1143.25 912.71,1136.31 912.93,1135.73 913.15,1134.78 913.37,1141.71 913.58,1143.14 913.8,1142.86 914.02,1138.8 914.23,1140.51 914.45,1140.89 914.67,1148.49 914.89,1163.55 915.1,1179.06 915.32,1190.36 915.54,1204.78 915.75,1219.96 915.97,1235.38 916.19,1246.11 916.41,1257.9 916.62,1269.37 916.84,1279.85 917.06,1282.91 917.27,1288.93 917.49,1291.12 917.71,1295.75 917.93,1302.83 918.14,1305.03 918.36,1305.61 918.58,1300.65 918.79,1301.96 919.01,1303.24 919.23,1299.02 919.44,1295 919.66,1295.38 919.88,1294.81 920.1,1293.57 920.31,1290.23 920.53,1293.1 920.75,1287.01 920.96,1281.44 921.18,1268.69 921.4,1257.66 921.62,1242.96 921.83,1232.19 922.05,1220.93 922.27,1206.47 922.48,1188.51 922.7,1173.39 922.92,1163.34 923.14,1151.47 923.35,1138.26 923.57,1129.81 923.79,1131.47 924,1130.99 924.22,1133.54 924.44,1129.32 924.66,1129.38 924.87,1118.69 925.09,1116.6 925.31,1117.32" fill="none" stroke="#e6393b" stroke-width="1.5" stroke-linejoin="round"/>
<polyline points="938.27,1304.94 938.49,1300.46 938.71,1298.7 938.92,1298.11 939.14,1291.08 939.36,1284.31 939.57,1268.55 939.79,1255.26 940.01,1241.07 940.23,1229.26 940.44,1216.49 940.66,1195.1 940.88,1175.87 941.09,1154.22 941.31,1138.15 941.53,1121.68 941.74,1108.93 941.96,1097.54 942.18,1087.32 942.4,1083.7 942.61,1078.74 942.83,1077.71 943.05,1077.14 943.26,1072.94 943.48,1063.83 943.7,1065.96 943.92,1070.92 944.13,1060.46 944.35,1061.56 944.57,1058.12 944.78,1066.35 945,1061.46 945.22,1065.93 945.44,1077.59 945.65,1074.84 945.87,1077.51 946.09,1088.44 946.3,1107.29 946.52,1126.57 946.74,1141.76 946.96,1158.52 947.17,1180.91 947.39,1198.44 947.61,1219.47 947.82,1235.3 948.04,1251.37 948.26,1261.28 948.48,1274.73 948.69,1282.32 948.91,1289.16 949.13,1291.2 949.34,1292.24 949.56,1301.2 949.78,1304.97 949.99,1310.94 950.21,1311.57 950.43,1304.41 950.65,1305.11 950.86,1295.24 951.08,1303.85 951.3,1306.71 951.51,1305.88 951.73,1302.68 951.95,1291.27 952.17,1293.25 952.38,1281.78 952.6,1272.54 952.82,1259.27 953.03,1249.31 953.25,1236.83 953.47,1215.65 953.69,1193 953.9,1169.99 954.12,1152.57 954.34,1133.95 954.55,1120.66 954.77,1111.38 954.99,1099.8 955.21,1089.67 955.42,1087.65 955.64,1085.49 955.86,1077.74 956.07,1053.77 956.29,1058.86 956.51,1062.1 956.73,1068.95 956.94,1056.58 957.16,1061.25 957.38,1062.06 957.59,1069.7 957.81,1067.68 958.03,1075.62 958.24,1074.82 958.46,1080.7 958.68,1082.09 958.9,1091.07 959.11,1094.82 959.33,1101.64 959.55,1116.59 959.76,1138.6 959.98,1162.04 960.2,1182.62 960.42,1204.69 960.63,1223.83 960.85,1242.09 961.07,1251.85 961.28,1265.54 961.5,1272.11 961.72,1280.9 961.94,1288.69 962.15,1298.24 962.37,1306.99 962.59,1309.91 962.8,1307.74 963.02,1309.22 963.24,1310.03 963.46,1315.61 963.67,1309.31 963.89,1308.6 964.11,1305.1 964.32,1312.26 964.54,1307.7 964.76,1306.84 964.98,1301.83 965.19,1303.85 965.41,1298.84 965.63,1286.26 965.84,1266.4 966.06,1252.45 966.28,1236.09 966.49,1218.87 966.71,1188.96 966.93,1171 967.15,1153.06 967.36,1146.45 967.58,1125.81 967.8,1106.47 968.01,1092.04 968.23,1079.68 968.45,1067.14 968.67,1062.12 968.88,1062.66 969.1,1071.84 969.32,1070.66 969.53,1074.91 969.75,1074.31 969.97,1077.62 970.19,1075.52 970.4,1070.15 970.62,1069.22 970.84,1073.2 971.05,1084.61 971.27,1080.45 971.49,1082.32 971.71,1078.9 971.92,1089.52 972.14,1104.4 972.36,1116.78 972.57,1130.05 972.79,1138.49 973.01,1157 973.23,1182.37 973.44,1209.21 973.66,1230.47 973.88,1244.81 974.09,1261.92 974.31,1277.59 974.53,1283.19 974.74,1282.9 974.96,1290.67 975.18,1299.34 975.4,1301.92 975.61,1302.2 975.83,1298.57 976.05,1306.64 976.26,1298.58 976.48,1299.91 976.7,1295.04 976.92,1301.91 977.13,1306.75 977.35,1310.72 977.57,1305.52 977.78,1297.82 978,1287.67 978.22,1284.96 978.44,1281.96 978.65,1278.19 978.87,1269.21 979.09,1258.86 979.3,1238.67 979.52,1220.59 979.74,1195.85 979.96,1178.19 980.17,1152.91 980.39,1132.2 980.61,1108.1 980.82,1093.83 981.04,1088.97 981.26,1087.77 981.48,1089.88 981.69,1081.77 981.91,1067.46 982.13,1066.22 982.34,1052.39 982.56,1063.25 982.78,1062.73 982.99,1074.1 983.21,1064.8 983.43,1060.72 983.65,1069.38 983.86,1067.19 984.08,1073.49 984.3,1065.98 984.51,1078.52 984.73,1080.54 984.95,1092.1 985.17,1106.17 985.38,1119.62 985.6,1131.64 985.82,1146.94 986.03,1163.77 986.25,1180.58 986.47,1194.6 986.69,1209.9 986.9,1228.48 987.12,1248.65 987.34,1264.36 987.55,1279.99 987.77,1297.11 987.99,1304.11 988.21,1306.36 988.42,1296.58 988.64,1304.62 988.86,1303.16 989.07,1310.49 989.29,1311.55 989.51,1315.61 989.73,1311.64 989.94,1306.3 990.16,1302.57 990.38,1307.96 990.59,1303.78 990.81,1298.65 991.03,1294.53 991.25,1289.28 991.46,1289.67 991.68,1276.84 991.9,1270.54 992.11,1251.69 992.33,1235.78 992.55,1216.46 992.76,1196.8 992.98,1178.96 993.2,1156.83 993.42,1142.75 993.63,1122.69 993.85,1111.92 994.07,1091.66 994.28,1082.84 994.5,1070.36 994.72,1078.54 994.94,1088 995.15,1092.69 995.37,1073.64 995.59,1065.81 995.8,1053.46 996.02,1056.11 996.24,1054.1 996.46,1062.72 996.67,1063.45 996.89,1063.24 997.11,1066.64 997.32,1079.68 997.54,1081.92 997.76,1085.73 997.98,1084.56 998.19,1093.37 998.41,1100.52 998.63,1119.77 998.84,1130.12 999.06,1152.83 999.28,1173.11 999.5,1200.48 999.71,1223.4 999.93,1243.37 1000.15,1257.23 1000.36,1269.1 1000.58,1275.18 1000.8,1289.73 1001.01,1299.1 1001.23,1306.49 1001.45,1303.35 1001.67,1304.28 1001.88,1303.42 1002.1,1300.93 1002.32,1295.94 1002.53,1305.55 1002.75,1306.02 1002.97,1308 1003.19,1302.65 1003.4,1303.98 1003.62,1303.21 1003.84,1293.87 1004.05,1293.73 1004.27,1282.3 1004.49,1277.89 1004.71,1261.95 1004.92,1253 1005.14,1239.7 1005.36,1229.07 1005.57,1212.48 1005.79,1195.93 1006.01,1173.35 1006.23,1154.92 1006.44,1131.02 1006.66,1117.41 1006.88,1105.73 1007.09,1103.74 1007.31,1090.01 1007.53,1080.02 1007.75,1068.41 1007.96,1078.51 1008.18,1070.71 1008.4,1067.59 1008.61,1054.46 1008.83,1051.51 1009.05,1060.89 1009.26,1073.06 1009.48,1085.23 1009.7,1075.82 1009.92,1065.93 1010.13,1056.81 1010.35,1067.49 1010.57,1069.75 1010.78,1086.61 1011,1089.01 1011.22,1105.44 1011.44,1111.83 1011.65,1124.39 1011.87,1134.92 1012.09,1152.92 1012.3,1175.14 1012.52,1194.21 1012.74,1210.95 1012.96,1229.18 1013.17,1247.09 1013.39,1263.53 1013.61,1269.43 1013.82,1277.18 1014.04,1281.41 1014.26,1289.31 1014.48,1296.66 1014.69,1297 1014.91,1299.79" fill="none" stroke="#2b6db5" stroke-width="1.6" stroke-linejoin="round"/>
<polyline points="1028.99,1055.52 1029.21,1039.74 1029.42,1037.32 1029.64,1027.11 1029.86,1046.13 1030.08,1051.41 1030.29,1056.83 1030.51,1059.44 1030.73,1069.23 1030.94,1075.86 1031.16,1084.74 1031.38,1095.54 1031.6,1115.45 1031.81,1136.61 1032.03,1157.49 1032.25,1174.76 1032.46,1193.61 1032.68,1208.21 1032.9,1228.39 1033.12,1240.23 1033.33,1255.1 1033.55,1264.04 1033.77,1270.73 1033.98,1276.28 1034.2,1275.45 1034.42,1278.54 1034.64,1279.5 1034.85,1286.61 1035.07,1291.66 1035.29,1290.14 1035.5,1290.94 1035.72,1289.14 1035.94,1293.58 1036.16,1291.71 1036.37,1294.46 1036.59,1295.37 1036.81,1290.72 1037.02,1282.14 1037.24,1279.1 1037.46,1271.27 1037.67,1261.34 1037.89,1243.83 1038.11,1225.86 1038.33,1211.34 1038.54,1189.73 1038.76,1169.58 1038.98,1146.38 1039.19,1131.07 1039.41,1110.62 1039.63,1097.69 1039.85,1079.75 1040.06,1081.93 1040.28,1076.74 1040.5,1071.75 1040.71,1069.81 1040.93,1060 1041.15,1049.47 1041.37,1047.77 1041.58,1051.06 1041.8,1055.98 1042.02,1049.24 1042.23,1042.66 1042.45,1047.63 1042.67,1057.01 1042.89,1079.17 1043.1,1083.69 1043.32,1071.78 1043.54,1066.63 1043.75,1065.11 1043.97,1085.22 1044.19,1088.18 1044.41,1105.94 1044.62,1115.12 1044.84,1135.16 1045.06,1154.96 1045.27,1174.5 1045.49,1196.06 1045.71,1211.2 1045.92,1231.11 1046.14,1241.19 1046.36,1259.56 1046.58,1270.36 1046.79,1278.42 1047.01,1279.36 1047.23,1278.46 1047.44,1277.1 1047.66,1284.05 1047.88,1282.08 1048.1,1289.31 1048.31,1279.29 1048.53,1288.1 1048.75,1290.82 1048.96,1299.69 1049.18,1297.55 1049.4,1300.38 1049.62,1296.39 1049.83,1290.25 1050.05,1283.1 1050.27,1276.81 1050.48,1273.63 1050.7,1255.7 1050.92,1241.26 1051.14,1221.65 1051.35,1206.91 1051.57,1190.36 1051.79,1172.71 1052,1156.41 1052.22,1139.5 1052.44,1122.88 1052.66,1103.07 1052.87,1089.96 1053.09,1071.52 1053.31,1066.38 1053.52,1047.14 1053.74,1052.47 1053.96,1055.33 1054.17,1067.85 1054.39,1076.33 1054.61,1066.39 1054.83,1059.1 1055.04,1044.65 1055.26,1048.95 1055.48,1046.69 1055.69,1054.19 1055.91,1054.51 1056.13,1060.49 1056.35,1054.42 1056.56,1053.29 1056.78,1059.5 1057,1075.56 1057.21,1089.82 1057.43,1104.77 1057.65,1116.15 1057.87,1137.58 1058.08,1155.78 1058.3,1175.37 1058.52,1193.13 1058.73,1209.78 1058.95,1221.45 1059.17,1234.59 1059.39,1250.35 1059.6,1267.03 1059.82,1270.7 1060.04,1272.9 1060.25,1272.14 1060.47,1279.03 1060.69,1277.62 1060.91,1285.22 1061.12,1281.62 1061.34,1285.45 1061.56,1281.26 1061.77,1280.61 1061.99,1290.27 1062.21,1285.68 1062.42,1279.65 1062.64,1269.23 1062.86,1273.91 1063.08,1279.57 1063.29,1270.26 1063.51,1261.17 1063.73,1254.91 1063.94,1247.77 1064.16,1237.08 1064.38,1218.57 1064.6,1199.81 1064.81,1180.63 1065.03,1159.3 1065.25,1139.36 1065.46,1116.2 1065.68,1111.11 1065.9,1095.84 1066.12,1082 1066.33,1066.13 1066.55,1072.47 1066.77,1088.39 1066.98,1077.79 1067.2,1067.98 1067.42,1051.79 1067.64,1057.62 1067.85,1066.85 1068.07,1072.6 1068.29,1072.16 1068.5,1067.75 1068.72,1063.8 1068.94,1069.48 1069.16,1061.25 1069.37,1077.55 1069.59,1075.09 1069.81,1085.24 1070.02,1078.2 1070.24,1084.15 1070.46,1094.5 1070.67,1112 1070.89,1134.98 1071.11,1152.02 1071.33,1171.86 1071.54,1188.8 1071.76,1209.83 1071.98,1226.07 1072.19,1243.37 1072.41,1247 1072.63,1256.03 1072.85,1262.19 1073.06,1279.14 1073.28,1283.1 1073.5,1286.75 1073.71,1284.35 1073.93,1287.38 1074.15,1285.4 1074.37,1284.46 1074.58,1283.46 1074.8,1282.7 1075.02,1284.48 1075.23,1278.84 1075.45,1279.28 1075.67,1274.18 1075.89,1273.6 1076.1,1267.12 1076.32,1270.56 1076.54,1264.84 1076.75,1261 1076.97,1246.57 1077.19,1232.96 1077.41,1213.63 1077.62,1196.74 1077.84,1174.45 1078.06,1154.4 1078.27,1128.25 1078.49,1113.74 1078.71,1104.87 1078.92,1092.71 1079.14,1078.63 1079.36,1052.92 1079.58,1055.16 1079.79,1067.23 1080.01,1072.99 1080.23,1075.41 1080.44,1066.74 1080.66,1073.33 1080.88,1073.59 1081.1,1061.52 1081.31,1061.86 1081.53,1069.15 1081.75,1065.58 1081.96,1065.37 1082.18,1061.15 1082.4,1069.71 1082.62,1068.25 1082.83,1076.68 1083.05,1083.58 1083.27,1090.49 1083.48,1094.67 1083.7,1119.49 1083.92,1138.49 1084.14,1162.49 1084.35,1176.58 1084.57,1194.75 1084.79,1206.79 1085,1226.19 1085.22,1238.31 1085.44,1253.42 1085.66,1261.26 1085.87,1276.77 1086.09,1280.64 1086.31,1281.8 1086.52,1282.36 1086.74,1289.89 1086.96,1288.58 1087.17,1288.35 1087.39,1282.11 1087.61,1285.49 1087.83,1285.86 1088.04,1291.71 1088.26,1295.44 1088.48,1295.56 1088.69,1300.44 1088.91,1296.9 1089.13,1286.96 1089.35,1270.98 1089.56,1265.88 1089.78,1257.41 1090,1246.41 1090.21,1224.78 1090.43,1209.57 1090.65,1191.83 1090.87,1174.17 1091.08,1154.72 1091.3,1131.91 1091.52,1117.27 1091.73,1096.8 1091.95,1087.88 1092.17,1080.95 1092.39,1082.76 1092.6,1078.08 1092.82,1061.76 1093.04,1052.1 1093.25,1047.07 1093.47,1045.17 1093.69,1044.07 1093.91,1037.08 1094.12,1044.39 1094.34,1037.76 1094.56,1056.22 1094.77,1063.12 1094.99,1073.34 1095.21,1059.39 1095.42,1047 1095.64,1050.98 1095.86,1061.38 1096.08,1074.84 1096.29,1085.03 1096.51,1098.02 1096.73,1118.47 1096.94,1138.24 1097.16,1156.55 1097.38,1176.76 1097.6,1194.91 1097.81,1211.59 1098.03,1225.89 1098.25,1243.42 1098.46,1263.62 1098.68,1275.84 1098.9,1280.41 1099.12,1278.21 1099.33,1280.25 1099.55,1282.32 1099.77,1286.23 1099.98,1288.65 1100.2,1294.9 1100.42,1291.93 1100.64,1288.49 1100.85,1279.22 1101.07,1286.64 1101.29,1289.55 1101.5,1292.57 1101.72,1289.67 1101.94,1289.36 1102.16,1288.1 1102.37,1284.63 1102.59,1272.97 1102.81,1266.46 1103.02,1248.02 1103.24,1230.13 1103.46,1212.49 1103.68,1195.53 1103.89,1177.09 1104.11,1155.6 1104.33,1135.87 1104.54,1117.82 1104.76,1100.97 1104.98,1085.01 1105.19,1076.13 1105.41,1071.28 1105.63,1074.55 1105.85,1063.9 1106.06,1045.23 1106.28,1035.34 1106.5,1032.57 1106.71,1039.24" fill="none" stroke="#39a56b" stroke-width="1.6" stroke-linejoin="round"/>
<polyline points="1120.87,1240.09 1122.18,1148.06 1123.23,1126.15 1124.54,1020.98 1125.33,1302.62 1126.11,1240.09 1126.77,1227.79 1127.56,1248.02 1128.34,1227.11 1129.13,1249.71 1129.91,1233.74 1130.7,1249.85 1131.49,1229.34 1132.27,1248.76 1133.06,1231.84 1133.98,1240.09 1135.29,1151.17 1136.34,1130 1137.65,1028.38 1138.43,1258.99 1139.22,1240.09 1139.87,1249.73 1140.66,1229.38 1141.45,1251.19 1142.23,1232.36 1143.02,1248.23 1143.8,1228.25 1144.59,1251.9 1145.38,1231.75 1146.16,1251.34 1147.08,1240.09 1148.39,1146.37 1149.44,1124.05 1150.75,1016.94 1151.54,1281.83 1152.32,1240.09 1152.98,1230.73 1153.76,1253.76 1154.55,1225.5 1155.34,1253.04 1156.12,1231.36 1156.91,1245.6 1157.69,1231.43 1158.48,1249.62 1159.27,1229.01 1160.18,1240.09 1161.5,1148.33 1162.54,1126.48 1163.85,1021.61 1164.64,1310.99 1165.43,1240.09 1166.08,1246.21 1166.87,1233.03 1167.65,1245.33 1168.44,1227.81 1169.23,1248.44 1170.01,1231.16 1170.8,1246.04 1171.59,1228.3 1172.37,1246.75 1173.29,1240.09 1174.6,1145.08 1175.65,1122.46 1176.96,1013.88 1177.74,1270.82 1178.53,1240.09 1179.19,1229.66 1179.97,1248.3 1180.76,1234.23 1181.54,1253.43 1182.33,1229.22 1183.12,1250.6 1183.9,1229.88 1184.69,1252.28 1185.48,1230.15 1186.39,1240.09 1187.7,1149.27 1188.75,1127.65 1190.06,1023.86 1190.85,1287.03 1191.63,1240.09 1192.29,1252.42 1193.08,1229.66 1193.86,1253.56 1194.65,1234.64 1195.43,1251.78 1196.22,1229.8 1197.01,1248.27 1197.79,1228.93 1198.58,1247.56" fill="none" stroke="#9c7abd" stroke-width="1.6" stroke-linejoin="round"/>
<line x1="1343.7" y1="1312.5" x2="1343.7" y2="1306.7" stroke="#000" stroke-width="2.8"/>
<line x1="1477.7" y1="1312.5" x2="1477.7" y2="1306.7" stroke="#000" stroke-width="2.8"/>
<line x1="1611.7" y1="1312.5" x2="1611.7" y2="1306.7" stroke="#000" stroke-width="2.8"/>
<line x1="1745.7" y1="1312.5" x2="1745.7" y2="1306.7" stroke="#000" stroke-width="2.8"/>
<line x1="1410.7" y1="1312.5" x2="1410.7" y2="1309.5" stroke="#000" stroke-width="2.8"/>
<line x1="1544.7" y1="1312.5" x2="1544.7" y2="1309.5" stroke="#000" stroke-width="2.8"/>
<line x1="1678.7" y1="1312.5" x2="1678.7" y2="1309.5" stroke="#000" stroke-width="2.8"/>
<line x1="1812.7" y1="1312.5" x2="1812.7" y2="1309.5" stroke="#000" stroke-width="2.8"/>
<line x1="1343.7" y1="1280.99" x2="1349.5" y2="1280.99" stroke="#000" stroke-width="2.8"/>
<line x1="1343.7" y1="1217.97" x2="1349.5" y2="1217.97" stroke="#000" stroke-width="2.8"/>
<line x1="1343.7" y1="1154.95" x2="1349.5" y2="1154.95" stroke="#000" stroke-width="2.8"/>
<line x1="1343.7" y1="1091.94" x2="1349.5" y2="1091.94" stroke="#000" stroke-width="2.8"/>
<line x1="1343.7" y1="1028.92" x2="1349.5" y2="1028.92" stroke="#000" stroke-width="2.8"/>
<line x1="1343.7" y1="965.9" x2="1349.5" y2="965.9" stroke="#000" stroke-width="2.8"/>
<line x1="1343.7" y1="1249.48" x2="1346.7" y2="1249.48" stroke="#000" stroke-width="2.8"/>
<line x1="1343.7" y1="1186.46" x2="1346.7" y2="1186.46" stroke="#000" stroke-width="2.8"/>
<line x1="1343.7" y1="1123.45" x2="1346.7" y2="1123.45" stroke="#000" stroke-width="2.8"/>
<line x1="1343.7" y1="1060.43" x2="1346.7" y2="1060.43" stroke="#000" stroke-width="2.8"/>
<line x1="1343.7" y1="997.41" x2="1346.7" y2="997.41" stroke="#000" stroke-width="2.8"/>
<rect x="1343.7" y="965.9" width="495.8" height="346.6" fill="none" stroke="#000" stroke-width="3.3"/>
<text transform="translate(1343.7,1347) scale(1,1.04)" font-size="30" text-anchor="middle">0</text>
<text transform="translate(1477.7,1347) scale(1,1.04)" font-size="30" text-anchor="middle">1</text>
<text transform="translate(1611.7,1347) scale(1,1.04)" font-size="30" text-anchor="middle">2</text>
<text transform="translate(1745.7,1347) scale(1,1.04)" font-size="30" text-anchor="middle">3</text>
<text transform="translate(1331.6,1291.79) scale(1,1.04)" font-size="30" text-anchor="end">3</text>
<text transform="translate(1331.6,1228.77) scale(1,1.04)" font-size="30" text-anchor="end">4</text>
<text transform="translate(1331.6,1165.75) scale(1,1.04)" font-size="30" text-anchor="end">5</text>
<text transform="translate(1331.6,1102.74) scale(1,1.04)" font-size="30" text-anchor="end">6</text>
<text transform="translate(1331.6,1039.72) scale(1,1.04)" font-size="30" text-anchor="end">7</text>
<text transform="translate(1331.6,976.7) scale(1,1.04)" font-size="30" text-anchor="end">8</text>
<text transform="translate(1594.2,1379) scale(1,1.04)" font-size="30" text-anchor="middle">Pressure/kPa</text>
<text transform="translate(1292.0,1139.2) rotate(-90) scale(1,1.04)" font-size="30" text-anchor="middle">Voltage/V</text>
<line x1="1409.9" y1="1275.95" x2="1482.66" y2="1081.22" stroke="#e5262b" stroke-width="2.2"/>
<line x1="1481.05" y1="1071.14" x2="1803.32" y2="1003.08" stroke="#e5262b" stroke-width="2.2"/>
<polygon points="1410.57,1282.09 1412.04,1285.27 1415.51,1285.69 1412.94,1288.07 1413.62,1291.5 1410.57,1289.79 1407.51,1291.5 1408.19,1288.07 1405.62,1285.69 1409.1,1285.27" fill="#000" stroke="#000" stroke-width="0.8" stroke-linejoin="round"/>
<polygon points="1436.43,1175.59 1437.9,1178.77 1441.37,1179.19 1438.81,1181.56 1439.48,1185 1436.43,1183.29 1433.37,1185 1434.05,1181.56 1431.48,1179.19 1434.96,1178.77" fill="#000" stroke="#000" stroke-width="0.8" stroke-linejoin="round"/>
<polygon points="1474.35,1125.18 1475.82,1128.35 1479.3,1128.77 1476.73,1131.15 1477.41,1134.58 1474.35,1132.88 1471.29,1134.58 1471.97,1131.15 1469.4,1128.77 1472.88,1128.35" fill="#000" stroke="#000" stroke-width="0.8" stroke-linejoin="round"/>
<polygon points="1482.66,1061.53 1484.13,1064.71 1487.6,1065.12 1485.04,1067.5 1485.71,1070.94 1482.66,1069.23 1479.6,1070.94 1480.28,1067.5 1477.71,1065.12 1481.19,1064.71" fill="#000" stroke="#000" stroke-width="0.8" stroke-linejoin="round"/>
<polygon points="1514.15,1057.12 1515.62,1060.3 1519.09,1060.71 1516.53,1063.09 1517.2,1066.52 1514.15,1064.82 1511.09,1066.52 1511.77,1063.09 1509.2,1060.71 1512.68,1060.3" fill="#000" stroke="#000" stroke-width="0.8" stroke-linejoin="round"/>
<polygon points="1688.88,1039.47 1690.35,1042.65 1693.83,1043.07 1691.26,1045.45 1691.94,1048.88 1688.88,1047.17 1685.83,1048.88 1686.51,1045.45 1683.94,1043.07 1687.41,1042.65" fill="#000" stroke="#000" stroke-width="0.8" stroke-linejoin="round"/>
<polygon points="1802.78,988.43 1804.25,991.61 1807.73,992.02 1805.16,994.4 1805.84,997.83 1802.78,996.13 1799.73,997.83 1800.41,994.4 1797.84,992.02 1801.31,991.61" fill="#000" stroke="#000" stroke-width="0.8" stroke-linejoin="round"/>
<text transform="translate(1786,996) scale(1,1.04)" font-size="30" text-anchor="end">@3 000 rpm</text>
<text transform="translate(1572.6,1080.6) scale(1,1.04)" font-size="30"><tspan font-style="italic">S</tspan><tspan font-size="21" dy="6" font-weight="normal">2</tspan><tspan dy="-6"> = 0.447 V·kPa</tspan><tspan font-size="18" dy="-11" font-weight="normal">−1</tspan></text>
<text transform="translate(1614.0,1116.4) scale(1,1.04)" font-size="30"><tspan font-style="italic">R</tspan><tspan font-size="20" dy="-11" font-weight="normal">2</tspan><tspan dy="11"> = 0.880</tspan></text>
<text transform="translate(1456.5,1193.2) scale(1,1.04)" font-size="30"><tspan font-style="italic">S</tspan><tspan font-size="21" dy="6" font-weight="normal">1</tspan><tspan dy="-6"> = 5.76 V·kPa</tspan><tspan font-size="18" dy="-11" font-weight="normal">−1</tspan></text>
<text transform="translate(1491.0,1229.6) scale(1,1.04)" font-size="30"><tspan font-style="italic">R</tspan><tspan font-size="20" dy="-11" font-weight="normal">2</tspan><tspan dy="11"> = 0.933</tspan></text>
<defs>
<linearGradient id="cylA" x1="0" x2="1" y1="0" y2="0">
 <stop offset="0" stop-color="#7f96c6"/><stop offset="0.12" stop-color="#5a7cc0"/><stop offset="0.3" stop-color="#4a6db4"/>
 <stop offset="0.44" stop-color="#2a3f6a"/><stop offset="0.5" stop-color="#0d0f14"/><stop offset="0.56" stop-color="#2a3f6a"/>
 <stop offset="0.7" stop-color="#4b6aa6"/><stop offset="0.88" stop-color="#4e6896"/><stop offset="1" stop-color="#8093b8"/>
</linearGradient>
<linearGradient id="cylB" x1="0" x2="1" y1="0" y2="0">
 <stop offset="0" stop-color="#8ea3cc"/><stop offset="0.15" stop-color="#6580b8"/><stop offset="0.3" stop-color="#4563a0"/>
 <stop offset="0.45" stop-color="#1d2436"/><stop offset="0.55" stop-color="#111114"/><stop offset="0.65" stop-color="#1d2638"/>
 <stop offset="0.8" stop-color="#3f5a8c"/><stop offset="1" stop-color="#8798bb"/>
</linearGradient>
<linearGradient id="rodG" x1="0" x2="0" y1="0" y2="1">
 <stop offset="0" stop-color="#8a8a8a"/><stop offset="0.3" stop-color="#858585"/><stop offset="0.4" stop-color="#6c6c6c"/>
 <stop offset="0.62" stop-color="#707070"/><stop offset="0.7" stop-color="#9a9a9a"/><stop offset="1" stop-color="#a2a2a2"/>
</linearGradient>
<marker id="ah" viewBox="0 0 10 10" refX="9" refY="5" markerWidth="9" markerHeight="8" markerUnits="userSpaceOnUse" orient="auto">
 <path d="M0,0 L10,5 L0,10 z" fill="#000"/>
</marker>
</defs>
<path d="M212.4,358 V31 Q212.4,26.3 229.3,26.3 Q246.3,26.3 246.3,31 V358 Z" fill="#c0bfbf"/>
<rect x="285.9" y="35.8" width="43" height="50" fill="#a6a6a6"/>
<path d="M197.5,95.8 H269.5 V83.8 H350.7 V235.3 H269.5 V200.2 H197.5 Z" fill="#283040"/>
<rect x="285.9" y="235.3" width="43" height="11" fill="#a6a6a6"/>
<rect x="288.3" y="246.2" width="38.8" height="23.6" fill="url(#cylA)"/>
<rect x="282" y="269.6" width="53.8" height="5.3" fill="#ef8535"/>
<rect x="282" y="274.9" width="53.8" height="8.1" fill="#e9e9e9"/>
<rect x="282" y="283.0" width="53.8" height="6.0" fill="#ef8535"/>
<rect x="284" y="288.6" width="54.4" height="30" fill="url(#cylB)"/>
<rect x="269.6" y="318.2" width="81.1" height="40.5" fill="#1f3763"/>
<rect x="198" y="358.4" width="162.2" height="20.2" fill="#1f3763"/>
<rect x="168.4" y="378.5" width="211.8" height="22.8" fill="#222832"/>
<g transform="translate(310.3,149.0) rotate(-30.86)"><rect x="0" y="-8.8" width="183.25" height="17.6" fill="url(#rodG)"/><ellipse cx="183.25" cy="0" rx="4" ry="8.8" fill="#a8a8a8"/></g>
<ellipse cx="310.3" cy="149.0" rx="11.3" ry="8.8" fill="#0a0a0c" stroke="#3a5fa8" stroke-width="1.2"/>
<line x1="326.7" y1="256.6" x2="373.8" y2="234.9" stroke="#000" stroke-width="1.3" marker-end="url(#ah)"/>
<line x1="280.7" y1="280.0" x2="171.7" y2="311.5" stroke="#000" stroke-width="1.3" marker-end="url(#ah)"/>
<line x1="338.8" y1="296.8" x2="386.0" y2="311.5" stroke="#000" stroke-width="1.3" marker-end="url(#ah)"/>
<text transform="translate(404.6,158.1) scale(1,1.04)" font-size="30" text-anchor="middle">Quart</text>
<text transform="translate(404.6,191.2) scale(1,1.04)" font-size="30" text-anchor="middle">force</text>
<text transform="translate(404.6,225.1) scale(1,1.04)" font-size="30" text-anchor="middle">sensor</text>
<text transform="translate(150.2,343.8) scale(1,1.04)" font-size="30" text-anchor="middle">Device</text>
<text transform="translate(414.6,352) scale(1,1.04)" font-size="30" text-anchor="middle">Shaker</text>
<path d="M133.7,526.6 H157.2 V578.9 H319.5 V523.2 H342.6 V578.9 H457.9 V522.6 H481.7 V621.2 H133.7 Z" fill="#8ea6d4"/>
<rect x="157.2" y="545.0" width="162.3" height="7.3" fill="#44546a"/>
<rect x="335.2" y="509.1" width="131.2" height="14.4" fill="#ef8535"/>
<rect x="335.2" y="513.6" width="131.2" height="0.9" fill="#f3c9a0"/>
<rect x="335.2" y="514.4" width="131.2" height="4.5" fill="#6aad46"/>
<path d="M230.3,510.6 H267.4 V507.4 L274.2,514.15 L267.4,521.5 V517.7 H230.3 Z" fill="#fff" stroke="#231f20" stroke-width="1.3" stroke-linejoin="miter"/>
<path d="M254.2,525 H217.0 V521.2 L210.3,528.15 L217.0,535.1 V531.3 H254.2 Z" fill="#fff" stroke="#231f20" stroke-width="1.3" stroke-linejoin="miter"/>
<text transform="translate(402,561.3) scale(1,1.04)" font-size="30" text-anchor="middle">Device</text>
<text transform="translate(311.4,651) scale(1,1.04)" font-size="30" text-anchor="middle">Linear motor</text>
<path d="M133.7,743.2 H157.2 V793.3 H344.1 V741.9 H366.8 V793.3 H458.0 V739.2 H481.7 V837.3 H133.7 Z" fill="#8ea6d4"/>
<rect x="157.2" y="762.3" width="186.9" height="8.2" fill="#44546a"/>
<path d="M357.8,738.6 C371,736.8 380,733 385.5,725 C392,715 402,712.5 413,712.5 C425,712.5 434,715 440.5,724 C446,732 456,735 466.9,737" fill="none" stroke="#ec7f35" stroke-width="12.6"/>
<path d="M357.8,738.6 C371,736.8 380,733 385.5,725 C392,715 402,712.5 413,712.5 C425,712.5 434,715 440.5,724 C446,732 456,735 466.9,737" fill="none" stroke="#6aad46" stroke-width="4.4"/>
<path d="M230.3,727.5 H267.4 V724.3 L274.2,731.05 L267.4,738.4 V734.6 H230.3 Z" fill="#fff" stroke="#231f20" stroke-width="1.3" stroke-linejoin="miter"/>
<path d="M254.2,741.9 H217.0 V738.1 L210.3,745.05 L217.0,752 V748.2 H254.2 Z" fill="#fff" stroke="#231f20" stroke-width="1.3" stroke-linejoin="miter"/>
<text transform="translate(412,770.8) scale(1,1.04)" font-size="30" text-anchor="middle">Device</text>
<text transform="translate(313.3,866) scale(1,1.04)" font-size="30" text-anchor="middle">Linear motor</text>
</svg>
</body></html>
